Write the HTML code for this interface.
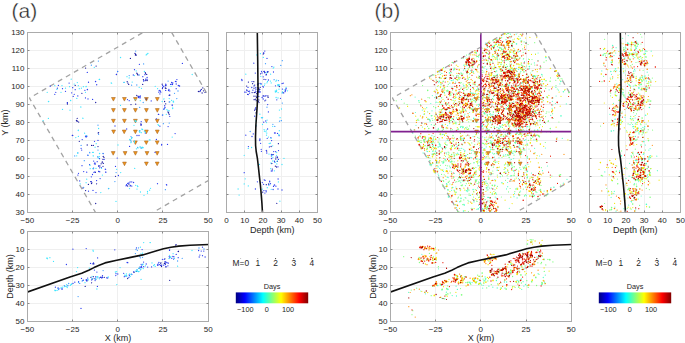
<!DOCTYPE html>
<html><head><meta charset="utf-8"><style>
html,body{margin:0;padding:0;background:#fff;}
svg{display:block;}
text{font-family:"Liberation Sans", sans-serif;fill:#262626;}
</style></head><body>
<svg width="685" height="343" viewBox="0 0 685 343">
<defs><linearGradient id="jet" x1="0" x2="1" y1="0" y2="0">
<stop offset="0" stop-color="#000080"/><stop offset="0.125" stop-color="#0000ff"/>
<stop offset="0.375" stop-color="#00ffff"/><stop offset="0.625" stop-color="#ffff00"/>
<stop offset="0.875" stop-color="#ff0000"/><stop offset="1" stop-color="#800000"/>
</linearGradient></defs>
<rect width="685" height="343" fill="#fff"/>
<line x1="72.5" y1="32.5" x2="72.5" y2="212.5" stroke="#efefef"/><line x1="117.5" y1="32.5" x2="117.5" y2="212.5" stroke="#efefef"/><line x1="162.5" y1="32.5" x2="162.5" y2="212.5" stroke="#efefef"/><line x1="27.5" y1="194.5" x2="208.5" y2="194.5" stroke="#efefef"/><line x1="27.5" y1="176.5" x2="208.5" y2="176.5" stroke="#efefef"/><line x1="27.5" y1="158.5" x2="208.5" y2="158.5" stroke="#efefef"/><line x1="27.5" y1="140.5" x2="208.5" y2="140.5" stroke="#efefef"/><line x1="27.5" y1="122.5" x2="208.5" y2="122.5" stroke="#efefef"/><line x1="27.5" y1="104.5" x2="208.5" y2="104.5" stroke="#efefef"/><line x1="27.5" y1="86.5" x2="208.5" y2="86.5" stroke="#efefef"/><line x1="27.5" y1="68.5" x2="208.5" y2="68.5" stroke="#efefef"/><line x1="27.5" y1="50.5" x2="208.5" y2="50.5" stroke="#efefef"/><line x1="244.5" y1="32.5" x2="244.5" y2="212.5" stroke="#efefef"/><line x1="262.5" y1="32.5" x2="262.5" y2="212.5" stroke="#efefef"/><line x1="281.5" y1="32.5" x2="281.5" y2="212.5" stroke="#efefef"/><line x1="299.5" y1="32.5" x2="299.5" y2="212.5" stroke="#efefef"/><line x1="226.5" y1="194.5" x2="317.5" y2="194.5" stroke="#efefef"/><line x1="226.5" y1="176.5" x2="317.5" y2="176.5" stroke="#efefef"/><line x1="226.5" y1="158.5" x2="317.5" y2="158.5" stroke="#efefef"/><line x1="226.5" y1="140.5" x2="317.5" y2="140.5" stroke="#efefef"/><line x1="226.5" y1="122.5" x2="317.5" y2="122.5" stroke="#efefef"/><line x1="226.5" y1="104.5" x2="317.5" y2="104.5" stroke="#efefef"/><line x1="226.5" y1="86.5" x2="317.5" y2="86.5" stroke="#efefef"/><line x1="226.5" y1="68.5" x2="317.5" y2="68.5" stroke="#efefef"/><line x1="226.5" y1="50.5" x2="317.5" y2="50.5" stroke="#efefef"/><line x1="72.5" y1="231.5" x2="72.5" y2="321.5" stroke="#efefef"/><line x1="117.5" y1="231.5" x2="117.5" y2="321.5" stroke="#efefef"/><line x1="162.5" y1="231.5" x2="162.5" y2="321.5" stroke="#efefef"/><line x1="27.5" y1="249.5" x2="208.5" y2="249.5" stroke="#efefef"/><line x1="27.5" y1="267.5" x2="208.5" y2="267.5" stroke="#efefef"/><line x1="27.5" y1="285.5" x2="208.5" y2="285.5" stroke="#efefef"/><line x1="27.5" y1="303.5" x2="208.5" y2="303.5" stroke="#efefef"/><clipPath id="c0m"><rect x="27.5" y="32.5" width="181.0" height="180.0"/></clipPath><clipPath id="c0d"><rect x="226.5" y="32.5" width="91.0" height="180.0"/></clipPath><clipPath id="c0z"><rect x="27.5" y="231.5" width="181.0" height="90.0"/></clipPath><g clip-path="url(#c0m)"><line x1="29.43" y1="98.03" x2="164.50" y2="20.05" stroke="#a3a3a3" stroke-width="1.3" stroke-dasharray="5 4.25" stroke-dashoffset="4.14"/><line x1="29.43" y1="98.03" x2="109.90" y2="237.35" stroke="#a3a3a3" stroke-width="1.3" stroke-dasharray="5 4.25" stroke-dashoffset="1.4"/><line x1="164.50" y1="20.05" x2="244.90" y2="159.40" stroke="#a3a3a3" stroke-width="1.3" stroke-dasharray="5 4.25" stroke-dashoffset="4.3"/><line x1="244.90" y1="159.40" x2="109.90" y2="237.35" stroke="#a3a3a3" stroke-width="1.3" stroke-dasharray="5 4.25" stroke-dashoffset="5.0"/><path d="M111.50,97.50L115.30,97.50L113.40,101.10ZM122.50,97.50L126.30,97.50L124.40,101.10ZM133.50,97.50L137.30,97.50L135.40,101.10ZM144.50,97.50L148.30,97.50L146.40,101.10ZM155.40,97.50L159.20,97.50L157.30,101.10ZM111.50,108.60L115.30,108.60L113.40,112.20ZM122.50,108.60L126.30,108.60L124.40,112.20ZM133.50,108.60L137.30,108.60L135.40,112.20ZM144.50,108.60L148.30,108.60L146.40,112.20ZM155.40,108.60L159.20,108.60L157.30,112.20ZM111.50,119.30L115.30,119.30L113.40,122.90ZM122.50,119.30L126.30,119.30L124.40,122.90ZM133.50,119.30L137.30,119.30L135.40,122.90ZM144.50,119.30L148.30,119.30L146.40,122.90ZM155.40,119.30L159.20,119.30L157.30,122.90ZM111.70,130.10L115.50,130.10L113.60,133.70ZM122.30,130.10L126.10,130.10L124.20,133.70ZM133.50,130.10L137.30,130.10L135.40,133.70ZM144.50,130.10L148.30,130.10L146.40,133.70ZM155.40,130.10L159.20,130.10L157.30,133.70ZM133.50,140.90L137.30,140.90L135.40,144.50ZM144.40,140.90L148.20,140.90L146.30,144.50ZM155.30,140.90L159.10,140.90L157.20,144.50ZM111.30,151.60L115.10,151.60L113.20,155.20ZM123.20,151.60L127.00,151.60L125.10,155.20ZM133.50,151.60L137.30,151.60L135.40,155.20ZM145.10,151.60L148.90,151.60L147.00,155.20ZM155.30,151.60L159.10,151.60L157.20,155.20ZM122.60,162.10L126.40,162.10L124.50,165.70ZM144.50,162.10L148.30,162.10L146.40,165.70ZM155.30,162.10L159.10,162.10L157.20,165.70Z" fill="#f39416" stroke="#a86a28" stroke-width="0.6"/><path d="M75.2 85.4h0M81.9 93.3h0M95.7 102.5h0M67.4 102.6h0M67.4 104.0h0M72.7 135.4h0M76.8 121.0h0M77.2 118.3h0M96.1 66.1h0M85.6 68.1h0M116.5 74.5h0M135.0 53.4h0M135.6 54.2h0M136.2 55.2h0M135.4 55.0h0M130.4 58.4h0M136.8 73.2h0M137.4 74.1h0M138.0 75.0h0M145.7 80.6h0M145.3 72.6h0M143.4 79.7h0M145.5 73.6h0M146.7 74.4h0M147.2 80.4h0M147.1 80.5h0M127.2 81.7h0M127.9 83.1h0M128.7 84.4h0M142.7 84.4h0M136.8 95.5h0M138.2 96.5h0M131.0 104.6h0M135.7 104.2h0M146.2 99.0h0M162.4 88.6h0M165.3 88.0h0M165.4 85.7h0M162.2 84.2h0M166.0 88.4h0M169.3 95.3h0M169.9 95.1h0M164.6 101.5h0M165.7 103.8h0M168.0 112.0h0M168.6 113.0h0M169.2 114.3h0M158.4 114.3h0M198.4 91.5h0M199.9 91.5h0M201.3 89.4h0M202.8 87.9h0M203.5 90.8h0M205.0 92.3h0M202.1 93.0h0M140.9 123.9h0M141.0 125.2h0M76.4 120.3h0M77.6 121.2h0M78.7 122.1h0M98.6 132.6h0M98.2 133.0h0M79.3 141.3h0M91.6 145.4h0M93.3 145.4h0M98.0 146.6h0M103.2 156.5h0M87.2 145.0h0M103.0 166.3h0M88.4 184.4h0M96.6 183.8h0M103.0 159.4h0M104.0 157.3h0M103.4 163.3h0M101.1 163.8h0M102.2 162.7h0M102.3 161.8h0M98.6 166.1h0M99.9 165.9h0M95.4 172.3h0M98.9 171.5h0M91.5 183.5h0M91.9 182.8h0M90.8 181.6h0M115.5 176.3h0M128.9 184.2h0M130.1 185.9h0M127.7 186.1h0M95.7 203.5h0M83.0 188.0h0M85.6 190.6h0" stroke="#1a1aa0" stroke-width="1.30" stroke-linecap="round"/><path d="M58.4 85.4h0M69.1 83.1h0M88.5 82.3h0M95.7 81.6h0M96.7 84.6h0M50.2 86.2h0M57.4 88.2h0M62.5 88.7h0M55.8 92.3h0M54.8 94.3h0M65.5 91.3h0M72.7 87.7h0M71.7 92.8h0M75.2 89.7h0M74.2 94.3h0M73.2 96.4h0M84.9 90.3h0M87.5 89.7h0M77.8 95.9h0M85.5 97.9h0M88.0 98.9h0M92.6 99.4h0M67.4 103.0h0M87.3 72.4h0M88.5 82.1h0M95.5 81.5h0M96.7 84.8h0M87.3 89.4h0M139.4 64.3h0M117.6 71.5h0M116.4 74.4h0M134.5 69.7h0M133.3 75.0h0M145.6 79.2h0M147.0 79.2h0M142.8 76.7h0M144.9 74.7h0M144.0 80.7h0M147.1 77.4h0M143.6 81.0h0M140.3 96.0h0M138.9 96.4h0M138.6 97.5h0M140.0 97.9h0M140.1 96.9h0M127.5 99.6h0M129.2 100.7h0M166.1 84.9h0M163.7 86.5h0M162.6 87.5h0M165.7 84.2h0M162.6 85.6h0M166.0 85.6h0M160.3 91.0h0M159.2 90.5h0M160.8 92.2h0M158.8 92.2h0M159.9 93.9h0M176.2 84.0h0M176.2 88.7h0M165.7 90.4h0M151.2 100.9h0M172.2 105.0h0M171.6 82.4h0M172.8 83.0h0M170.6 84.4h0M171.8 84.1h0M172.5 84.5h0M176.9 79.6h0M175.4 81.3h0M176.1 81.7h0M179.6 86.0h0M179.1 86.0h0M178.3 85.4h0M169.8 90.9h0M168.9 89.5h0M168.5 90.5h0M169.3 95.2h0M169.3 101.9h0M165.1 107.6h0M163.7 109.2h0M164.3 108.5h0M164.7 105.9h0M164.4 108.3h0M164.7 105.7h0M172.2 105.6h0M169.8 116.3h0M156.4 118.8h0M168.1 126.6h0M175.1 133.6h0M156.4 139.4h0M161.7 144.4h0M167.5 144.4h0M159.9 126.2h0M182.4 63.4h0M200.5 90.5h0M141.3 124.7h0M141.2 121.7h0M126.7 129.0h0M115.0 126.0h0M137.0 135.5h0M139.0 135.5h0M129.6 146.4h0M161.6 145.0h0M155.0 152.3h0M117.2 158.1h0M158.7 114.4h0M162.4 115.1h0M145.3 133.1h0M139.7 130.8h0M141.1 148.0h0M72.3 135.5h0M82.2 139.6h0M98.0 140.4h0M94.5 141.3h0M81.1 148.3h0M81.7 150.1h0M103.2 153.6h0M86.9 136.2h0M86.6 135.8h0M85.5 136.2h0M86.1 137.0h0M87.8 155.2h0M93.7 161.1h0M97.2 161.7h0M82.0 165.7h0M105.3 169.2h0M83.7 171.6h0M86.7 172.2h0M105.9 172.2h0M78.5 173.3h0M77.9 175.1h0M92.5 174.5h0M91.3 176.8h0M100.1 178.6h0M79.7 180.9h0M96.6 180.6h0M97.8 156.8h0M99.5 158.7h0M104.2 159.3h0M89.6 164.7h0M94.4 163.8h0M95.3 164.0h0M94.9 162.9h0M98.8 165.9h0M93.6 168.1h0M93.3 168.7h0M101.3 167.6h0M99.6 167.8h0M94.9 171.8h0M93.9 172.3h0M98.7 171.4h0M99.8 171.8h0M91.3 181.7h0M115.5 166.4h0M105.6 169.3h0M105.6 172.2h0M118.4 175.5h0M108.5 188.6h0M126.5 184.6h0M127.7 183.4h0M128.9 183.0h0M130.1 181.9h0M131.8 181.9h0M133.6 182.5h0M130.6 185.3h0M131.8 186.1h0M127.1 185.3h0M126.0 185.8h0M93.0 190.4h0M96.0 192.6h0M88.5 191.2h0M166.4 184.6h0M166.7 185.0h0M157.5 183.7h0" stroke="#2b3cf0" stroke-width="1.30" stroke-linecap="round"/><path d="M98.4 61.1h0M91.4 65.2h0M117.7 71.6h0M135.7 51.1h0M143.6 63.9h0M129.2 75.6h0M139.2 75.0h0M124.0 82.4h0M131.6 85.2h0M136.8 85.0h0M143.2 102.5h0M139.7 107.4h0M168.1 81.1h0M178.0 91.0h0M174.5 93.3h0M176.8 98.6h0M164.5 108.8h0M162.8 114.9h0M163.4 123.7h0M169.2 123.1h0M130.3 140.1h0M131.7 137.8h0M131.1 141.2h0M131.0 136.6h0M137.6 147.3h0M98.0 125.2h0M98.6 134.3h0M81.1 145.4h0M98.0 150.1h0M74.7 155.9h0M88.1 155.3h0M89.8 152.8h0M77.9 152.9h0M89.6 152.3h0M103.0 153.5h0M84.3 160.7h0M83.7 187.3h0M116.1 172.6h0M114.9 181.6h0M165.4 189.7h0" stroke="#3d9bff" stroke-width="1.30" stroke-linecap="round"/><path d="M71.2 79.2h0M99.2 79.5h0M77.3 82.6h0M54.8 85.7h0M62.0 85.7h0M47.2 92.3h0M65.5 88.2h0M61.0 92.3h0M48.7 101.5h0M70.6 100.5h0M76.8 98.4h0M80.9 107.1h0M79.3 88.7h0M81.4 88.2h0M83.4 86.7h0M86.0 86.7h0M74.2 84.1h0M78.3 85.7h0M69.6 86.7h0M56.9 89.4h0M85.5 92.3h0M48.4 101.6h0M70.7 100.7h0M62.5 109.4h0M70.0 110.2h0M48.4 118.4h0M43.1 120.7h0M78.2 130.6h0M83.0 118.3h0M80.8 107.0h0M120.6 57.6h0M94.3 67.3h0M99.6 79.4h0M111.6 83.2h0M124.1 82.4h0M86.2 86.4h0M146.2 54.9h0M147.0 54.2h0M147.9 53.4h0M120.5 57.5h0M136.2 70.9h0M127.0 76.7h0M129.2 77.9h0M134.5 75.6h0M144.4 71.5h0M111.2 82.9h0M132.2 82.1h0M139.2 87.3h0M141.5 88.3h0M135.1 99.6h0M140.3 100.7h0M120.5 105.4h0M171.0 86.3h0M169.2 98.6h0M172.7 107.9h0M155.2 86.3h0M157.6 88.7h0M162.2 101.5h0M164.0 98.8h0M163.8 99.1h0M171.6 100.3h0M173.2 101.9h0M169.9 101.8h0M173.3 101.1h0M173.6 102.0h0M166.9 109.7h0M168.0 110.3h0M169.2 110.8h0M172.7 108.5h0M166.3 114.3h0M158.7 125.4h0M172.2 137.1h0M150.0 140.0h0M192.2 74.5h0M135.7 121.6h0M136.2 121.6h0M135.7 120.7h0M135.0 120.9h0M134.0 125.3h0M149.3 139.9h0M158.0 124.6h0M118.0 145.0h0M141.7 129.1h0M139.8 132.3h0M139.2 131.1h0M142.6 129.5h0M145.3 132.2h0M144.4 131.2h0M139.9 131.0h0M141.3 132.7h0M131.5 138.7h0M131.1 142.6h0M134.5 142.2h0M130.9 142.7h0M132.1 137.6h0M130.2 140.0h0M129.7 139.4h0M134.4 141.2h0M138.0 148.0h0M136.4 148.8h0M140.1 146.7h0M140.1 147.3h0M142.0 148.0h0M143.2 147.7h0M142.2 147.1h0M141.6 148.2h0M82.8 118.2h0M98.6 128.5h0M78.4 130.2h0M84.6 133.2h0M75.8 137.6h0M78.4 136.4h0M96.2 143.7h0M95.1 147.2h0M77.6 153.0h0M93.3 152.4h0M93.3 155.9h0M99.7 153.6h0M98.0 157.1h0M86.4 135.6h0M76.7 155.8h0M92.5 152.3h0M93.1 155.8h0M99.5 153.5h0M90.2 168.7h0M102.4 175.1h0M86.7 179.2h0M86.1 182.7h0M80.2 183.8h0M108.8 188.5h0M98.3 158.0h0M99.4 156.6h0M90.0 165.4h0M96.0 168.4h0M92.9 168.6h0M93.1 168.5h0M101.5 168.3h0M116.7 169.3h0M120.7 172.6h0M134.7 168.4h0M129.5 188.6h0M137.0 189.1h0M140.5 192.0h0M144.0 195.3h0M147.5 191.5h0M147.5 193.2h0M150.5 188.3h0M137.8 186.4h0M137.7 186.6h0M137.4 185.8h0M135.7 185.3h0M116.0 201.4h0M100.8 192.6h0M149.6 190.2h0" stroke="#3ee6ff" stroke-width="1.30" stroke-linecap="round"/></g><g clip-path="url(#c0d)"><path d="M263.2 54.1h0M263.5 53.1h0M266.4 74.6h0M260.6 73.8h0M264.0 71.4h0M267.6 72.2h0M264.0 79.3h0M264.7 72.7h0M268.0 71.7h0M246.7 86.1h0M253.8 81.7h0M254.0 88.2h0M252.6 83.7h0M248.4 82.1h0M247.6 94.3h0M260.2 87.3h0M257.9 84.6h0M257.8 91.4h0M256.8 93.6h0M257.5 84.2h0M255.1 92.4h0M254.7 85.1h0M257.8 87.7h0M257.4 94.4h0M259.8 89.5h0M257.7 93.9h0M258.3 89.5h0M258.8 91.6h0M258.7 88.4h0M256.8 93.5h0M282.8 92.4h0M279.3 86.5h0M247.0 90.3h0M254.2 92.6h0M252.1 92.6h0M259.0 102.6h0M256.0 96.2h0M255.4 99.2h0M258.8 99.9h0M258.3 101.4h0M254.1 99.7h0M256.2 100.7h0M254.0 96.2h0M256.5 97.3h0M263.7 95.9h0M264.9 100.8h0M267.9 96.0h0M268.1 97.4h0M254.6 110.2h0M255.3 108.8h0M256.0 112.9h0M278.4 143.7h0M271.1 146.5h0M266.7 151.1h0M272.2 154.7h0M271.8 163.5h0M277.3 161.4h0M275.8 159.0h0M276.6 167.0h0M276.0 157.1h0M275.4 166.2h0M272.3 169.1h0M277.5 157.7h0M276.8 203.3h0M266.3 184.7h0M262.7 192.2h0M268.7 184.0h0" stroke="#1a1aa0" stroke-width="1.30" stroke-linecap="round"/><path d="M263.8 53.0h0M263.9 53.2h0M264.8 51.1h0M267.0 58.4h0M253.8 63.2h0M255.3 73.1h0M273.5 72.0h0M271.9 66.6h0M266.0 74.9h0M262.0 73.0h0M267.4 71.7h0M261.5 71.3h0M264.4 71.4h0M263.2 76.8h0M265.0 72.5h0M268.4 80.0h0M265.8 79.6h0M241.8 79.4h0M242.0 80.5h0M251.8 87.5h0M255.9 89.2h0M254.0 85.9h0M248.0 87.4h0M246.7 90.0h0M248.3 91.4h0M248.2 94.5h0M249.6 93.1h0M252.0 81.6h0M255.8 87.7h0M257.2 91.4h0M258.7 92.3h0M257.7 85.1h0M260.1 83.3h0M258.3 83.6h0M259.4 91.8h0M263.5 87.1h0M261.3 83.9h0M262.8 86.3h0M283.2 83.2h0M282.0 83.6h0M282.4 89.1h0M275.5 85.8h0M283.0 92.8h0M278.5 85.1h0M285.7 89.7h0M286.1 88.5h0M285.1 91.7h0M246.0 92.2h0M252.9 90.2h0M259.1 90.1h0M260.3 91.9h0M258.6 91.5h0M255.4 91.1h0M249.5 91.2h0M244.6 92.1h0M258.9 92.3h0M285.7 90.1h0M283.7 92.9h0M285.3 91.0h0M258.8 96.4h0M262.1 97.5h0M263.0 95.9h0M263.2 99.0h0M265.7 100.1h0M265.0 96.2h0M266.0 95.7h0M280.5 98.3h0M276.8 99.8h0M267.7 104.6h0M268.4 111.9h0M254.6 116.2h0M245.8 135.2h0M256.0 109.4h0M255.8 107.7h0M262.0 117.7h0M263.7 122.2h0M265.8 121.0h0M255.9 126.1h0M267.6 129.0h0M274.5 132.9h0M275.2 132.9h0M275.0 133.2h0M277.5 133.4h0M279.1 135.7h0M270.9 137.7h0M267.2 138.3h0M253.3 133.9h0M252.0 136.5h0M259.9 139.0h0M259.9 139.4h0M273.7 151.6h0M271.6 140.6h0M269.4 146.9h0M266.3 150.5h0M266.8 153.0h0M275.7 151.7h0M278.5 150.6h0M277.4 156.8h0M271.4 155.9h0M274.5 161.1h0M271.7 158.7h0M278.0 166.8h0M271.3 171.0h0M274.6 161.9h0M278.4 159.4h0M273.5 154.6h0M271.4 154.5h0M272.4 170.8h0M271.5 158.3h0M260.6 143.3h0M259.8 140.5h0M261.2 149.3h0M261.4 151.3h0M248.4 146.6h0M244.2 172.7h0M257.4 181.8h0M255.4 189.0h0M282.0 190.0h0M273.5 186.4h0M274.2 185.2h0M264.9 193.1h0M269.7 181.8h0M263.9 190.6h0M266.0 190.7h0M275.9 186.2h0M264.2 179.8h0M273.1 189.5h0M274.2 185.1h0M262.3 182.6h0M266.2 191.8h0M265.1 180.3h0M268.6 184.8h0M270.5 183.7h0M269.7 181.1h0M274.6 184.9h0M278.0 189.0h0M278.1 179.0h0M263.6 184.3h0" stroke="#2b3cf0" stroke-width="1.30" stroke-linecap="round"/><path d="M265.5 63.7h0M282.3 60.7h0M280.8 65.4h0M274.1 79.7h0M278.5 80.6h0M267.0 107.2h0M282.3 103.1h0M250.2 131.5h0M279.5 121.2h0M281.2 120.7h0M281.3 120.7h0M272.9 124.3h0M274.8 126.4h0" stroke="#3d9bff" stroke-width="1.30" stroke-linecap="round"/><path d="M260.4 53.7h0M256.8 54.9h0M263.3 57.4h0M245.8 74.2h0M270.6 74.2h0M273.9 67.1h0M273.2 68.1h0M266.7 73.0h0M260.8 76.3h0M264.9 83.8h0M260.8 84.6h0M264.4 85.3h0M267.0 82.8h0M271.2 82.9h0M267.5 81.5h0M270.4 81.1h0M275.9 81.2h0M276.7 80.2h0M279.5 85.0h0M282.0 92.9h0M277.8 85.5h0M279.0 89.2h0M278.8 84.9h0M277.8 84.7h0M276.6 90.2h0M284.3 89.8h0M287.6 90.8h0M286.1 87.3h0M275.4 92.0h0M276.5 91.5h0M278.1 92.6h0M275.3 90.9h0M282.5 91.9h0M278.0 98.0h0M276.1 97.5h0M279.4 110.1h0M281.5 109.0h0M280.1 117.7h0M259.9 114.2h0M262.6 117.7h0M261.4 117.7h0M267.1 120.1h0M266.5 122.6h0M262.5 124.4h0M256.0 121.0h0M256.3 125.2h0M272.7 126.3h0M264.1 129.6h0M264.4 131.2h0M266.3 130.1h0M265.9 131.7h0M266.8 133.1h0M278.9 135.2h0M279.3 130.7h0M278.9 134.4h0M271.1 138.3h0M266.5 135.2h0M268.5 137.1h0M276.7 152.6h0M270.5 143.2h0M272.7 145.8h0M269.2 143.5h0M269.0 154.1h0M277.3 160.9h0M274.4 170.8h0M272.0 155.5h0M272.9 157.3h0M272.8 161.1h0M270.7 168.7h0M276.8 163.9h0M270.8 163.1h0M276.5 155.3h0M275.2 162.3h0M272.9 160.9h0M248.3 148.4h0M251.6 147.5h0M244.2 155.3h0M259.5 164.5h0M284.0 158.4h0M282.0 164.5h0M245.2 178.8h0M248.3 185.9h0M244.2 183.9h0M238.1 189.0h0M239.1 195.1h0M279.9 201.2h0M269.7 184.9h0M267.3 187.7h0M278.4 181.9h0M262.3 189.2h0M271.2 189.3h0" stroke="#3ee6ff" stroke-width="1.30" stroke-linecap="round"/><polyline points="257.3,32.0 257.7,60.0 258.0,88.0 257.2,106.0 255.9,125.0 255.5,137.0 255.6,145.5 256.2,151.5 257.4,158.3 258.4,167.0 259.4,176.3 260.4,185.0 261.2,194.2 261.9,203.0 262.5,213.0" fill="none" stroke="#111" stroke-width="1.6" stroke-linejoin="round"/></g><g clip-path="url(#c0z)"><path d="M87.0 280.7h0M92.3 279.0h0M95.6 279.2h0M102.3 277.1h0M100.7 277.4h0M104.2 277.4h0M93.3 276.7h0M90.9 277.3h0M91.6 282.8h0M85.2 286.4h0M127.7 278.5h0M136.4 271.4h0M134.0 272.4h0M139.1 268.4h0M165.0 261.9h0M161.5 266.5h0M160.8 265.4h0M160.6 263.2h0M164.4 263.5h0M161.0 262.8h0M164.9 258.8h0M165.9 266.9h0M165.5 263.8h0M175.8 245.0h0M175.7 245.1h0M176.1 244.7h0M178.5 251.4h0M178.2 251.5h0M169.7 280.3h0M93.8 264.1h0M93.7 263.5h0" stroke="#1a1aa0" stroke-width="1.30" stroke-linecap="round"/><path d="M66.4 264.5h0M72.9 249.2h0M86.2 248.6h0M81.0 308.4h0M62.3 289.0h0M95.8 276.8h0M102.4 277.3h0M78.6 281.6h0M81.5 278.4h0M102.5 275.7h0M74.8 282.2h0M99.2 277.8h0M73.0 283.4h0M61.9 289.2h0M83.4 280.2h0M58.1 287.8h0M55.4 287.2h0M59.0 288.8h0M101.8 278.0h0M100.9 277.1h0M86.8 280.9h0M95.6 276.9h0M86.1 280.0h0M95.1 280.6h0M91.6 279.9h0M86.9 279.6h0M87.7 278.1h0M94.2 278.6h0M94.4 270.1h0M96.9 272.1h0M97.4 286.4h0M106.6 277.8h0M107.7 278.0h0M117.8 274.0h0M116.0 273.7h0M115.8 275.6h0M147.7 267.1h0M143.7 266.7h0M123.7 273.3h0M141.7 267.5h0M140.4 267.2h0M143.6 262.1h0M126.0 276.2h0M129.4 275.6h0M146.2 264.0h0M129.2 274.8h0M124.3 276.7h0M142.5 264.3h0M141.5 266.2h0M139.8 267.1h0M128.9 277.3h0M141.1 264.3h0M131.8 274.5h0M133.8 271.7h0M136.5 247.9h0M142.1 249.6h0M114.8 249.8h0M151.6 266.9h0M157.5 265.0h0M176.2 254.4h0M178.2 257.7h0M127.1 262.5h0M127.8 262.7h0M158.2 263.9h0M157.9 265.4h0M159.4 264.6h0M158.9 262.4h0M163.7 265.2h0M166.0 262.1h0M165.3 261.8h0M168.2 263.3h0M167.9 262.7h0M161.0 265.2h0M162.4 259.3h0M167.9 265.8h0M166.3 262.6h0M161.7 265.1h0M166.0 266.6h0M164.2 259.3h0M165.4 264.5h0M169.7 257.8h0M169.2 256.6h0M173.6 259.1h0M174.0 256.8h0M172.9 256.5h0M171.8 258.3h0M169.6 250.0h0M169.5 250.4h0M198.6 250.5h0M201.2 251.1h0M202.5 247.2h0M203.8 251.1h0M199.9 255.1h0M199.2 257.0h0M202.5 255.7h0M205.1 257.0h0M90.5 263.4h0M92.4 263.8h0M93.5 262.8h0M97.6 257.9h0" stroke="#2b3cf0" stroke-width="1.30" stroke-linecap="round"/><path d="M68.7 283.5h0M82.5 280.4h0M95.9 279.2h0M64.3 285.7h0M61.2 288.3h0M58.5 289.5h0M65.0 286.3h0M57.9 288.4h0M82.2 281.1h0M68.0 285.7h0M79.7 283.4h0M67.4 285.8h0M78.5 282.5h0M103.1 270.6h0M78.1 296.6h0M140.4 269.8h0M131.5 274.2h0M137.0 269.7h0M138.5 247.9h0M136.0 249.5h0M137.4 250.3h0M135.4 253.6h0M140.4 257.8h0M142.5 257.3h0M139.7 256.6h0M182.2 258.3h0M177.6 261.0h0M199.0 248.0h0M204.0 249.0h0" stroke="#3d9bff" stroke-width="1.30" stroke-linecap="round"/><path d="M47.5 258.7h0M49.9 257.7h0M47.0 257.8h0M46.9 258.4h0M53.5 261.4h0M93.3 251.2h0M93.0 250.2h0M55.6 290.6h0M70.3 285.4h0M61.1 287.3h0M66.7 284.6h0M66.3 286.3h0M57.1 290.4h0M95.2 279.2h0M71.4 284.0h0M62.7 287.2h0M71.6 284.4h0M54.9 290.5h0M54.9 290.1h0M88.0 279.7h0M97.2 277.9h0M67.2 287.5h0M64.7 286.6h0M85.0 282.7h0M71.1 284.4h0M92.0 276.3h0M88.4 279.9h0M97.8 276.7h0M97.0 277.0h0M99.4 278.8h0M92.0 278.7h0M77.6 267.6h0M76.5 271.6h0M89.3 268.1h0M96.9 289.0h0M108.2 277.2h0M108.2 277.0h0M116.7 271.7h0M115.4 272.0h0M136.5 271.1h0M138.8 268.2h0M135.4 271.1h0M129.7 273.9h0M130.2 276.4h0M145.5 265.9h0M142.3 265.0h0M126.4 273.9h0M139.0 271.5h0M143.2 264.1h0M138.3 271.6h0M139.8 268.2h0M143.2 268.5h0M137.2 270.0h0M126.8 276.0h0M124.7 275.2h0M131.0 274.3h0M137.5 271.1h0M126.0 275.3h0M140.9 269.2h0M142.7 254.9h0M140.9 253.8h0M142.5 253.2h0M143.7 242.6h0M150.3 242.6h0M140.4 247.2h0M120.1 267.6h0M141.1 279.4h0M116.8 284.6h0M150.0 242.6h0M177.6 266.2h0M192.0 250.5h0M152.0 262.9h0M155.2 266.4h0M153.7 265.5h0M154.5 264.6h0M169.5 255.3h0M174.5 258.4h0M169.0 258.5h0M170.8 256.7h0M170.5 257.3h0M173.1 253.7h0" stroke="#3ee6ff" stroke-width="1.30" stroke-linecap="round"/><polyline points="27.0,292.2 70.0,277.0 81.7,273.2 88.7,270.2 94.0,267.6 99.2,265.2 105.0,262.9 116.7,260.2 129.5,257.6 142.7,254.9 155.0,251.2 163.5,248.8 171.0,247.2 178.7,246.1 190.0,245.2 209.0,244.5" fill="none" stroke="#111" stroke-width="1.6" stroke-linejoin="round"/></g><rect x="27.5" y="32.5" width="181.0" height="180.0" fill="none" stroke="#ababab"/><rect x="226.5" y="32.5" width="91.0" height="180.0" fill="none" stroke="#ababab"/><rect x="27.5" y="231.5" width="181.0" height="90.0" fill="none" stroke="#ababab"/><path d="M72.5,212.5v-2M72.5,32.5v2M72.5,321.5v-2M72.5,231.5v2M117.5,212.5v-2M117.5,32.5v2M117.5,321.5v-2M117.5,231.5v2M162.5,212.5v-2M162.5,32.5v2M162.5,321.5v-2M162.5,231.5v2M27.5,194.5h2M208.5,194.5h-2M226.5,194.5h2M317.5,194.5h-2M27.5,176.5h2M208.5,176.5h-2M226.5,176.5h2M317.5,176.5h-2M27.5,158.5h2M208.5,158.5h-2M226.5,158.5h2M317.5,158.5h-2M27.5,140.5h2M208.5,140.5h-2M226.5,140.5h2M317.5,140.5h-2M27.5,122.5h2M208.5,122.5h-2M226.5,122.5h2M317.5,122.5h-2M27.5,104.5h2M208.5,104.5h-2M226.5,104.5h2M317.5,104.5h-2M27.5,86.5h2M208.5,86.5h-2M226.5,86.5h2M317.5,86.5h-2M27.5,68.5h2M208.5,68.5h-2M226.5,68.5h2M317.5,68.5h-2M27.5,50.5h2M208.5,50.5h-2M226.5,50.5h2M317.5,50.5h-2M244.5,212.5v-2M244.5,32.5v2M27.5,249.5h2M208.5,249.5h-2M262.5,212.5v-2M262.5,32.5v2M27.5,267.5h2M208.5,267.5h-2M281.5,212.5v-2M281.5,32.5v2M27.5,285.5h2M208.5,285.5h-2M299.5,212.5v-2M299.5,32.5v2M27.5,303.5h2M208.5,303.5h-2" stroke="#8a8a8a" stroke-width="1" fill="none"/><text x="24.50" y="215.40" font-size="8" text-anchor="end" >30</text><text x="24.50" y="197.40" font-size="8" text-anchor="end" >40</text><text x="24.50" y="179.40" font-size="8" text-anchor="end" >50</text><text x="24.50" y="161.40" font-size="8" text-anchor="end" >60</text><text x="24.50" y="143.40" font-size="8" text-anchor="end" >70</text><text x="24.50" y="125.40" font-size="8" text-anchor="end" >80</text><text x="24.50" y="107.40" font-size="8" text-anchor="end" >90</text><text x="24.50" y="89.40" font-size="8" text-anchor="end" >100</text><text x="24.50" y="71.40" font-size="8" text-anchor="end" >110</text><text x="24.50" y="53.40" font-size="8" text-anchor="end" >120</text><text x="24.50" y="35.40" font-size="8" text-anchor="end" >130</text><text x="27.40" y="223.00" font-size="8" text-anchor="middle" >&#8722;50</text><text x="27.40" y="332.00" font-size="8" text-anchor="middle" >&#8722;50</text><text x="72.60" y="223.00" font-size="8" text-anchor="middle" >&#8722;25</text><text x="72.60" y="332.00" font-size="8" text-anchor="middle" >&#8722;25</text><text x="117.80" y="223.00" font-size="8" text-anchor="middle" >0</text><text x="117.80" y="332.00" font-size="8" text-anchor="middle" >0</text><text x="163.00" y="223.00" font-size="8" text-anchor="middle" >25</text><text x="163.00" y="332.00" font-size="8" text-anchor="middle" >25</text><text x="208.20" y="223.00" font-size="8" text-anchor="middle" >50</text><text x="208.20" y="332.00" font-size="8" text-anchor="middle" >50</text><text x="226.60" y="223.00" font-size="8" text-anchor="middle" >0</text><text x="24.50" y="234.40" font-size="8" text-anchor="end" >0</text><text x="244.78" y="223.00" font-size="8" text-anchor="middle" >10</text><text x="24.50" y="252.40" font-size="8" text-anchor="end" >10</text><text x="262.96" y="223.00" font-size="8" text-anchor="middle" >20</text><text x="24.50" y="270.40" font-size="8" text-anchor="end" >20</text><text x="281.14" y="223.00" font-size="8" text-anchor="middle" >30</text><text x="24.50" y="288.40" font-size="8" text-anchor="end" >30</text><text x="299.32" y="223.00" font-size="8" text-anchor="middle" >40</text><text x="24.50" y="306.40" font-size="8" text-anchor="end" >40</text><text x="317.50" y="223.00" font-size="8" text-anchor="middle" >50</text><text x="24.50" y="324.40" font-size="8" text-anchor="end" >50</text><text transform="translate(7.7,122.7) rotate(-90)" font-size="9" text-anchor="middle">Y (km)</text><text transform="translate(12.8,276.6) rotate(-90)" font-size="9" text-anchor="middle">Depth (km)</text><text x="118.00" y="341.00" font-size="9" text-anchor="middle" >X (km)</text><text x="272.20" y="232.60" font-size="9" text-anchor="middle" >Depth (km)</text><text x="11.5" y="18" font-size="21" style="stroke:#fff;stroke-width:0.35px">(a)</text><text x="240.80" y="266.00" font-size="8.4" text-anchor="middle" >M=0</text><text x="257.80" y="266.00" font-size="8.4" text-anchor="middle" >1</text><text x="275.60" y="266.00" font-size="8.4" text-anchor="middle" >2</text><text x="293.80" y="266.00" font-size="8.4" text-anchor="middle" >3</text><text x="311.90" y="266.00" font-size="8.4" text-anchor="middle" >4</text><circle cx="240.8" cy="258.6" r="0.3" fill="#222"/><circle cx="257.8" cy="258.6" r="0.45" fill="#222"/><circle cx="275.6" cy="258.6" r="0.55" fill="#222"/><circle cx="293.8" cy="258.6" r="0.65" fill="#222"/><circle cx="311.9" cy="258.6" r="0.75" fill="#222"/><text x="272.00" y="288.90" font-size="7.3" text-anchor="middle" >Days</text><rect x="235.8" y="292.4" width="72.4" height="10.9" fill="url(#jet)"/><text x="245.30" y="312.10" font-size="7.3" text-anchor="middle" >&#8722;100</text><text x="266.70" y="312.10" font-size="7.3" text-anchor="middle" >0</text><text x="288.00" y="312.10" font-size="7.3" text-anchor="middle" >100</text><line x1="435.5" y1="32.5" x2="435.5" y2="212.5" stroke="#efefef"/><line x1="480.5" y1="32.5" x2="480.5" y2="212.5" stroke="#efefef"/><line x1="526.5" y1="32.5" x2="526.5" y2="212.5" stroke="#efefef"/><line x1="390.5" y1="194.5" x2="571.5" y2="194.5" stroke="#efefef"/><line x1="390.5" y1="176.5" x2="571.5" y2="176.5" stroke="#efefef"/><line x1="390.5" y1="158.5" x2="571.5" y2="158.5" stroke="#efefef"/><line x1="390.5" y1="140.5" x2="571.5" y2="140.5" stroke="#efefef"/><line x1="390.5" y1="122.5" x2="571.5" y2="122.5" stroke="#efefef"/><line x1="390.5" y1="104.5" x2="571.5" y2="104.5" stroke="#efefef"/><line x1="390.5" y1="86.5" x2="571.5" y2="86.5" stroke="#efefef"/><line x1="390.5" y1="68.5" x2="571.5" y2="68.5" stroke="#efefef"/><line x1="390.5" y1="50.5" x2="571.5" y2="50.5" stroke="#efefef"/><line x1="607.5" y1="32.5" x2="607.5" y2="212.5" stroke="#efefef"/><line x1="625.5" y1="32.5" x2="625.5" y2="212.5" stroke="#efefef"/><line x1="644.5" y1="32.5" x2="644.5" y2="212.5" stroke="#efefef"/><line x1="662.5" y1="32.5" x2="662.5" y2="212.5" stroke="#efefef"/><line x1="589.5" y1="194.5" x2="680.5" y2="194.5" stroke="#efefef"/><line x1="589.5" y1="176.5" x2="680.5" y2="176.5" stroke="#efefef"/><line x1="589.5" y1="158.5" x2="680.5" y2="158.5" stroke="#efefef"/><line x1="589.5" y1="140.5" x2="680.5" y2="140.5" stroke="#efefef"/><line x1="589.5" y1="122.5" x2="680.5" y2="122.5" stroke="#efefef"/><line x1="589.5" y1="104.5" x2="680.5" y2="104.5" stroke="#efefef"/><line x1="589.5" y1="86.5" x2="680.5" y2="86.5" stroke="#efefef"/><line x1="589.5" y1="68.5" x2="680.5" y2="68.5" stroke="#efefef"/><line x1="589.5" y1="50.5" x2="680.5" y2="50.5" stroke="#efefef"/><line x1="435.5" y1="231.5" x2="435.5" y2="321.5" stroke="#efefef"/><line x1="480.5" y1="231.5" x2="480.5" y2="321.5" stroke="#efefef"/><line x1="526.5" y1="231.5" x2="526.5" y2="321.5" stroke="#efefef"/><line x1="390.5" y1="249.5" x2="571.5" y2="249.5" stroke="#efefef"/><line x1="390.5" y1="267.5" x2="571.5" y2="267.5" stroke="#efefef"/><line x1="390.5" y1="285.5" x2="571.5" y2="285.5" stroke="#efefef"/><line x1="390.5" y1="303.5" x2="571.5" y2="303.5" stroke="#efefef"/><clipPath id="c363m"><rect x="390.5" y="32.5" width="181.0" height="180.0"/></clipPath><clipPath id="c363d"><rect x="589.5" y="32.5" width="91.0" height="180.0"/></clipPath><clipPath id="c363z"><rect x="390.5" y="231.5" width="181.0" height="90.0"/></clipPath><g clip-path="url(#c363m)"><line x1="392.43" y1="98.03" x2="527.50" y2="20.05" stroke="#a3a3a3" stroke-width="1.3" stroke-dasharray="5 4.25" stroke-dashoffset="4.14"/><line x1="392.43" y1="98.03" x2="472.90" y2="237.35" stroke="#a3a3a3" stroke-width="1.3" stroke-dasharray="5 4.25" stroke-dashoffset="1.4"/><line x1="527.50" y1="20.05" x2="607.90" y2="159.40" stroke="#a3a3a3" stroke-width="1.3" stroke-dasharray="5 4.25" stroke-dashoffset="4.3"/><line x1="607.90" y1="159.40" x2="472.90" y2="237.35" stroke="#a3a3a3" stroke-width="1.3" stroke-dasharray="5 4.25" stroke-dashoffset="5.0"/><path d="M474.50,97.50L478.30,97.50L476.40,101.10ZM485.50,97.50L489.30,97.50L487.40,101.10ZM496.50,97.50L500.30,97.50L498.40,101.10ZM507.50,97.50L511.30,97.50L509.40,101.10ZM518.40,97.50L522.20,97.50L520.30,101.10ZM474.50,108.60L478.30,108.60L476.40,112.20ZM485.50,108.60L489.30,108.60L487.40,112.20ZM496.50,108.60L500.30,108.60L498.40,112.20ZM507.50,108.60L511.30,108.60L509.40,112.20ZM518.40,108.60L522.20,108.60L520.30,112.20ZM474.50,119.30L478.30,119.30L476.40,122.90ZM485.50,119.30L489.30,119.30L487.40,122.90ZM496.50,119.30L500.30,119.30L498.40,122.90ZM507.50,119.30L511.30,119.30L509.40,122.90ZM518.40,119.30L522.20,119.30L520.30,122.90ZM474.70,130.10L478.50,130.10L476.60,133.70ZM485.30,130.10L489.10,130.10L487.20,133.70ZM496.50,130.10L500.30,130.10L498.40,133.70ZM507.50,130.10L511.30,130.10L509.40,133.70ZM518.40,130.10L522.20,130.10L520.30,133.70ZM496.50,140.90L500.30,140.90L498.40,144.50ZM507.40,140.90L511.20,140.90L509.30,144.50ZM518.30,140.90L522.10,140.90L520.20,144.50ZM474.30,151.60L478.10,151.60L476.20,155.20ZM486.20,151.60L490.00,151.60L488.10,155.20ZM496.50,151.60L500.30,151.60L498.40,155.20ZM508.10,151.60L511.90,151.60L510.00,155.20ZM518.30,151.60L522.10,151.60L520.20,155.20ZM485.60,162.10L489.40,162.10L487.50,165.70ZM507.50,162.10L511.30,162.10L509.40,165.70ZM518.30,162.10L522.10,162.10L520.20,165.70Z" fill="#f39416" stroke="#a86a28" stroke-width="0.6"/><path d="M487.1 45.3h0M493.1 40.1h0M493.5 46.1h0M485.8 43.0h0M487.4 47.5h0M499.0 43.0h0M513.4 41.5h0M508.9 36.8h0M495.4 44.3h0M501.8 48.0h0M509.1 42.7h0M501.0 44.5h0M509.6 40.9h0M501.7 37.7h0M512.4 46.7h0M510.1 37.8h0M497.2 39.7h0M503.6 41.3h0M510.4 34.2h0M506.0 39.7h0M513.4 28.9h0M517.8 32.2h0M516.2 34.2h0M520.7 41.0h0M520.2 38.3h0M473.3 62.0h0M478.6 55.8h0M469.0 54.7h0M467.1 63.2h0M478.7 57.1h0M466.1 58.0h0M480.6 49.7h0M495.6 52.7h0M492.8 55.9h0M493.6 56.4h0M506.9 56.1h0M497.4 46.7h0M503.5 53.3h0M499.0 55.4h0M505.6 60.1h0M509.4 55.7h0M503.7 53.3h0M498.1 50.2h0M512.0 52.0h0M512.7 58.0h0M514.4 59.0h0M519.4 51.5h0M515.2 57.8h0M509.8 47.0h0M513.1 61.1h0M518.2 52.0h0M523.3 59.1h0M535.5 54.1h0M538.0 60.5h0M538.1 53.0h0M429.9 76.1h0M439.9 72.1h0M441.9 73.4h0M455.4 78.8h0M456.6 77.1h0M461.0 72.9h0M453.6 70.0h0M463.9 65.2h0M458.7 76.9h0M456.7 75.6h0M454.2 68.1h0M479.5 64.6h0M470.7 70.7h0M472.3 64.4h0M471.7 71.9h0M480.9 70.3h0M468.6 79.2h0M469.6 73.9h0M479.0 75.9h0M463.6 70.1h0M484.0 67.9h0M486.7 69.4h0M491.9 77.8h0M482.2 66.5h0M481.2 67.4h0M483.1 67.1h0M484.2 63.0h0M490.0 66.4h0M493.8 69.1h0M489.5 74.5h0M494.2 66.8h0M503.1 66.9h0M501.4 68.5h0M500.6 69.8h0M509.3 76.1h0M507.4 76.8h0M513.3 69.2h0M503.6 65.1h0M498.9 79.5h0M496.7 70.9h0M507.6 66.4h0M505.6 76.8h0M506.4 76.3h0M492.9 62.8h0M518.7 69.5h0M516.8 75.0h0M523.2 66.7h0M520.8 71.4h0M510.7 72.9h0M515.6 70.1h0M515.9 75.5h0M517.1 77.6h0M524.5 61.5h0M512.9 78.3h0M521.6 63.9h0M510.7 69.2h0M515.2 69.7h0M516.4 68.4h0M517.3 71.5h0M524.1 78.9h0M516.5 78.2h0M518.4 69.3h0M510.7 70.8h0M512.1 70.1h0M528.6 59.2h0M534.4 62.9h0M532.2 70.9h0M558.0 74.0h0M554.6 71.2h0M432.3 95.6h0M437.2 81.3h0M449.8 83.2h0M451.2 80.6h0M441.0 84.8h0M438.8 82.6h0M457.7 80.0h0M453.4 79.9h0M459.1 79.3h0M459.1 77.7h0M455.6 82.2h0M456.3 93.8h0M452.1 87.2h0M452.0 80.5h0M477.9 89.2h0M465.2 94.4h0M477.8 87.9h0M478.3 90.5h0M470.6 86.6h0M472.8 84.0h0M478.2 85.5h0M480.8 88.2h0M496.4 87.0h0M484.5 89.3h0M490.5 80.5h0M480.6 81.2h0M483.7 89.0h0M491.1 84.6h0M507.4 84.2h0M507.2 84.6h0M508.2 92.2h0M495.0 90.7h0M497.1 89.4h0M511.9 78.6h0M515.5 90.7h0M519.7 90.6h0M513.1 78.4h0M525.8 77.9h0M517.3 86.3h0M519.1 86.9h0M531.6 88.1h0M532.4 87.0h0M535.6 76.0h0M528.1 85.7h0M529.1 92.7h0M524.9 93.7h0M525.8 87.7h0M535.1 82.6h0M533.9 78.5h0M533.3 80.1h0M531.1 87.1h0M549.1 89.8h0M555.9 87.4h0M541.8 83.8h0M542.3 81.4h0M535.6 77.1h0M558.4 90.1h0M559.9 83.9h0M401.5 99.5h0M415.1 97.1h0M426.7 107.7h0M430.8 103.5h0M436.2 102.1h0M436.2 96.7h0M436.4 98.3h0M442.4 104.9h0M446.2 110.1h0M444.5 92.4h0M437.1 93.9h0M441.3 97.8h0M436.0 102.4h0M434.7 97.6h0M464.8 96.2h0M452.8 107.9h0M461.3 96.9h0M459.1 96.9h0M454.7 104.3h0M449.7 94.1h0M459.5 104.8h0M455.1 98.6h0M478.1 104.4h0M475.6 93.6h0M470.3 95.3h0M470.9 100.8h0M472.9 106.9h0M467.9 95.5h0M474.5 96.3h0M468.3 99.4h0M469.3 107.2h0M474.2 93.8h0M470.3 92.3h0M476.8 94.6h0M495.2 108.8h0M484.9 95.0h0M483.5 107.4h0M492.0 104.0h0M482.8 98.7h0M487.4 107.0h0M487.7 99.0h0M490.1 93.9h0M488.6 96.0h0M497.7 93.7h0M509.1 91.4h0M507.5 101.0h0M510.0 103.7h0M500.8 100.6h0M513.3 99.1h0M510.6 96.4h0M513.1 107.2h0M525.3 97.3h0M517.4 89.9h0M510.9 104.5h0M516.0 97.4h0M508.6 107.2h0M513.8 101.9h0M527.7 98.7h0M524.8 94.4h0M525.4 104.4h0M541.1 98.2h0M534.5 106.3h0M525.1 106.0h0M533.4 95.8h0M531.1 100.4h0M552.7 105.1h0M538.9 101.2h0M552.8 98.2h0M547.7 97.7h0M556.1 96.0h0M555.4 103.5h0M552.4 101.3h0M541.0 99.6h0M566.3 103.9h0M415.4 112.5h0M422.0 123.5h0M432.0 110.8h0M422.3 110.1h0M450.1 115.4h0M441.7 112.4h0M442.8 109.0h0M439.3 114.2h0M432.1 118.5h0M442.0 112.0h0M446.6 114.2h0M438.8 119.3h0M455.7 123.2h0M462.3 122.3h0M452.2 118.9h0M453.5 118.8h0M454.1 120.9h0M456.5 117.9h0M452.1 118.7h0M449.4 111.2h0M464.4 115.9h0M458.0 113.3h0M478.5 106.6h0M471.8 108.6h0M477.0 122.2h0M473.7 109.8h0M469.6 112.5h0M493.0 118.2h0M490.3 113.5h0M492.6 116.2h0M486.9 110.9h0M493.0 114.4h0M484.7 112.7h0M487.6 114.6h0M490.6 118.3h0M481.8 119.7h0M480.8 117.6h0M500.5 104.6h0M508.8 113.5h0M508.0 122.8h0M525.4 116.3h0M514.5 118.6h0M517.0 111.7h0M518.9 119.1h0M513.0 113.2h0M527.1 114.6h0M525.3 113.2h0M515.2 120.1h0M535.4 112.7h0M529.9 113.1h0M531.4 117.5h0M530.3 108.1h0M527.0 126.7h0M539.7 111.6h0M540.1 119.7h0M531.4 111.6h0M542.9 109.9h0M550.7 115.4h0M552.1 108.3h0M412.9 133.1h0M414.1 129.7h0M416.0 125.3h0M438.3 128.4h0M424.5 139.6h0M431.3 124.7h0M419.9 135.7h0M423.3 136.5h0M442.6 134.4h0M442.7 125.2h0M447.6 125.6h0M436.8 130.0h0M442.3 124.7h0M449.7 123.6h0M462.7 127.7h0M463.9 138.2h0M459.0 124.5h0M460.5 127.5h0M453.4 131.8h0M468.6 129.0h0M475.9 134.7h0M492.7 135.6h0M490.5 137.6h0M496.9 127.4h0M482.7 123.8h0M487.1 121.8h0M486.5 130.7h0M483.2 128.0h0M487.5 132.3h0M491.1 127.6h0M485.9 125.8h0M505.4 132.2h0M499.7 125.9h0M505.9 135.3h0M509.8 130.7h0M505.2 132.2h0M500.9 136.3h0M509.9 126.2h0M497.4 134.7h0M502.6 124.5h0M507.5 133.2h0M520.6 126.9h0M518.8 127.7h0M516.1 133.6h0M516.1 128.9h0M516.7 132.8h0M513.9 123.6h0M516.3 125.6h0M517.4 132.6h0M507.8 134.4h0M513.7 124.9h0M519.9 128.2h0M510.7 135.0h0M526.8 130.6h0M516.8 132.5h0M518.9 125.0h0M527.7 135.1h0M535.3 122.2h0M534.8 130.4h0M527.8 126.7h0M533.9 139.9h0M537.7 129.7h0M528.8 129.5h0M542.3 131.7h0M532.1 135.8h0M538.8 130.9h0M534.8 130.1h0M546.5 131.8h0M562.3 138.4h0M424.2 139.7h0M431.9 135.7h0M432.3 143.4h0M428.0 140.9h0M433.5 145.2h0M433.5 147.2h0M433.3 141.1h0M428.7 138.1h0M429.0 143.1h0M427.5 151.6h0M431.7 143.2h0M435.3 139.5h0M429.8 146.2h0M432.6 154.8h0M430.7 137.5h0M426.7 151.0h0M432.6 140.1h0M445.3 148.7h0M448.9 140.7h0M447.2 140.5h0M441.4 147.8h0M440.1 152.2h0M442.8 148.2h0M445.8 142.0h0M439.9 145.1h0M438.8 142.2h0M435.8 139.1h0M439.7 143.9h0M451.5 147.3h0M452.6 145.6h0M458.1 145.3h0M459.9 148.6h0M464.2 142.2h0M456.9 146.4h0M461.7 148.4h0M469.4 144.8h0M464.9 150.7h0M472.2 150.0h0M462.0 138.3h0M481.0 148.0h0M480.3 137.1h0M473.1 136.6h0M463.8 149.3h0M482.1 147.3h0M475.4 153.0h0M471.3 150.3h0M491.9 145.6h0M484.9 137.7h0M487.6 143.5h0M490.8 149.1h0M490.4 137.8h0M484.8 148.8h0M486.2 146.9h0M491.7 141.8h0M480.0 140.6h0M490.2 150.1h0M490.4 140.9h0M484.0 148.7h0M483.2 150.2h0M491.2 149.3h0M496.7 145.5h0M504.3 144.0h0M503.4 155.0h0M496.4 153.6h0M496.7 142.0h0M492.1 142.1h0M500.5 145.9h0M505.7 154.6h0M499.4 143.1h0M503.7 147.3h0M527.1 144.4h0M516.3 151.6h0M517.0 146.4h0M521.3 154.5h0M514.3 146.6h0M519.4 144.9h0M524.4 140.4h0M520.8 150.0h0M516.1 137.8h0M527.3 143.8h0M523.0 149.7h0M525.8 139.7h0M536.7 140.5h0M536.2 139.9h0M525.0 150.0h0M534.6 148.3h0M545.4 148.0h0M426.5 156.7h0M429.8 160.6h0M433.1 153.7h0M423.1 152.9h0M432.0 154.2h0M431.7 164.6h0M443.0 163.3h0M438.1 166.9h0M437.9 166.1h0M439.7 168.4h0M436.8 163.4h0M446.1 152.7h0M456.0 153.8h0M452.3 163.8h0M457.2 166.7h0M465.2 160.2h0M457.6 153.2h0M458.8 167.1h0M453.5 167.8h0M450.3 167.4h0M454.4 158.6h0M452.3 164.7h0M458.8 154.4h0M450.2 159.3h0M476.3 161.5h0M474.0 162.9h0M470.1 157.3h0M479.3 162.0h0M469.5 153.3h0M478.1 165.8h0M478.3 165.6h0M471.7 157.6h0M477.8 161.9h0M471.4 153.1h0M476.0 159.0h0M473.4 169.0h0M475.6 156.2h0M479.4 159.5h0M481.8 162.9h0M485.8 157.8h0M493.5 161.3h0M493.8 154.1h0M483.5 155.2h0M492.8 163.7h0M492.6 153.1h0M494.3 157.2h0M499.0 157.8h0M508.8 155.6h0M511.4 159.5h0M505.8 172.2h0M497.0 161.9h0M504.0 156.1h0M527.9 164.5h0M511.9 165.7h0M513.7 158.6h0M510.1 159.8h0M519.2 164.5h0M539.6 156.0h0M547.4 166.0h0M446.8 168.3h0M448.2 177.6h0M438.7 175.6h0M443.4 171.4h0M435.1 173.0h0M438.1 174.1h0M447.2 177.1h0M439.6 177.8h0M454.3 173.4h0M450.2 167.8h0M459.1 180.5h0M461.8 169.4h0M464.8 180.1h0M451.6 173.7h0M459.6 174.6h0M451.4 171.8h0M461.4 168.3h0M461.8 180.1h0M470.1 170.3h0M468.7 174.3h0M471.7 177.0h0M470.8 172.0h0M468.1 178.0h0M476.0 181.7h0M470.9 179.7h0M465.4 185.6h0M475.3 179.9h0M480.7 169.3h0M473.4 167.8h0M483.3 179.6h0M490.8 172.5h0M481.2 169.6h0M482.2 180.6h0M488.3 176.1h0M485.9 181.2h0M500.3 176.7h0M505.7 168.3h0M507.4 171.0h0M494.9 179.7h0M513.2 170.5h0M513.9 171.4h0M524.2 181.1h0M520.8 169.5h0M518.5 178.6h0M507.9 178.3h0M507.6 182.5h0M525.4 165.4h0M518.1 175.9h0M520.5 181.9h0M527.4 177.8h0M542.5 170.7h0M527.5 176.9h0M531.4 173.1h0M567.0 179.4h0M449.9 184.0h0M446.2 186.8h0M463.1 181.0h0M460.8 182.7h0M455.9 187.0h0M451.6 190.3h0M460.3 194.8h0M467.7 181.5h0M477.7 187.8h0M470.4 195.4h0M472.8 194.1h0M467.7 191.6h0M473.5 191.5h0M484.7 184.0h0M488.0 189.8h0M481.2 197.9h0M486.8 183.2h0M491.3 188.2h0M487.9 186.9h0M496.4 194.2h0M478.8 182.2h0M506.5 188.9h0M526.3 195.7h0M516.1 189.1h0M524.7 195.6h0M517.1 197.9h0M510.8 180.8h0M507.7 186.7h0M514.0 196.7h0M520.6 191.1h0M518.8 195.0h0M514.5 193.6h0M529.0 182.3h0M533.5 187.7h0M532.6 191.4h0M532.0 193.8h0M534.3 182.3h0M536.9 192.6h0M525.5 187.0h0M531.8 188.8h0M548.1 193.8h0M544.1 191.1h0M550.9 187.5h0M563.3 183.2h0M465.2 197.5h0M457.0 201.3h0M456.4 207.7h0M456.1 204.9h0M460.4 213.4h0M468.9 201.6h0M474.0 201.9h0M474.0 200.8h0M476.9 209.3h0M478.5 205.2h0M462.4 215.4h0M479.6 207.6h0M485.7 204.5h0M490.9 208.0h0M487.8 213.4h0M484.0 208.9h0M486.2 207.3h0M484.8 205.5h0M487.9 200.9h0M482.6 209.5h0M496.3 198.0h0M488.4 197.4h0M488.7 205.8h0M484.4 196.6h0M482.5 208.6h0M495.2 197.1h0M480.1 202.3h0M497.9 207.4h0M487.8 197.4h0M484.3 213.1h0M497.7 207.7h0M509.3 208.3h0" stroke="#55ffc8" stroke-width="1.16" stroke-linecap="round"/><path d="M492.3 46.5h0M508.6 33.2h0M507.0 44.1h0M526.2 42.7h0M516.5 43.9h0M479.9 54.2h0M468.0 61.1h0M476.1 52.4h0M488.6 57.6h0M497.8 54.8h0M497.2 56.2h0M499.4 47.6h0M495.1 50.2h0M509.7 51.9h0M503.7 57.0h0M497.2 59.3h0M511.7 57.2h0M545.9 57.6h0M440.0 77.9h0M449.5 73.0h0M449.8 72.9h0M454.1 69.4h0M464.9 68.7h0M473.3 71.9h0M480.9 62.1h0M467.0 65.4h0M497.3 74.5h0M505.9 67.0h0M500.1 69.4h0M534.6 76.5h0M533.6 75.9h0M529.4 66.6h0M529.2 68.7h0M439.2 81.3h0M459.2 91.8h0M463.8 85.7h0M471.5 93.2h0M488.1 90.5h0M508.7 85.5h0M508.6 91.4h0M504.7 86.0h0M521.7 83.0h0M541.8 74.6h0M527.4 87.5h0M563.4 91.8h0M560.8 81.4h0M418.8 100.8h0M436.7 97.1h0M473.0 93.3h0M479.0 104.7h0M466.8 99.6h0M493.6 96.5h0M487.9 102.9h0M504.1 94.8h0M498.7 97.5h0M517.9 92.4h0M512.5 93.3h0M535.6 94.2h0M424.1 114.2h0M431.4 115.8h0M428.0 119.1h0M429.5 119.5h0M436.3 114.7h0M440.3 118.4h0M448.2 108.0h0M462.7 111.1h0M465.5 110.1h0M472.7 111.0h0M473.7 118.4h0M485.7 119.8h0M491.0 115.0h0M484.3 113.4h0M490.3 122.5h0M506.2 108.2h0M498.4 112.3h0M496.7 116.0h0M514.4 115.7h0M526.1 118.9h0M509.9 113.4h0M520.6 118.6h0M561.0 115.9h0M430.1 120.9h0M461.0 126.5h0M463.0 127.3h0M487.0 133.4h0M486.4 128.0h0M481.3 126.6h0M482.5 125.9h0M500.7 126.9h0M510.7 133.3h0M508.6 129.8h0M501.3 134.8h0M498.9 128.4h0M523.0 126.9h0M525.3 122.6h0M536.6 135.3h0M532.7 137.0h0M534.0 124.0h0M427.6 141.1h0M439.3 144.1h0M435.5 151.3h0M438.2 147.0h0M440.0 146.5h0M463.4 139.6h0M460.5 137.4h0M474.2 146.5h0M494.4 144.7h0M495.9 146.8h0M503.1 141.8h0M506.6 148.4h0M506.1 148.1h0M506.9 143.2h0M499.1 145.7h0M515.5 142.9h0M519.0 147.4h0M515.8 140.9h0M514.1 151.2h0M432.9 151.3h0M430.0 164.8h0M443.3 162.4h0M436.9 161.9h0M443.2 162.1h0M445.2 159.5h0M465.8 155.9h0M465.4 156.1h0M450.3 162.0h0M453.0 164.8h0M476.8 159.0h0M512.8 153.2h0M527.4 158.0h0M463.8 169.3h0M469.7 176.2h0M480.2 179.6h0M475.1 174.6h0M475.9 171.7h0M460.2 177.9h0M494.8 185.4h0M490.8 174.8h0M497.3 170.3h0M511.0 175.9h0M527.4 171.4h0M447.8 189.8h0M446.6 183.9h0M452.7 187.6h0M461.0 198.4h0M448.5 196.9h0M467.9 190.0h0M471.2 183.7h0M477.1 193.7h0M468.3 180.2h0M466.5 190.8h0M473.1 189.6h0M480.9 193.8h0M486.8 188.0h0M501.9 182.8h0M530.3 186.1h0M534.4 195.7h0M553.9 187.3h0M459.8 201.7h0M463.9 204.5h0M463.5 211.1h0M478.2 208.9h0M464.2 205.1h0M490.6 211.3h0M490.2 197.8h0M491.3 203.6h0" stroke="#55ffc8" stroke-width="1.56" stroke-linecap="round"/><path d="M492.9 40.6h0M487.2 44.4h0M488.2 46.6h0M490.0 42.6h0M507.0 41.3h0M506.5 37.0h0M502.6 45.7h0M501.5 49.5h0M508.9 31.1h0M497.6 46.3h0M506.7 42.9h0M508.8 42.8h0M506.4 34.3h0M496.2 39.5h0M504.5 32.7h0M499.7 37.3h0M505.8 47.0h0M512.9 39.8h0M518.8 36.3h0M524.1 41.9h0M511.8 36.1h0M521.6 44.6h0M512.4 43.4h0M528.1 44.5h0M514.6 42.5h0M521.1 34.3h0M534.7 42.7h0M463.1 58.5h0M473.7 62.7h0M476.6 56.6h0M477.6 56.4h0M476.2 53.4h0M467.6 58.4h0M466.6 55.1h0M474.5 59.1h0M479.9 60.4h0M486.5 52.9h0M484.2 50.0h0M490.5 59.7h0M482.0 48.2h0M485.5 59.0h0M492.1 56.8h0M489.2 50.3h0M482.8 58.2h0M492.5 46.9h0M493.5 48.6h0M492.6 60.9h0M482.7 52.3h0M496.0 50.1h0M497.6 59.8h0M508.2 60.1h0M503.4 49.2h0M502.6 51.6h0M499.7 59.0h0M504.5 57.9h0M506.4 60.5h0M502.0 53.5h0M503.5 53.3h0M498.6 54.8h0M502.1 60.5h0M506.5 64.5h0M507.4 53.4h0M504.8 52.9h0M497.4 57.8h0M508.2 58.8h0M498.3 55.0h0M495.2 57.9h0M501.2 48.7h0M502.2 49.6h0M502.7 61.1h0M523.7 58.5h0M514.3 60.6h0M514.7 50.2h0M515.0 50.9h0M516.4 58.5h0M517.0 58.7h0M522.7 48.9h0M515.2 57.8h0M523.2 52.3h0M515.1 59.9h0M532.0 59.5h0M546.2 60.7h0M442.4 70.2h0M443.4 67.7h0M440.3 74.4h0M449.7 69.9h0M449.5 64.5h0M462.9 73.8h0M461.4 73.3h0M458.0 75.4h0M459.8 74.2h0M451.3 72.6h0M480.4 78.7h0M469.2 67.4h0M465.8 70.9h0M469.6 77.4h0M464.9 65.0h0M471.3 65.8h0M467.3 71.1h0M467.1 73.7h0M477.6 67.3h0M468.1 68.5h0M496.2 67.6h0M483.8 72.0h0M482.1 72.6h0M495.6 77.0h0M493.7 77.3h0M481.8 62.0h0M487.4 63.7h0M485.1 66.3h0M494.9 67.9h0M495.0 75.8h0M493.0 68.7h0M487.3 62.5h0M482.7 70.6h0M499.7 62.4h0M501.2 73.8h0M497.8 76.5h0M507.1 72.9h0M503.3 70.9h0M507.3 66.6h0M502.5 67.1h0M501.1 76.0h0M509.8 64.0h0M509.8 61.7h0M505.3 69.5h0M501.4 71.4h0M503.9 67.2h0M511.3 71.0h0M506.0 67.7h0M524.2 71.9h0M520.3 72.9h0M513.1 71.0h0M515.6 78.9h0M509.2 69.1h0M521.4 65.5h0M512.6 68.0h0M509.8 66.0h0M525.7 68.0h0M519.1 66.0h0M526.7 66.0h0M511.4 64.2h0M518.3 73.9h0M522.8 65.7h0M523.6 71.9h0M515.4 75.8h0M514.1 71.9h0M516.3 63.8h0M509.9 69.8h0M537.2 75.7h0M530.7 73.0h0M527.3 74.0h0M527.9 75.9h0M534.8 65.1h0M524.5 69.5h0M531.3 64.2h0M529.0 63.7h0M531.9 75.3h0M544.0 62.2h0M550.5 77.9h0M542.4 76.0h0M562.3 79.0h0M561.1 78.6h0M422.6 85.6h0M434.3 91.0h0M446.7 90.7h0M448.3 91.1h0M450.4 93.3h0M447.1 91.4h0M444.0 88.9h0M439.8 78.5h0M436.5 80.2h0M442.8 88.7h0M441.0 84.2h0M447.3 86.3h0M437.7 86.5h0M444.6 87.8h0M447.7 90.2h0M446.5 77.8h0M443.2 85.3h0M462.0 74.7h0M465.1 87.7h0M468.3 87.8h0M461.1 87.8h0M460.2 83.2h0M461.2 82.6h0M460.6 88.8h0M452.3 93.0h0M448.3 84.4h0M453.4 75.8h0M452.5 90.1h0M456.4 86.4h0M463.1 84.1h0M457.7 79.8h0M467.2 78.8h0M475.3 81.3h0M479.5 78.1h0M479.8 84.2h0M479.7 89.5h0M473.8 89.2h0M495.2 83.8h0M493.8 90.5h0M487.9 91.7h0M489.4 92.8h0M500.1 80.2h0M503.3 86.2h0M509.2 84.9h0M506.7 84.4h0M502.2 82.1h0M498.3 85.7h0M495.6 75.9h0M500.1 92.6h0M502.4 90.1h0M510.6 74.9h0M501.4 86.6h0M498.5 87.0h0M497.9 80.3h0M509.6 79.9h0M506.0 77.9h0M518.9 85.4h0M508.2 75.5h0M523.0 88.2h0M514.7 80.6h0M518.5 75.2h0M515.6 80.7h0M515.3 86.7h0M525.8 81.6h0M514.2 86.1h0M522.1 82.9h0M522.1 85.5h0M539.6 89.3h0M535.4 83.7h0M535.7 91.1h0M535.3 93.2h0M537.9 83.9h0M540.5 91.3h0M532.3 88.4h0M529.6 87.3h0M539.3 78.8h0M539.8 81.1h0M528.8 76.8h0M528.0 89.3h0M527.5 87.3h0M532.6 91.2h0M556.0 85.7h0M539.3 81.5h0M541.9 86.4h0M539.7 92.2h0M555.8 80.3h0M545.7 88.4h0M564.7 90.3h0M557.3 89.0h0M396.2 100.8h0M407.1 104.6h0M404.2 103.2h0M429.6 97.9h0M419.2 102.4h0M420.5 104.7h0M428.0 97.6h0M441.8 97.6h0M439.6 104.3h0M440.8 102.2h0M444.4 101.0h0M441.8 104.4h0M442.7 92.3h0M439.1 99.0h0M446.2 103.8h0M444.5 93.1h0M438.0 102.5h0M464.2 93.4h0M454.1 98.4h0M459.9 102.0h0M453.1 100.4h0M454.3 101.9h0M454.6 106.3h0M462.3 100.1h0M457.0 103.1h0M455.4 94.9h0M459.1 101.5h0M469.5 93.8h0M463.5 104.4h0M466.4 98.3h0M482.8 95.9h0M467.3 97.8h0M478.8 99.7h0M467.3 94.0h0M471.7 101.8h0M471.1 105.4h0M479.5 97.3h0M487.8 99.2h0M482.6 97.9h0M495.7 106.2h0M482.6 105.9h0M485.4 97.7h0M487.9 94.5h0M484.2 106.6h0M483.2 94.6h0M489.6 95.8h0M499.6 95.4h0M511.1 102.3h0M504.0 95.5h0M505.8 94.6h0M507.9 100.7h0M503.6 101.3h0M503.9 103.8h0M493.6 99.7h0M507.5 106.3h0M502.5 98.5h0M508.9 96.5h0M501.1 105.5h0M527.4 105.7h0M517.7 94.1h0M519.2 102.4h0M516.5 107.6h0M516.6 95.7h0M518.7 92.7h0M512.0 107.3h0M518.3 107.2h0M515.0 106.5h0M515.3 90.1h0M520.5 104.3h0M523.8 105.2h0M519.1 97.0h0M525.9 105.6h0M513.5 95.8h0M532.5 97.2h0M527.7 90.0h0M528.3 100.9h0M530.9 105.7h0M538.9 101.4h0M533.3 94.6h0M543.3 100.7h0M417.5 120.0h0M418.8 120.5h0M427.7 111.9h0M418.1 119.2h0M435.0 119.8h0M432.0 115.6h0M432.7 120.3h0M445.8 119.8h0M447.5 108.9h0M446.7 119.3h0M439.9 109.7h0M433.6 106.6h0M443.0 108.7h0M450.3 120.5h0M450.0 117.2h0M459.4 110.2h0M459.8 123.9h0M461.1 113.0h0M468.3 115.3h0M449.6 120.9h0M462.8 119.1h0M459.2 112.5h0M456.2 109.0h0M449.8 122.3h0M462.8 118.8h0M461.8 118.2h0M460.7 107.2h0M452.6 118.5h0M451.3 120.6h0M459.7 121.2h0M473.2 121.8h0M464.9 114.2h0M471.8 109.2h0M467.6 119.1h0M471.0 119.9h0M479.7 112.5h0M475.0 109.7h0M480.2 108.9h0M491.6 106.5h0M483.6 121.6h0M485.8 119.8h0M491.0 107.4h0M484.3 113.9h0M483.2 111.9h0M497.2 114.6h0M492.5 122.2h0M488.1 118.3h0M480.2 111.3h0M491.8 124.9h0M489.7 114.3h0M489.9 111.3h0M485.9 113.9h0M502.2 119.6h0M502.2 117.0h0M506.3 122.7h0M497.1 120.3h0M499.9 121.4h0M502.5 127.4h0M505.7 119.1h0M500.5 121.4h0M500.0 122.8h0M506.2 109.3h0M494.2 116.9h0M522.9 112.0h0M516.0 118.0h0M518.2 108.3h0M511.0 116.6h0M512.7 113.5h0M517.1 117.7h0M509.9 117.6h0M522.5 116.0h0M521.2 107.4h0M516.9 115.7h0M519.9 116.3h0M522.2 110.1h0M523.0 114.4h0M517.2 115.7h0M507.8 115.0h0M517.1 116.3h0M517.4 110.4h0M513.5 118.4h0M518.5 121.3h0M537.7 120.7h0M526.1 114.2h0M527.8 121.1h0M541.3 116.9h0M534.3 111.6h0M528.3 114.7h0M534.6 110.3h0M548.5 120.9h0M546.1 113.3h0M553.2 118.5h0M545.5 123.2h0M552.6 113.7h0M545.6 116.6h0M546.8 111.8h0M549.0 112.0h0M418.6 127.6h0M427.5 126.3h0M423.6 140.9h0M425.6 137.4h0M422.4 127.1h0M441.5 127.6h0M440.8 134.7h0M446.8 135.6h0M450.9 130.9h0M440.3 133.0h0M438.7 129.6h0M444.0 134.4h0M440.0 134.4h0M446.2 128.6h0M462.9 126.4h0M458.6 129.0h0M460.4 133.4h0M467.4 129.4h0M450.6 129.8h0M456.0 123.8h0M455.9 122.7h0M452.3 129.7h0M465.6 127.7h0M467.0 127.2h0M455.2 130.9h0M455.9 122.2h0M476.0 126.6h0M466.2 135.8h0M477.8 137.4h0M466.3 128.8h0M479.1 138.5h0M468.7 128.8h0M469.1 135.8h0M469.5 125.9h0M478.5 132.9h0M468.7 121.8h0M487.8 124.2h0M496.0 135.2h0M489.1 138.2h0M485.6 130.6h0M489.7 135.2h0M511.8 130.8h0M508.0 124.6h0M508.5 132.5h0M500.2 132.7h0M494.1 131.9h0M498.3 123.2h0M497.6 137.7h0M503.6 132.3h0M502.2 125.2h0M508.7 125.9h0M499.4 121.9h0M498.4 132.9h0M505.2 134.3h0M521.5 122.6h0M523.1 129.3h0M513.6 126.2h0M517.5 132.8h0M515.4 125.2h0M524.0 130.3h0M516.7 133.2h0M522.1 132.7h0M528.1 135.4h0M536.6 122.7h0M528.4 140.4h0M538.7 136.2h0M534.6 134.0h0M529.7 126.2h0M534.3 130.4h0M530.6 138.1h0M540.4 124.6h0M528.5 132.0h0M535.8 125.8h0M550.6 132.4h0M557.0 137.8h0M558.9 122.0h0M415.3 136.2h0M425.7 137.9h0M436.7 153.4h0M433.6 137.0h0M427.2 146.9h0M432.6 146.4h0M425.0 137.3h0M421.0 140.6h0M429.4 147.6h0M420.2 142.5h0M428.5 141.9h0M423.5 139.7h0M428.4 139.3h0M424.7 148.8h0M431.4 149.3h0M421.4 142.4h0M428.7 139.9h0M434.1 142.8h0M440.6 144.9h0M445.5 144.4h0M441.1 152.7h0M432.8 142.3h0M434.7 136.5h0M446.0 147.7h0M435.7 147.0h0M444.5 147.8h0M455.9 147.5h0M448.1 152.0h0M435.8 148.1h0M439.1 138.9h0M461.4 140.2h0M447.8 139.5h0M452.3 145.6h0M460.6 140.1h0M460.7 150.5h0M453.2 152.8h0M452.0 143.0h0M454.3 137.9h0M452.6 146.4h0M474.8 144.6h0M471.8 142.9h0M473.3 150.9h0M464.7 151.6h0M470.1 140.5h0M467.4 154.5h0M479.6 147.5h0M490.8 147.4h0M488.0 139.4h0M484.9 144.7h0M478.1 141.8h0M498.2 150.2h0M491.2 142.7h0M482.5 143.2h0M491.7 144.1h0M496.2 142.4h0M489.2 158.2h0M480.5 145.5h0M482.7 136.8h0M493.6 142.9h0M494.5 153.6h0M510.2 143.8h0M502.7 147.5h0M509.0 137.0h0M505.1 145.9h0M501.8 149.1h0M498.3 139.5h0M508.7 148.9h0M497.6 142.5h0M502.7 149.0h0M505.9 156.0h0M501.5 149.6h0M500.3 154.9h0M505.2 140.4h0M514.6 142.6h0M519.0 151.9h0M511.3 150.4h0M524.1 149.9h0M521.2 152.0h0M523.1 144.8h0M522.1 135.4h0M517.9 140.6h0M523.3 147.4h0M520.2 148.2h0M524.2 133.6h0M514.4 145.5h0M527.2 145.1h0M521.3 152.2h0M531.5 138.5h0M529.0 149.0h0M545.3 142.5h0M430.2 160.8h0M431.1 165.7h0M428.2 157.0h0M430.0 158.0h0M435.5 154.2h0M448.9 152.9h0M440.3 157.6h0M440.4 165.3h0M445.7 165.4h0M445.5 156.3h0M436.8 162.9h0M447.7 165.8h0M443.9 162.2h0M448.3 154.6h0M435.9 166.1h0M446.4 153.8h0M448.9 157.6h0M444.0 160.8h0M451.7 161.8h0M439.2 154.2h0M441.9 161.7h0M454.1 154.7h0M461.8 155.7h0M451.8 160.0h0M454.1 156.8h0M449.6 166.1h0M454.2 161.8h0M459.3 158.4h0M451.2 158.0h0M458.5 154.3h0M462.4 162.1h0M480.1 165.4h0M477.6 163.7h0M474.0 162.5h0M468.4 158.5h0M467.7 154.5h0M484.3 164.4h0M470.7 163.6h0M474.3 153.7h0M492.4 158.2h0M485.5 164.9h0M486.6 156.8h0M493.3 167.2h0M484.7 163.4h0M490.6 152.5h0M505.8 164.2h0M502.0 157.5h0M504.4 164.9h0M508.0 155.2h0M507.9 164.4h0M527.3 156.4h0M514.0 155.2h0M519.9 154.8h0M535.1 152.8h0M535.0 152.8h0M442.0 180.3h0M437.9 171.1h0M441.6 174.4h0M446.0 179.5h0M444.2 174.8h0M443.7 181.5h0M442.9 169.8h0M455.3 182.1h0M456.6 169.2h0M457.8 179.3h0M449.3 181.2h0M459.5 176.3h0M463.1 181.0h0M458.7 181.5h0M464.2 172.9h0M462.3 171.1h0M461.5 176.1h0M453.5 178.0h0M460.0 180.9h0M454.0 177.1h0M464.1 181.0h0M456.8 181.7h0M476.9 179.7h0M475.9 167.3h0M473.6 167.6h0M470.3 170.1h0M481.9 169.8h0M478.2 176.4h0M468.9 166.2h0M479.9 170.4h0M473.4 177.3h0M473.3 167.9h0M466.3 183.6h0M481.6 183.0h0M469.8 168.5h0M474.0 176.9h0M492.8 171.0h0M484.4 182.3h0M480.7 181.2h0M492.9 173.7h0M501.4 174.3h0M504.7 172.0h0M504.1 169.4h0M500.3 172.5h0M508.0 170.9h0M498.2 167.5h0M505.5 180.3h0M502.5 175.9h0M497.3 175.1h0M507.1 175.7h0M522.5 176.6h0M511.9 175.5h0M514.8 179.2h0M525.2 170.0h0M514.4 173.1h0M524.1 167.7h0M521.3 176.3h0M519.8 167.7h0M527.1 177.7h0M523.0 167.0h0M525.5 183.9h0M532.3 177.8h0M538.7 182.6h0M524.5 167.1h0M538.9 174.4h0M531.9 177.4h0M534.1 182.6h0M524.9 172.6h0M533.2 180.5h0M533.4 175.0h0M535.4 181.4h0M541.4 167.7h0M525.9 167.2h0M526.6 167.3h0M551.9 176.0h0M448.2 189.9h0M442.3 184.3h0M443.6 180.7h0M445.2 186.6h0M443.0 186.3h0M447.1 184.8h0M454.7 191.0h0M460.7 189.6h0M454.1 190.2h0M458.4 197.1h0M457.9 198.1h0M467.8 189.3h0M457.0 188.9h0M462.4 184.9h0M462.0 185.7h0M475.3 189.7h0M469.1 190.1h0M469.1 193.9h0M478.4 183.8h0M478.6 197.6h0M477.4 195.1h0M476.7 201.1h0M476.1 180.6h0M482.3 183.0h0M492.3 193.1h0M482.1 186.3h0M488.8 178.6h0M495.0 189.7h0M480.8 194.8h0M477.2 183.5h0M487.3 183.5h0M488.1 185.1h0M487.0 190.0h0M486.2 187.7h0M497.4 186.4h0M489.5 188.0h0M478.5 182.0h0M484.7 182.4h0M483.9 199.9h0M510.1 188.5h0M524.4 196.1h0M523.3 189.2h0M514.8 191.7h0M515.9 188.9h0M525.7 194.6h0M517.1 188.2h0M508.5 191.9h0M532.6 186.1h0M539.7 185.4h0M537.8 198.4h0M539.0 195.0h0M539.2 190.2h0M533.5 196.4h0M532.1 195.3h0M530.3 187.6h0M532.7 195.7h0M529.0 184.8h0M540.7 190.7h0M546.6 195.7h0M540.6 189.4h0M547.3 191.6h0M541.1 185.5h0M560.5 185.1h0M463.8 199.9h0M457.7 211.4h0M466.4 213.5h0M462.7 204.6h0M459.2 212.1h0M473.6 197.1h0M469.1 195.5h0M472.4 208.9h0M471.2 208.3h0M468.4 211.5h0M468.0 200.3h0M472.7 199.4h0M477.1 201.4h0M465.0 212.2h0M479.2 197.0h0M485.3 199.6h0M465.9 198.1h0M484.9 207.8h0M481.8 210.4h0M492.0 209.6h0M482.0 197.1h0M493.8 208.6h0M487.5 206.9h0M481.3 196.1h0M480.8 202.1h0M480.9 207.4h0M490.0 198.1h0M484.7 205.2h0M492.2 204.0h0M486.8 212.1h0M487.6 208.3h0M483.7 202.7h0M489.9 202.1h0M485.4 204.3h0M501.1 214.5h0M501.4 197.0h0" stroke="#80ff80" stroke-width="1.16" stroke-linecap="round"/><path d="M420.4 136.7h0M418.5 139.9h0M429.8 146.3h0M424.5 141.0h0" stroke="#80ff80" stroke-width="1.30" stroke-linecap="round"/><path d="M494.4 46.1h0M507.9 33.5h0M500.1 47.9h0M496.3 44.2h0M496.1 39.9h0M521.6 41.1h0M487.3 53.5h0M488.1 60.8h0M514.1 53.7h0M519.9 58.1h0M512.1 43.9h0M517.8 56.2h0M433.8 75.0h0M452.3 62.5h0M475.5 69.5h0M472.5 67.1h0M490.1 62.2h0M495.6 71.7h0M501.0 64.4h0M508.4 76.3h0M504.8 72.1h0M511.5 79.1h0M521.3 69.3h0M515.3 76.1h0M518.9 76.5h0M540.7 67.2h0M558.4 78.1h0M558.0 78.3h0M443.2 81.4h0M463.7 90.7h0M476.8 89.8h0M475.1 84.7h0M466.9 89.5h0M469.3 84.4h0M478.7 77.4h0M475.1 84.2h0M493.8 75.8h0M510.9 80.1h0M509.0 93.6h0M524.8 93.3h0M518.4 81.3h0M525.4 88.5h0M513.6 92.5h0M520.2 87.3h0M536.3 81.5h0M550.1 81.2h0M546.0 80.7h0M568.9 92.6h0M427.7 90.4h0M447.4 104.1h0M439.7 96.2h0M441.9 109.5h0M450.8 95.1h0M472.0 109.3h0M474.3 98.2h0M467.2 103.8h0M475.5 101.9h0M472.1 99.4h0M474.0 100.6h0M492.5 98.7h0M482.9 93.8h0M506.4 97.8h0M503.9 98.7h0M509.0 100.1h0M499.3 103.7h0M525.7 92.7h0M522.3 104.1h0M518.0 99.8h0M532.1 102.4h0M547.0 96.9h0M442.4 117.3h0M440.8 114.3h0M435.6 107.8h0M434.3 125.2h0M462.4 108.9h0M462.8 121.8h0M450.8 113.8h0M472.7 109.8h0M482.0 116.2h0M493.4 112.1h0M487.3 115.8h0M507.3 121.8h0M501.5 120.2h0M498.8 120.1h0M500.3 116.5h0M508.7 105.6h0M521.5 109.0h0M527.0 116.6h0M518.4 117.1h0M515.0 120.1h0M509.5 112.0h0M522.3 111.2h0M536.5 113.0h0M532.1 111.7h0M548.2 121.3h0M428.8 128.5h0M437.6 130.2h0M442.3 130.8h0M443.3 129.2h0M457.9 129.4h0M487.2 128.8h0M494.4 127.1h0M489.3 130.0h0M503.5 136.4h0M518.0 131.9h0M521.0 130.4h0M520.3 133.9h0M514.3 124.4h0M539.4 136.8h0M529.7 128.3h0M538.7 135.6h0M539.9 120.7h0M550.3 128.6h0M424.4 142.0h0M427.3 148.6h0M425.1 145.6h0M433.4 139.0h0M419.4 141.3h0M446.9 145.1h0M458.9 150.3h0M458.8 144.2h0M453.0 135.6h0M460.6 138.4h0M462.4 144.8h0M453.3 141.1h0M490.2 142.9h0M483.6 143.5h0M486.3 140.4h0M482.9 152.9h0M493.3 138.4h0M491.4 143.6h0M493.9 149.6h0M496.4 146.4h0M509.1 144.4h0M498.6 143.2h0M509.8 141.7h0M499.6 150.9h0M515.3 152.0h0M520.3 151.8h0M508.7 152.3h0M518.9 134.5h0M513.4 138.8h0M511.3 151.5h0M434.5 153.5h0M432.8 163.3h0M428.6 157.5h0M451.8 161.6h0M446.0 160.7h0M451.6 154.5h0M450.8 156.3h0M466.9 164.7h0M454.5 155.8h0M468.0 161.8h0M495.4 162.4h0M481.1 157.0h0M491.6 165.6h0M508.0 166.0h0M507.8 154.9h0M509.2 157.5h0M511.7 163.9h0M448.4 182.2h0M458.7 177.7h0M475.8 180.9h0M471.2 176.0h0M468.8 169.1h0M480.2 175.6h0M488.8 179.2h0M516.4 169.5h0M523.7 168.4h0M512.3 167.5h0M514.2 166.8h0M514.1 175.4h0M526.9 175.1h0M529.3 180.3h0M536.9 179.8h0M539.8 174.2h0M560.5 174.7h0M559.4 175.3h0M456.0 192.4h0M461.3 185.5h0M470.7 183.4h0M492.3 194.2h0M495.5 192.9h0M481.0 196.3h0M483.3 189.9h0M492.3 185.4h0M519.6 195.4h0M519.6 192.3h0M535.9 191.7h0M526.4 183.4h0M460.8 201.1h0M486.7 209.3h0M487.4 206.9h0M482.8 210.7h0" stroke="#80ff80" stroke-width="1.56" stroke-linecap="round"/><path d="M480.7 47.4h0M489.2 41.1h0M484.3 48.3h0M495.4 42.3h0M495.2 42.8h0M494.8 45.4h0M500.8 37.8h0M505.1 32.4h0M520.3 34.4h0M514.4 39.0h0M525.6 38.0h0M529.9 37.4h0M536.8 37.6h0M472.3 54.8h0M494.4 56.9h0M489.3 56.2h0M494.5 46.1h0M494.7 51.5h0M489.2 57.2h0M496.2 57.9h0M486.3 52.9h0M495.3 59.5h0M482.2 60.5h0M483.7 55.5h0M490.9 59.4h0M508.5 54.0h0M496.2 50.6h0M505.8 52.7h0M509.3 53.9h0M500.8 50.9h0M501.4 59.6h0M507.0 53.3h0M505.4 55.3h0M508.9 47.8h0M501.9 55.8h0M509.9 57.6h0M504.3 56.2h0M501.4 57.7h0M509.3 51.1h0M493.1 59.1h0M516.8 59.4h0M509.1 59.4h0M516.0 53.6h0M510.4 56.7h0M517.6 51.0h0M513.9 48.3h0M528.7 50.5h0M515.0 53.8h0M515.2 60.6h0M524.8 45.9h0M535.5 54.3h0M531.5 54.4h0M529.4 59.6h0M545.8 56.4h0M438.0 74.3h0M442.5 76.6h0M442.9 75.6h0M445.1 71.2h0M452.0 75.0h0M455.0 68.8h0M460.2 77.8h0M465.4 63.9h0M457.9 66.4h0M456.3 65.2h0M456.9 73.3h0M473.8 73.3h0M468.5 72.3h0M480.2 64.7h0M481.9 79.7h0M477.9 71.9h0M463.7 77.3h0M470.4 73.5h0M468.3 69.7h0M478.1 78.1h0M476.8 70.8h0M491.8 74.8h0M490.9 72.8h0M491.4 73.4h0M491.8 66.9h0M480.2 72.8h0M491.3 70.0h0M491.1 74.1h0M486.2 72.9h0M489.6 63.0h0M497.9 62.1h0M506.8 68.3h0M510.5 73.5h0M504.6 63.8h0M500.6 71.0h0M501.1 69.1h0M510.6 70.4h0M504.0 65.7h0M498.9 66.4h0M507.5 76.3h0M510.7 66.7h0M499.6 75.0h0M494.6 65.1h0M500.6 66.4h0M500.2 68.8h0M506.6 59.5h0M519.9 64.4h0M519.8 67.4h0M514.7 69.2h0M518.6 67.4h0M519.3 75.7h0M523.1 75.5h0M510.7 67.4h0M522.4 67.0h0M521.2 62.9h0M522.4 70.3h0M537.2 71.7h0M537.3 69.4h0M534.6 75.5h0M550.3 68.4h0M557.6 74.3h0M555.3 70.7h0M431.1 79.1h0M437.2 90.7h0M438.2 85.5h0M444.8 90.0h0M443.4 90.9h0M441.3 78.2h0M444.7 87.3h0M447.8 81.7h0M434.2 91.4h0M437.7 92.8h0M440.4 87.6h0M436.7 89.4h0M449.5 92.1h0M440.6 86.8h0M459.5 94.3h0M457.2 79.8h0M456.6 79.4h0M466.3 87.2h0M453.1 82.2h0M453.3 82.3h0M473.2 82.8h0M467.9 77.7h0M470.1 82.3h0M477.0 90.7h0M479.1 91.3h0M473.5 88.4h0M472.3 80.6h0M475.4 91.8h0M467.4 82.9h0M489.5 83.0h0M483.2 90.3h0M490.9 82.1h0M489.6 77.9h0M486.1 82.1h0M494.5 79.8h0M491.2 75.7h0M489.0 76.4h0M511.6 80.4h0M499.2 84.1h0M507.4 87.7h0M502.6 88.6h0M504.6 85.8h0M501.2 79.2h0M505.8 78.7h0M493.2 85.7h0M500.4 82.7h0M500.6 83.0h0M499.4 82.2h0M502.0 81.1h0M520.0 92.5h0M512.3 80.1h0M518.9 76.6h0M522.3 93.5h0M511.9 88.4h0M516.3 86.9h0M521.3 78.9h0M512.4 90.7h0M522.0 79.6h0M516.0 87.1h0M539.3 84.3h0M535.5 83.7h0M534.3 79.9h0M541.9 79.3h0M530.6 92.5h0M527.0 88.2h0M530.5 88.4h0M530.6 88.0h0M537.9 84.4h0M527.3 82.7h0M537.2 89.9h0M533.3 85.6h0M539.3 85.9h0M533.5 77.9h0M532.1 86.8h0M528.4 89.0h0M524.6 90.4h0M539.7 90.7h0M530.5 88.0h0M525.2 91.1h0M541.6 79.4h0M552.4 87.2h0M559.1 92.1h0M561.0 96.3h0M565.0 89.4h0M559.8 80.0h0M443.0 99.3h0M442.4 91.9h0M449.2 105.6h0M449.6 95.7h0M438.5 96.6h0M444.9 95.2h0M461.5 101.8h0M454.8 96.6h0M465.7 99.9h0M453.0 106.7h0M450.1 106.5h0M451.4 100.0h0M458.8 98.6h0M462.7 98.6h0M466.3 105.8h0M462.5 97.1h0M458.4 98.8h0M455.1 100.6h0M453.4 103.2h0M456.7 106.2h0M467.8 102.1h0M475.2 107.9h0M478.3 93.4h0M472.7 104.8h0M470.5 96.1h0M477.0 94.2h0M477.1 96.9h0M470.7 94.0h0M476.8 105.1h0M492.2 93.7h0M478.2 95.0h0M492.7 90.5h0M493.5 102.6h0M495.3 94.7h0M485.2 103.7h0M482.8 102.2h0M493.8 102.3h0M484.7 100.7h0M481.8 103.0h0M484.1 100.6h0M483.7 96.8h0M512.1 97.1h0M510.4 107.8h0M496.9 103.6h0M503.2 94.5h0M498.6 90.2h0M503.8 102.6h0M511.6 104.3h0M503.1 93.0h0M497.7 92.2h0M504.9 96.4h0M503.7 97.0h0M504.9 100.7h0M496.8 95.1h0M503.8 98.0h0M498.3 96.4h0M497.7 91.2h0M497.9 96.9h0M503.0 104.3h0M525.8 108.4h0M511.3 104.0h0M515.8 104.3h0M518.8 96.0h0M509.5 95.0h0M510.8 100.5h0M525.6 101.2h0M516.7 105.2h0M526.7 98.2h0M531.7 93.4h0M536.9 104.3h0M534.4 102.6h0M528.6 102.0h0M534.0 103.5h0M529.6 97.4h0M528.4 103.3h0M534.6 104.0h0M536.4 96.4h0M537.7 89.2h0M535.1 99.3h0M539.3 99.4h0M529.9 106.8h0M530.2 105.5h0M527.8 104.2h0M538.5 93.0h0M547.5 97.6h0M541.5 95.6h0M548.9 95.4h0M560.2 106.2h0M399.6 107.9h0M407.6 106.4h0M416.4 120.4h0M415.7 116.2h0M413.0 113.4h0M434.7 116.2h0M426.6 117.3h0M420.4 115.9h0M435.5 118.7h0M423.3 108.8h0M425.1 108.8h0M422.8 117.3h0M424.6 113.8h0M445.4 124.3h0M441.0 115.1h0M447.1 117.3h0M439.2 111.8h0M445.7 115.4h0M435.9 117.4h0M441.5 110.0h0M439.6 114.3h0M435.8 112.9h0M441.3 110.0h0M461.3 112.6h0M457.3 112.7h0M456.1 114.8h0M454.1 111.1h0M460.8 115.7h0M452.6 111.7h0M457.0 109.6h0M458.8 119.6h0M455.9 111.4h0M458.6 119.0h0M452.6 111.1h0M468.9 119.3h0M478.7 114.0h0M478.8 116.6h0M470.0 108.8h0M467.2 108.1h0M466.9 120.5h0M475.3 118.8h0M476.5 110.1h0M487.1 110.9h0M490.4 119.3h0M488.9 116.6h0M485.2 109.8h0M491.4 120.2h0M491.4 116.6h0M489.2 116.8h0M484.6 120.9h0M488.7 116.8h0M490.0 120.3h0M481.6 112.3h0M508.2 116.1h0M507.5 119.4h0M494.7 109.0h0M497.9 111.5h0M506.1 117.1h0M498.2 116.9h0M497.5 119.3h0M502.8 118.6h0M508.7 122.5h0M520.2 119.7h0M521.2 113.4h0M513.8 107.6h0M511.9 111.4h0M515.1 116.8h0M521.4 119.6h0M517.8 119.2h0M519.1 120.3h0M522.8 113.6h0M516.0 118.1h0M518.6 115.1h0M513.3 106.9h0M511.3 113.4h0M520.8 114.0h0M516.4 120.4h0M524.6 114.3h0M541.5 106.6h0M543.3 116.1h0M525.8 107.5h0M534.7 114.7h0M534.4 105.0h0M529.0 113.9h0M535.1 111.3h0M539.6 110.5h0M525.6 118.1h0M531.4 113.6h0M523.9 118.4h0M525.9 121.7h0M543.4 120.5h0M552.3 109.5h0M425.7 123.6h0M429.0 134.4h0M440.7 133.9h0M442.2 126.1h0M439.1 132.1h0M450.8 131.5h0M444.5 135.4h0M446.3 127.4h0M438.8 131.6h0M462.7 135.7h0M450.0 131.5h0M460.2 133.0h0M453.1 123.9h0M464.6 128.9h0M457.3 127.6h0M479.7 131.6h0M464.6 132.3h0M467.8 129.5h0M476.3 134.3h0M470.4 137.9h0M488.3 123.9h0M484.5 131.3h0M485.0 126.6h0M487.5 125.3h0M486.7 137.0h0M491.5 133.7h0M491.3 127.5h0M503.3 125.3h0M509.5 127.8h0M506.1 131.0h0M508.8 123.9h0M504.0 129.2h0M520.1 133.5h0M522.7 122.1h0M513.9 123.9h0M517.8 137.6h0M520.9 124.2h0M512.4 135.7h0M522.5 127.7h0M515.9 124.5h0M521.6 134.0h0M537.2 130.7h0M527.2 122.5h0M537.9 125.1h0M533.3 121.1h0M529.7 122.9h0M526.8 135.4h0M537.6 135.1h0M541.0 132.7h0M539.5 127.7h0M542.5 126.6h0M532.8 136.3h0M556.1 127.2h0M418.5 141.4h0M434.1 147.5h0M427.5 142.4h0M434.9 148.7h0M431.9 148.1h0M430.9 147.4h0M431.3 142.2h0M428.2 141.5h0M420.9 148.7h0M429.3 151.4h0M420.8 146.3h0M424.0 136.8h0M433.4 149.9h0M444.9 143.2h0M450.1 142.8h0M451.3 145.9h0M437.9 142.0h0M440.0 152.8h0M456.2 142.6h0M469.6 144.0h0M450.2 148.4h0M453.2 138.6h0M458.0 139.8h0M451.5 148.1h0M451.0 148.3h0M479.9 145.2h0M470.1 149.8h0M469.0 143.6h0M469.2 148.9h0M470.6 145.1h0M468.0 142.6h0M471.0 148.2h0M486.8 144.6h0M480.9 147.4h0M485.9 143.4h0M484.8 139.3h0M485.9 152.9h0M484.8 139.7h0M499.9 140.5h0M511.5 150.8h0M496.2 145.4h0M497.8 146.9h0M506.2 147.2h0M498.6 148.7h0M505.2 150.0h0M509.6 146.0h0M509.8 144.4h0M509.7 144.3h0M498.3 152.3h0M508.5 140.6h0M494.6 139.9h0M499.2 138.2h0M510.8 148.5h0M502.8 147.4h0M499.9 140.1h0M527.8 145.0h0M510.8 147.1h0M519.6 143.0h0M517.0 138.9h0M516.2 149.9h0M521.6 136.7h0M521.2 142.7h0M525.3 145.2h0M512.9 140.0h0M516.3 141.8h0M530.8 139.9h0M543.7 146.4h0M567.9 139.9h0M430.8 163.3h0M427.4 155.7h0M449.3 156.9h0M439.7 160.4h0M444.4 155.1h0M438.9 162.9h0M436.6 158.0h0M462.0 156.7h0M452.0 163.7h0M461.0 154.8h0M464.3 153.4h0M449.2 155.3h0M463.2 155.8h0M463.2 154.2h0M465.2 157.9h0M477.1 156.3h0M466.2 159.8h0M478.0 160.1h0M469.4 164.5h0M465.4 165.9h0M477.1 155.8h0M486.4 169.1h0M486.5 164.4h0M480.7 160.2h0M483.8 158.7h0M490.4 151.5h0M494.0 161.4h0M488.1 156.8h0M494.6 164.5h0M498.8 161.5h0M505.5 163.2h0M509.3 163.9h0M507.3 161.7h0M503.2 156.5h0M498.6 163.3h0M520.7 157.0h0M537.1 155.6h0M536.6 158.2h0M538.3 162.8h0M530.6 161.8h0M434.0 171.9h0M446.4 170.6h0M436.8 168.3h0M445.6 176.1h0M442.3 170.4h0M441.0 169.7h0M452.0 174.7h0M467.1 180.6h0M461.8 171.9h0M463.1 171.2h0M449.9 171.1h0M478.9 176.6h0M474.4 168.3h0M464.0 177.5h0M476.1 170.9h0M479.1 168.6h0M470.7 169.7h0M476.2 174.3h0M469.3 169.7h0M479.2 169.7h0M466.8 176.6h0M488.8 177.8h0M491.1 172.6h0M497.6 167.4h0M497.6 177.1h0M508.0 174.3h0M507.6 169.9h0M499.3 167.1h0M518.8 171.2h0M511.9 170.5h0M518.6 173.9h0M524.0 175.6h0M516.3 178.1h0M531.3 177.1h0M537.8 176.5h0M539.5 174.6h0M530.0 178.2h0M537.2 179.9h0M528.8 166.7h0M523.9 175.5h0M539.5 171.7h0M550.3 177.5h0M541.6 174.8h0M449.9 191.3h0M448.9 193.6h0M454.4 191.8h0M451.7 187.9h0M452.4 195.1h0M460.3 190.6h0M451.9 184.7h0M464.9 190.1h0M473.9 191.9h0M477.5 192.7h0M468.9 183.2h0M463.9 188.2h0M473.3 185.1h0M472.5 194.5h0M468.7 183.3h0M486.3 185.6h0M485.0 183.4h0M483.1 192.3h0M494.6 193.6h0M494.3 186.1h0M484.7 184.2h0M493.9 191.5h0M494.3 193.9h0M483.0 193.8h0M485.9 191.5h0M490.4 192.3h0M491.4 180.6h0M496.7 188.2h0M513.5 194.7h0M522.4 183.8h0M518.5 194.0h0M531.6 192.4h0M528.5 185.8h0M531.5 193.2h0M537.9 184.3h0M534.3 188.7h0M547.2 191.9h0M465.0 210.5h0M460.3 195.1h0M455.3 204.7h0M459.5 208.3h0M451.0 197.8h0M474.1 208.6h0M475.6 198.6h0M468.1 203.1h0M496.0 203.4h0M485.1 206.6h0M477.0 199.5h0M484.2 204.0h0M493.0 206.5h0M482.0 210.4h0M493.7 208.0h0M505.1 200.2h0M510.8 197.2h0M512.1 203.6h0" stroke="#f2e600" stroke-width="1.16" stroke-linecap="round"/><path d="M511.3 71.7h0M511.5 77.1h0M507.8 72.5h0M509.2 77.5h0M508.0 74.8h0M522.9 90.2h0M525.6 92.0h0M527.1 90.5h0M529.4 90.9h0M527.3 87.3h0M528.1 86.4h0M528.2 91.3h0M534.5 102.0h0M538.4 100.4h0M536.6 99.0h0M534.4 99.2h0M529.0 97.3h0M536.5 102.7h0M519.1 105.0h0M528.3 110.1h0M527.1 113.7h0M529.8 108.5h0M515.1 111.0h0M518.0 115.6h0M516.6 112.7h0M504.4 103.1h0M501.3 99.8h0M507.6 98.1h0M494.6 79.8h0M496.9 116.8h0M472.1 62.2h0M472.7 65.6h0M504.5 45.2h0M499.3 39.5h0M508.0 42.5h0M507.7 40.6h0M512.0 50.2h0M504.2 51.2h0M509.3 57.7h0M502.4 54.4h0M472.0 101.4h0M468.6 93.7h0M466.1 94.1h0M450.1 112.9h0M444.5 114.5h0M444.5 113.8h0M450.1 118.3h0M453.0 112.6h0M440.0 115.6h0M438.8 117.1h0M433.2 141.5h0M426.8 149.4h0M417.9 141.5h0M430.7 140.6h0M429.4 138.1h0M464.5 159.2h0M455.4 167.4h0M465.1 167.4h0M457.8 160.8h0M468.7 178.3h0M468.9 170.8h0M468.5 173.1h0M473.3 174.4h0M519.8 139.5h0M509.2 139.6h0M520.1 118.9h0M517.8 117.7h0M515.9 117.8h0M496.4 211.4h0M484.8 208.3h0M494.5 205.1h0M484.5 211.0h0M534.7 186.1h0M540.7 180.9h0M539.9 183.7h0M537.8 177.7h0M538.0 180.9h0M464.1 118.8h0M460.8 119.6h0M458.6 117.8h0M482.4 199.8h0M483.4 176.6h0M481.7 198.0h0M481.1 206.0h0M480.2 195.7h0M481.0 205.6h0M479.9 197.2h0" stroke="#f2e600" stroke-width="1.30" stroke-linecap="round"/><path d="M504.8 33.9h0M498.7 44.9h0M518.7 39.3h0M517.5 38.5h0M508.1 44.9h0M475.0 52.6h0M492.8 54.6h0M486.5 60.3h0M505.4 48.9h0M508.3 55.2h0M510.4 52.3h0M498.7 50.2h0M507.0 55.4h0M528.3 63.8h0M516.8 55.8h0M513.6 51.9h0M437.7 71.6h0M442.4 69.1h0M463.7 77.6h0M459.3 69.9h0M494.0 68.6h0M490.0 75.5h0M498.0 64.3h0M501.2 62.5h0M499.3 66.9h0M512.9 74.2h0M525.8 79.0h0M520.5 68.4h0M513.8 69.0h0M518.2 64.1h0M511.5 68.2h0M513.6 65.6h0M522.7 69.1h0M556.9 75.7h0M556.4 70.9h0M440.7 82.6h0M444.3 78.6h0M458.8 78.0h0M466.3 84.9h0M490.3 86.6h0M493.6 88.8h0M498.6 85.4h0M495.7 91.2h0M508.0 87.4h0M514.9 91.7h0M525.6 80.1h0M534.5 82.6h0M526.2 82.9h0M543.5 83.8h0M545.9 85.7h0M544.2 79.4h0M426.0 101.8h0M438.0 92.6h0M439.8 101.7h0M456.0 90.8h0M455.8 97.2h0M463.3 104.7h0M466.5 105.1h0M489.2 100.9h0M484.2 92.0h0M505.0 96.5h0M510.8 105.6h0M503.2 95.5h0M521.6 102.9h0M518.5 92.0h0M513.0 99.6h0M513.4 94.1h0M514.0 106.0h0M533.1 95.0h0M531.5 99.3h0M529.7 95.5h0M534.1 108.1h0M533.5 97.6h0M530.5 96.1h0M525.7 102.4h0M547.6 101.7h0M424.4 111.2h0M450.1 118.3h0M463.9 111.3h0M461.1 111.4h0M454.0 123.2h0M481.6 114.5h0M462.9 109.9h0M473.0 112.2h0M479.0 126.9h0M472.9 121.1h0M477.6 114.3h0M480.7 109.5h0M481.0 109.4h0M497.5 107.6h0M489.4 109.5h0M503.4 114.3h0M510.7 109.7h0M519.1 113.4h0M516.7 114.8h0M529.4 113.3h0M529.5 119.4h0M552.5 110.7h0M424.7 128.7h0M424.9 136.6h0M427.9 131.3h0M446.0 133.2h0M442.3 137.7h0M477.6 126.8h0M512.8 125.6h0M501.0 135.1h0M505.0 124.8h0M514.6 120.6h0M531.9 123.5h0M531.0 132.9h0M535.3 124.3h0M536.9 141.1h0M423.0 147.0h0M423.5 146.2h0M435.6 139.2h0M436.2 148.7h0M450.4 142.1h0M442.1 151.3h0M454.9 148.5h0M460.8 152.8h0M479.2 143.2h0M489.6 146.8h0M484.0 149.9h0M486.6 154.2h0M520.7 150.0h0M509.9 146.9h0M530.3 142.9h0M540.4 144.1h0M433.1 154.8h0M432.5 156.7h0M446.3 171.4h0M436.5 160.5h0M462.9 158.8h0M456.9 154.7h0M455.6 164.5h0M467.8 157.7h0M477.1 161.9h0M482.8 159.4h0M486.7 167.9h0M479.5 152.5h0M519.2 160.2h0M434.7 172.0h0M433.6 170.8h0M463.6 170.9h0M474.7 172.2h0M469.4 168.5h0M488.9 172.2h0M504.9 167.8h0M495.4 180.7h0M504.1 172.5h0M503.2 183.7h0M526.7 174.6h0M536.4 183.1h0M446.8 186.2h0M455.2 194.4h0M517.6 189.1h0M541.2 192.3h0M529.9 196.1h0M525.0 183.5h0M530.1 191.2h0M528.9 191.0h0M550.7 189.9h0M471.8 203.2h0M484.0 211.5h0" stroke="#f2e600" stroke-width="1.56" stroke-linecap="round"/><path d="M515.4 75.3h0M530.4 89.0h0M524.4 86.5h0M528.1 111.2h0M520.2 106.3h0M498.9 99.4h0M505.5 96.1h0M503.6 98.1h0M506.4 101.1h0M476.8 61.0h0M509.4 42.9h0M466.3 103.5h0M442.6 114.7h0M464.0 173.3h0M498.9 146.6h0M499.1 141.3h0M485.4 205.9h0" stroke="#f2e600" stroke-width="1.70" stroke-linecap="round"/><path d="M488.7 42.6h0M489.0 51.2h0M489.6 46.9h0M486.4 44.4h0M494.9 39.4h0M507.0 45.5h0M509.8 36.7h0M507.7 43.6h0M501.4 35.6h0M499.1 39.8h0M508.9 43.1h0M509.2 41.0h0M514.3 34.7h0M524.5 47.7h0M521.3 41.9h0M474.1 54.8h0M476.1 55.2h0M470.2 54.8h0M479.0 55.2h0M474.9 50.7h0M482.8 53.2h0M486.3 60.2h0M491.4 49.4h0M495.7 52.9h0M500.9 54.0h0M508.3 56.7h0M495.0 53.4h0M507.1 57.7h0M497.0 54.7h0M516.2 53.2h0M519.2 58.8h0M523.1 55.2h0M513.0 58.1h0M518.2 59.9h0M429.7 77.9h0M444.4 71.7h0M435.8 75.7h0M436.0 77.4h0M464.8 66.6h0M478.6 64.8h0M467.4 76.0h0M476.7 77.2h0M477.6 66.1h0M482.4 67.2h0M505.1 72.1h0M500.2 77.8h0M509.8 71.1h0M499.0 62.7h0M516.9 63.9h0M515.7 70.0h0M518.2 76.2h0M519.1 73.3h0M519.4 74.3h0M516.6 71.1h0M515.6 61.1h0M514.4 70.9h0M524.7 66.6h0M538.6 75.5h0M533.0 70.5h0M528.3 62.0h0M535.4 69.6h0M557.5 76.3h0M434.1 81.3h0M443.8 86.8h0M449.6 79.0h0M450.9 92.1h0M463.9 88.2h0M467.2 80.5h0M457.1 93.2h0M459.1 82.5h0M456.0 90.1h0M474.1 84.2h0M466.2 81.6h0M476.0 90.6h0M471.1 79.4h0M467.2 85.9h0M488.7 82.1h0M488.9 88.3h0M494.6 84.1h0M488.3 74.6h0M481.7 86.2h0M484.3 84.4h0M484.9 80.4h0M477.1 86.5h0M493.9 91.0h0M492.8 81.7h0M489.3 85.6h0M489.5 92.8h0M490.5 89.6h0M489.1 91.9h0M488.9 86.2h0M483.4 81.2h0M487.4 94.4h0M482.4 80.6h0M488.7 84.4h0M499.8 85.1h0M506.0 93.3h0M511.5 88.8h0M498.7 86.9h0M506.8 90.7h0M499.7 84.0h0M506.8 85.5h0M505.8 88.5h0M500.6 91.5h0M508.2 87.7h0M498.4 85.1h0M503.6 89.9h0M510.0 82.4h0M498.8 89.8h0M503.4 91.5h0M504.6 86.6h0M510.1 90.1h0M512.0 79.8h0M500.6 91.0h0M514.3 88.7h0M516.9 89.3h0M516.6 89.4h0M523.5 84.0h0M523.6 80.3h0M523.5 91.3h0M518.2 80.6h0M510.9 90.2h0M525.7 89.2h0M510.4 79.2h0M510.7 77.0h0M514.6 93.5h0M518.3 78.4h0M515.5 85.4h0M523.2 79.7h0M523.8 78.8h0M513.1 83.3h0M517.5 81.7h0M521.4 86.6h0M533.2 82.3h0M540.5 83.9h0M529.4 80.4h0M527.2 81.4h0M537.1 83.1h0M527.5 82.3h0M539.1 91.9h0M539.0 88.7h0M535.1 80.8h0M535.6 88.8h0M537.7 77.2h0M532.2 78.5h0M534.6 92.0h0M530.6 87.4h0M536.8 86.5h0M539.4 82.3h0M526.2 78.5h0M525.1 86.4h0M547.6 84.3h0M410.3 95.7h0M411.9 94.8h0M421.7 99.2h0M436.3 97.5h0M463.1 108.9h0M462.7 98.4h0M459.4 99.3h0M456.6 103.8h0M457.3 94.4h0M459.7 99.2h0M464.7 104.7h0M459.0 101.9h0M461.8 101.5h0M455.8 103.7h0M463.5 105.5h0M465.0 99.5h0M461.6 92.5h0M471.9 96.1h0M471.1 105.3h0M470.0 108.3h0M470.4 91.2h0M481.3 107.7h0M489.2 106.1h0M490.5 102.1h0M486.8 99.4h0M482.7 98.9h0M484.2 97.6h0M486.1 103.7h0M488.0 103.0h0M484.2 106.3h0M496.9 101.2h0M500.4 97.9h0M504.4 98.4h0M502.7 93.6h0M496.6 108.8h0M502.1 96.9h0M495.5 102.8h0M501.5 101.9h0M507.7 100.2h0M500.7 93.4h0M525.6 90.2h0M511.4 106.2h0M524.7 96.8h0M523.5 94.9h0M511.7 106.8h0M517.3 107.3h0M514.6 95.3h0M518.6 99.4h0M523.6 95.9h0M524.3 99.8h0M523.4 104.6h0M515.4 102.1h0M525.1 92.8h0M516.8 103.3h0M523.0 98.4h0M521.5 100.7h0M516.0 99.3h0M519.9 108.9h0M512.6 99.1h0M531.5 108.5h0M527.2 96.2h0M532.6 107.0h0M524.5 105.7h0M533.6 97.7h0M542.0 99.4h0M533.4 104.1h0M536.1 97.5h0M530.6 100.3h0M532.3 93.9h0M527.8 97.3h0M538.2 95.6h0M529.1 95.3h0M537.9 98.6h0M529.2 107.7h0M539.1 96.7h0M528.3 92.5h0M532.8 102.1h0M525.2 105.3h0M535.6 102.2h0M551.8 98.0h0M554.7 107.8h0M416.4 122.4h0M422.3 117.9h0M421.1 125.4h0M428.0 119.3h0M422.8 116.5h0M422.5 107.3h0M429.6 113.6h0M438.3 106.4h0M439.4 118.5h0M440.6 112.5h0M440.9 111.9h0M453.9 111.8h0M456.7 109.2h0M459.8 117.4h0M458.0 119.3h0M459.2 124.4h0M458.3 115.4h0M466.7 117.2h0M466.1 111.1h0M479.3 114.4h0M473.7 111.8h0M478.6 108.5h0M467.9 117.1h0M468.0 113.6h0M488.7 117.7h0M492.8 121.4h0M480.3 119.4h0M483.0 111.6h0M489.3 112.1h0M484.5 109.7h0M487.8 118.3h0M483.0 108.6h0M503.3 107.2h0M503.6 110.9h0M497.1 117.7h0M501.5 113.6h0M508.7 119.8h0M512.0 124.1h0M501.5 112.5h0M512.9 119.9h0M496.2 117.2h0M501.9 107.2h0M507.5 108.8h0M496.1 111.7h0M512.0 107.6h0M522.8 112.9h0M514.8 116.0h0M517.4 115.2h0M516.5 118.3h0M510.2 114.5h0M525.1 112.6h0M517.5 111.1h0M529.0 107.0h0M523.9 111.6h0M520.1 121.5h0M514.3 115.8h0M511.9 122.8h0M522.0 124.7h0M517.2 121.2h0M512.4 120.1h0M521.5 121.1h0M517.8 107.2h0M524.0 111.0h0M522.0 121.7h0M532.0 109.1h0M531.2 119.0h0M531.1 115.8h0M535.2 124.5h0M530.9 113.1h0M527.4 114.8h0M538.1 110.1h0M534.3 115.8h0M540.5 109.2h0M537.1 123.8h0M525.5 114.8h0M540.0 117.5h0M527.3 124.5h0M540.9 114.4h0M543.1 111.2h0M541.8 117.0h0M414.7 129.9h0M424.7 123.8h0M447.7 128.1h0M460.0 122.1h0M472.5 131.5h0M485.0 130.7h0M486.5 127.4h0M482.9 129.0h0M510.1 133.3h0M505.3 136.2h0M497.9 133.6h0M501.1 132.4h0M498.7 123.6h0M506.8 130.1h0M519.3 126.2h0M515.3 126.2h0M514.2 127.0h0M520.8 129.4h0M534.7 134.2h0M418.9 136.6h0M425.0 142.1h0M423.5 144.4h0M424.4 148.5h0M424.6 150.2h0M433.8 154.1h0M434.3 148.3h0M447.0 138.6h0M457.2 149.0h0M453.8 144.4h0M452.1 138.0h0M460.7 139.2h0M477.4 144.2h0M469.9 153.4h0M474.3 146.9h0M474.7 136.6h0M488.6 143.4h0M489.2 137.0h0M492.7 149.6h0M485.0 150.2h0M497.8 140.0h0M506.8 149.8h0M506.9 147.2h0M499.8 149.7h0M503.5 144.3h0M497.4 143.2h0M501.9 134.3h0M513.9 138.4h0M520.9 143.8h0M530.5 151.1h0M428.1 157.4h0M435.5 160.2h0M432.6 162.7h0M439.1 161.9h0M447.5 171.2h0M443.9 158.3h0M452.0 156.4h0M451.8 158.1h0M453.3 165.6h0M450.8 156.6h0M454.0 152.8h0M463.7 168.4h0M460.5 166.3h0M466.6 160.8h0M476.1 156.1h0M480.7 160.5h0M473.5 158.9h0M484.7 156.7h0M497.0 167.7h0M541.8 154.3h0M564.0 154.4h0M436.9 165.6h0M437.1 171.2h0M448.0 173.1h0M443.2 177.7h0M462.2 169.9h0M451.9 178.1h0M451.5 173.3h0M457.7 167.1h0M453.1 176.6h0M462.2 177.5h0M469.1 177.7h0M473.2 175.4h0M475.2 182.1h0M475.8 172.8h0M479.7 167.2h0M489.8 174.1h0M486.4 171.8h0M498.5 170.5h0M512.1 181.0h0M508.7 172.6h0M523.5 172.6h0M514.3 181.0h0M518.5 173.2h0M540.4 174.1h0M543.0 173.2h0M446.8 186.2h0M452.6 184.1h0M476.5 190.3h0M469.4 185.3h0M471.3 183.6h0M482.5 182.4h0M490.2 183.1h0M520.7 188.0h0M519.8 185.9h0M527.4 187.6h0M534.5 189.2h0M540.6 191.3h0M526.7 189.6h0M529.8 191.2h0M529.5 184.9h0M543.9 194.0h0M564.3 184.1h0M470.7 202.1h0M490.8 210.5h0M490.2 200.6h0M495.3 201.1h0" stroke="#ff8a00" stroke-width="1.16" stroke-linecap="round"/><path d="M513.5 71.8h0M514.5 72.5h0M502.1 75.1h0M507.1 72.8h0M513.3 73.9h0M505.5 76.9h0M512.6 71.8h0M510.9 79.2h0M503.7 72.4h0M504.8 75.1h0M504.9 76.0h0M522.7 89.0h0M526.1 87.4h0M524.9 89.9h0M528.1 87.6h0M524.7 91.8h0M528.6 88.3h0M526.9 88.4h0M527.8 89.8h0M528.2 99.7h0M538.0 99.2h0M537.9 97.1h0M537.3 101.5h0M530.4 102.4h0M535.0 96.3h0M521.7 115.5h0M529.2 114.4h0M519.8 111.0h0M522.0 117.9h0M525.3 117.2h0M528.2 113.9h0M524.1 107.1h0M521.5 109.4h0M523.5 116.9h0M519.9 107.5h0M519.4 112.9h0M523.3 111.6h0M523.0 114.0h0M522.8 104.2h0M525.0 115.7h0M528.3 110.3h0M521.6 104.3h0M521.3 109.1h0M523.4 114.5h0M519.1 108.3h0M516.2 110.4h0M524.6 114.5h0M520.0 108.3h0M501.4 98.1h0M510.3 96.7h0M506.7 94.8h0M501.2 95.6h0M499.2 99.1h0M497.1 79.5h0M495.8 79.3h0M491.6 78.7h0M493.3 80.8h0M493.8 118.6h0M499.3 122.4h0M497.4 120.7h0M493.7 118.3h0M494.9 121.6h0M468.5 63.9h0M466.3 62.6h0M466.6 59.4h0M471.9 63.8h0M473.0 58.5h0M468.1 58.7h0M474.5 62.0h0M509.4 41.8h0M497.1 41.5h0M504.2 46.6h0M507.4 44.9h0M500.2 45.1h0M500.4 42.3h0M509.2 42.3h0M511.3 61.5h0M507.4 59.6h0M510.9 49.8h0M510.6 61.8h0M508.3 49.4h0M515.1 57.9h0M461.7 98.7h0M468.6 96.5h0M464.9 94.4h0M469.6 105.3h0M453.7 116.7h0M453.3 111.3h0M447.6 116.3h0M452.4 113.7h0M443.0 119.5h0M443.3 114.9h0M443.9 119.4h0M429.0 140.4h0M428.8 140.7h0M430.2 142.2h0M425.3 138.9h0M418.5 137.9h0M457.9 166.1h0M453.9 164.6h0M457.6 167.3h0M465.1 166.1h0M466.5 164.8h0M453.1 164.4h0M462.0 168.9h0M461.8 169.0h0M456.2 166.3h0M454.4 166.1h0M472.3 177.2h0M467.6 170.7h0M468.4 173.7h0M464.0 172.1h0M467.0 176.0h0M459.7 172.8h0M497.8 143.0h0M491.7 136.9h0M499.5 145.7h0M493.9 142.7h0M502.5 140.3h0M519.7 120.5h0M515.2 123.7h0M515.8 121.6h0M515.0 120.3h0M519.9 120.2h0M519.0 126.9h0M491.6 209.6h0M490.8 201.4h0M485.8 208.1h0M490.2 208.1h0M496.1 208.8h0M497.9 206.5h0M496.3 203.2h0M490.6 203.4h0M498.0 207.0h0M495.7 210.2h0M526.5 183.5h0M533.0 177.6h0M527.7 186.8h0M533.6 182.5h0M539.6 178.6h0M536.1 183.2h0M461.5 116.8h0M481.7 195.0h0M481.3 199.2h0M479.7 199.7h0M481.1 174.8h0M483.9 181.9h0M482.7 184.3h0M484.0 202.8h0M481.6 186.1h0M483.5 176.5h0M479.5 175.4h0M483.8 202.2h0M480.9 173.4h0M483.1 196.2h0M480.3 182.5h0" stroke="#ff8a00" stroke-width="1.30" stroke-linecap="round"/><path d="M491.3 48.3h0M521.9 35.8h0M485.1 49.7h0M515.4 56.2h0M518.4 49.5h0M476.6 69.7h0M471.7 72.2h0M485.9 74.7h0M486.7 71.5h0M490.4 64.4h0M508.7 76.8h0M531.5 74.9h0M446.1 75.3h0M441.9 91.2h0M452.9 83.1h0M456.9 87.5h0M489.5 79.1h0M481.8 78.8h0M491.1 91.0h0M491.9 85.2h0M484.8 90.1h0M486.0 86.4h0M505.9 88.0h0M505.9 89.3h0M496.6 81.7h0M497.1 90.2h0M508.4 88.9h0M506.7 83.3h0M498.6 79.9h0M502.1 78.1h0M502.4 84.7h0M521.3 86.0h0M524.4 81.9h0M523.0 81.6h0M534.8 79.8h0M526.6 86.2h0M533.9 85.3h0M529.4 84.9h0M445.8 102.7h0M463.7 100.8h0M472.8 94.3h0M480.9 101.5h0M477.9 96.9h0M474.5 94.7h0M486.9 96.4h0M487.4 105.2h0M499.8 104.0h0M510.8 99.6h0M509.4 98.8h0M509.5 105.1h0M497.6 95.7h0M520.1 101.3h0M516.1 96.5h0M517.8 104.4h0M539.0 102.6h0M525.4 93.4h0M536.7 97.8h0M528.1 109.6h0M541.9 102.0h0M527.6 94.5h0M528.8 95.2h0M448.3 107.9h0M441.8 115.3h0M449.4 121.6h0M444.7 109.0h0M457.8 113.6h0M457.1 110.5h0M469.3 116.7h0M498.4 116.1h0M485.5 117.6h0M500.7 118.5h0M501.8 109.9h0M500.8 117.2h0M509.3 114.2h0M516.9 117.4h0M511.7 110.6h0M512.7 119.3h0M508.6 119.4h0M536.7 122.7h0M529.4 111.6h0M534.7 114.1h0M537.1 110.2h0M535.7 117.0h0M551.7 111.8h0M486.7 126.8h0M476.5 131.9h0M527.8 133.4h0M533.6 135.4h0M525.1 136.3h0M464.9 142.8h0M461.0 136.2h0M464.3 138.4h0M499.6 140.2h0M507.4 150.7h0M505.0 141.0h0M515.9 134.5h0M514.5 147.3h0M522.0 142.6h0M556.6 139.1h0M448.9 160.9h0M485.9 164.3h0M492.7 163.6h0M526.2 168.6h0M534.0 153.6h0M529.4 159.0h0M454.3 168.4h0M522.8 180.5h0M513.9 180.8h0M539.2 167.4h0M456.5 188.8h0M522.5 184.6h0M547.3 190.7h0M457.5 205.4h0M455.1 208.0h0M456.2 201.2h0" stroke="#ff8a00" stroke-width="1.56" stroke-linecap="round"/><path d="M505.4 78.1h0M508.3 75.0h0M512.6 76.4h0M523.5 93.1h0M538.4 101.1h0M527.8 99.7h0M529.6 101.1h0M540.1 99.0h0M518.5 112.3h0M523.0 107.7h0M526.7 112.2h0M509.7 98.0h0M499.1 99.9h0M502.9 102.7h0M491.1 79.9h0M499.8 120.5h0M508.6 45.6h0M513.5 41.8h0M507.4 41.7h0M501.5 43.9h0M508.9 58.9h0M465.6 103.4h0M470.0 93.8h0M467.6 104.4h0M469.1 107.1h0M461.6 101.9h0M449.6 112.6h0M437.2 119.9h0M431.2 138.7h0M430.6 137.8h0M461.2 157.3h0M513.2 136.1h0M502.8 142.7h0M494.8 140.5h0M491.0 137.3h0M489.9 211.2h0M538.2 181.5h0M538.5 179.2h0M533.4 190.2h0" stroke="#ff8a00" stroke-width="1.70" stroke-linecap="round"/><path d="M489.4 43.5h0M500.8 40.5h0M506.9 41.4h0M496.4 42.4h0M508.1 37.9h0M517.9 32.6h0M511.2 36.8h0M454.7 61.3h0M466.7 62.5h0M469.2 57.2h0M472.1 52.0h0M469.4 61.5h0M484.0 59.9h0M489.4 46.3h0M484.1 55.8h0M485.4 55.9h0M495.1 51.7h0M485.9 49.2h0M490.2 64.8h0M486.0 52.3h0M487.1 49.9h0M497.7 53.3h0M511.8 58.2h0M504.1 60.3h0M498.5 50.1h0M521.6 55.9h0M517.2 60.3h0M528.5 61.6h0M516.6 59.6h0M516.6 52.4h0M517.4 55.9h0M513.9 50.8h0M525.9 53.6h0M525.1 49.3h0M520.4 50.8h0M441.8 70.5h0M446.5 72.5h0M444.5 75.3h0M456.9 69.3h0M458.9 73.4h0M450.7 71.2h0M449.1 66.1h0M451.3 65.1h0M464.5 68.3h0M466.5 63.9h0M471.9 70.2h0M476.3 61.2h0M475.8 69.4h0M494.4 71.5h0M493.0 63.3h0M488.9 73.0h0M483.3 63.5h0M495.3 67.4h0M506.0 69.4h0M507.8 77.0h0M510.7 65.0h0M507.8 70.7h0M500.8 69.2h0M522.3 67.0h0M514.9 68.3h0M510.4 66.0h0M526.8 77.4h0M513.2 70.2h0M511.5 71.8h0M527.9 69.2h0M540.0 68.8h0M538.0 61.0h0M537.1 65.1h0M525.8 70.7h0M555.0 71.4h0M437.2 81.6h0M444.0 85.3h0M442.1 89.8h0M437.9 93.0h0M449.2 92.4h0M435.3 92.0h0M442.9 92.1h0M445.2 82.0h0M439.2 77.3h0M442.1 83.0h0M436.2 82.7h0M459.6 85.7h0M451.8 88.3h0M459.1 89.6h0M462.8 89.0h0M459.1 82.7h0M455.1 83.5h0M460.1 92.0h0M456.8 77.1h0M454.9 86.3h0M472.0 75.3h0M470.5 89.3h0M470.5 85.4h0M485.6 84.1h0M487.3 78.4h0M491.4 93.1h0M483.0 79.7h0M481.6 83.6h0M486.6 85.3h0M483.3 80.0h0M482.3 76.3h0M489.7 85.5h0M482.3 80.6h0M492.7 82.8h0M483.5 85.5h0M492.0 92.4h0M481.1 82.9h0M483.2 92.9h0M488.7 84.4h0M491.9 86.4h0M483.6 89.2h0M478.6 89.1h0M489.8 87.1h0M487.9 76.4h0M485.9 76.7h0M506.9 84.4h0M500.7 85.2h0M506.2 88.5h0M497.4 84.6h0M502.2 90.2h0M505.4 80.7h0M505.9 84.8h0M498.2 90.1h0M503.8 91.1h0M506.8 84.7h0M497.9 82.8h0M500.3 88.9h0M504.5 75.6h0M500.0 84.1h0M508.1 91.3h0M508.1 89.6h0M502.4 79.0h0M506.3 88.2h0M513.8 79.7h0M512.0 92.0h0M524.6 91.0h0M525.3 90.6h0M515.3 91.3h0M517.6 82.3h0M513.9 87.8h0M524.1 80.5h0M520.8 86.2h0M514.5 75.9h0M520.6 78.8h0M518.1 82.3h0M518.1 85.5h0M516.1 85.8h0M521.4 88.5h0M514.3 92.1h0M522.7 75.5h0M526.3 93.0h0M523.3 92.0h0M518.9 74.8h0M520.5 90.2h0M517.3 81.0h0M513.4 89.1h0M515.6 86.2h0M520.9 88.5h0M513.0 87.8h0M508.5 87.1h0M517.1 83.2h0M519.2 77.1h0M507.4 80.6h0M518.4 89.8h0M516.1 78.5h0M511.1 87.4h0M523.7 79.4h0M520.6 82.9h0M532.7 78.3h0M527.3 90.9h0M538.3 85.7h0M539.4 84.9h0M538.2 88.2h0M530.5 80.7h0M532.1 86.8h0M534.1 82.8h0M535.2 91.8h0M527.9 77.6h0M527.5 81.4h0M526.6 86.9h0M531.9 80.8h0M535.5 81.3h0M532.2 81.8h0M529.2 89.2h0M541.7 85.2h0M539.6 81.5h0M537.7 93.8h0M540.2 77.4h0M530.3 80.2h0M537.6 87.0h0M537.1 88.4h0M534.5 90.4h0M528.5 76.8h0M536.1 78.4h0M537.9 86.3h0M537.2 89.6h0M538.9 93.1h0M538.7 85.0h0M529.6 85.8h0M533.2 93.2h0M551.7 88.8h0M544.5 91.1h0M425.0 100.7h0M441.3 101.0h0M438.9 96.5h0M446.4 105.0h0M440.3 102.6h0M459.7 97.3h0M453.6 96.0h0M454.3 104.5h0M450.9 99.5h0M453.3 109.7h0M448.7 102.8h0M454.8 105.0h0M460.2 95.5h0M452.0 107.0h0M464.0 99.3h0M453.2 97.5h0M469.6 95.7h0M467.6 104.5h0M473.2 95.4h0M474.3 97.9h0M472.6 106.4h0M480.1 104.0h0M482.9 103.7h0M480.1 105.2h0M479.9 108.1h0M483.9 93.9h0M489.4 104.0h0M490.4 102.8h0M480.4 94.0h0M494.3 95.4h0M487.5 99.6h0M492.0 102.4h0M498.0 102.5h0M485.9 106.0h0M489.8 101.4h0M482.8 105.7h0M495.2 88.3h0M492.2 101.5h0M489.9 91.9h0M510.7 105.4h0M506.0 97.3h0M506.8 101.6h0M503.6 104.5h0M502.8 100.6h0M502.3 106.1h0M506.4 105.3h0M492.0 106.0h0M504.2 99.2h0M509.9 105.9h0M493.8 107.0h0M502.7 97.1h0M509.8 103.3h0M498.8 90.8h0M501.8 103.5h0M490.8 107.3h0M506.2 102.1h0M497.8 104.5h0M498.7 103.2h0M498.7 102.3h0M498.6 103.0h0M501.9 98.5h0M514.3 105.1h0M510.0 92.8h0M508.6 91.1h0M500.8 96.2h0M505.1 97.8h0M512.0 99.4h0M499.0 95.0h0M511.6 109.2h0M497.0 106.3h0M505.3 99.6h0M519.6 98.4h0M510.8 95.6h0M519.6 97.0h0M516.9 102.2h0M511.8 98.1h0M520.1 104.5h0M511.6 104.3h0M510.8 95.8h0M519.9 98.5h0M517.3 99.8h0M517.6 98.7h0M517.7 102.5h0M519.0 100.1h0M513.9 96.2h0M524.6 100.0h0M510.8 99.2h0M513.6 106.8h0M515.6 94.1h0M511.4 99.7h0M526.9 94.7h0M525.7 96.0h0M518.9 103.2h0M522.4 103.3h0M517.9 96.5h0M523.1 94.5h0M513.8 103.5h0M516.5 94.3h0M527.4 98.7h0M524.6 92.0h0M522.3 101.4h0M521.7 92.7h0M517.2 98.0h0M510.6 105.2h0M522.1 93.9h0M524.0 95.6h0M524.2 99.4h0M526.4 92.1h0M513.5 93.7h0M509.3 96.0h0M512.0 106.1h0M514.0 95.0h0M512.6 103.5h0M516.8 89.1h0M516.2 95.0h0M513.2 95.8h0M525.8 98.3h0M529.1 97.3h0M539.2 93.1h0M538.8 100.9h0M526.7 95.5h0M537.2 94.1h0M524.7 107.9h0M537.3 106.1h0M526.4 94.5h0M532.9 97.3h0M539.9 93.7h0M537.3 99.5h0M533.6 94.1h0M534.1 96.2h0M537.0 102.4h0M534.7 95.9h0M527.1 93.4h0M528.5 94.4h0M535.1 96.5h0M525.8 104.7h0M528.3 107.6h0M528.4 101.7h0M525.2 98.9h0M527.0 98.9h0M536.4 100.7h0M539.5 99.6h0M536.0 105.9h0M528.0 91.7h0M543.8 104.6h0M551.8 104.8h0M552.6 97.8h0M550.0 102.8h0M568.6 96.5h0M412.9 113.2h0M420.9 105.8h0M440.2 112.3h0M441.0 117.6h0M436.1 114.2h0M443.2 108.3h0M449.3 119.2h0M437.7 122.3h0M437.4 116.1h0M446.9 120.2h0M449.1 116.2h0M449.1 119.8h0M451.5 105.6h0M448.0 114.7h0M460.3 113.0h0M457.2 110.1h0M462.8 121.7h0M453.0 107.6h0M453.4 119.5h0M480.3 113.3h0M472.8 110.0h0M478.3 119.8h0M478.1 114.1h0M476.0 114.1h0M487.0 112.4h0M489.6 111.5h0M485.5 106.1h0M483.7 124.7h0M501.3 113.2h0M500.8 120.1h0M505.5 116.3h0M501.0 106.8h0M507.6 113.0h0M498.5 113.4h0M505.2 119.0h0M502.5 111.4h0M495.4 118.2h0M499.3 123.2h0M503.3 110.7h0M509.9 112.7h0M501.1 120.5h0M501.7 117.8h0M499.5 110.1h0M507.9 113.9h0M499.6 115.4h0M503.9 115.6h0M510.1 107.6h0M509.8 119.4h0M504.1 117.0h0M511.0 112.5h0M514.0 117.7h0M510.1 115.0h0M517.7 116.0h0M516.7 107.2h0M521.9 123.3h0M523.9 119.3h0M519.0 116.3h0M519.0 111.6h0M524.6 117.7h0M520.5 124.0h0M521.0 111.9h0M527.5 114.6h0M518.3 117.8h0M515.4 105.7h0M513.6 120.0h0M514.6 122.0h0M512.9 117.1h0M521.3 117.6h0M515.7 110.9h0M515.0 107.0h0M517.1 108.7h0M516.7 109.4h0M516.2 114.4h0M520.2 116.0h0M518.5 117.8h0M522.9 120.8h0M517.6 102.7h0M510.6 115.7h0M518.1 120.4h0M511.1 114.2h0M518.5 121.6h0M523.0 123.8h0M510.2 115.1h0M518.5 114.9h0M515.8 118.5h0M520.2 106.1h0M522.6 110.9h0M523.6 116.3h0M542.2 117.0h0M527.5 109.4h0M537.8 114.5h0M539.3 114.3h0M527.3 115.1h0M525.0 126.4h0M535.4 111.0h0M539.4 112.3h0M543.4 118.8h0M535.9 115.9h0M527.0 109.1h0M543.3 107.4h0M526.2 112.3h0M527.1 112.7h0M529.7 117.2h0M536.4 117.0h0M534.6 122.0h0M522.9 106.7h0M531.1 113.3h0M538.9 112.8h0M531.2 108.6h0M541.4 111.6h0M535.9 107.1h0M541.3 106.1h0M418.4 127.8h0M420.8 133.7h0M426.6 124.2h0M433.1 133.5h0M447.9 136.4h0M450.9 128.3h0M456.7 130.3h0M467.8 135.1h0M486.4 133.5h0M493.4 131.1h0M492.3 124.2h0M508.8 138.6h0M506.0 126.2h0M497.4 124.6h0M506.9 136.2h0M522.9 126.8h0M518.5 129.5h0M523.2 138.8h0M518.7 130.3h0M516.2 126.7h0M513.8 125.5h0M525.6 126.0h0M516.3 131.0h0M524.1 134.4h0M531.4 131.4h0M525.0 133.8h0M527.1 124.6h0M537.8 131.6h0M427.6 142.9h0M437.7 137.5h0M427.0 141.6h0M432.4 144.6h0M431.7 141.7h0M429.1 155.4h0M451.0 149.7h0M442.5 148.9h0M448.4 137.9h0M449.5 140.1h0M461.9 144.2h0M456.5 139.1h0M454.3 145.7h0M458.7 145.5h0M469.6 149.6h0M478.6 148.7h0M474.6 139.6h0M474.2 141.1h0M496.5 142.1h0M496.4 143.0h0M492.6 147.7h0M486.8 141.7h0M494.8 143.7h0M500.9 138.6h0M502.1 151.3h0M502.9 138.7h0M497.7 141.7h0M519.2 151.5h0M519.4 148.8h0M523.8 148.7h0M516.7 151.4h0M531.9 145.7h0M439.6 157.8h0M436.9 155.3h0M447.5 159.2h0M444.6 153.1h0M465.4 164.2h0M465.7 158.9h0M454.2 158.5h0M464.7 155.7h0M493.9 164.7h0M495.0 160.1h0M483.0 157.4h0M488.2 161.9h0M481.5 167.6h0M508.2 162.6h0M500.3 155.7h0M525.5 155.6h0M527.7 162.7h0M550.5 156.2h0M434.9 168.6h0M451.2 176.2h0M435.3 170.9h0M437.4 171.8h0M441.4 181.4h0M461.3 173.3h0M454.6 180.1h0M465.6 176.9h0M466.5 169.8h0M453.1 182.3h0M453.2 173.0h0M466.5 178.6h0M482.1 171.6h0M470.6 179.1h0M469.5 169.9h0M492.8 180.3h0M509.9 181.1h0M518.3 173.9h0M519.4 179.9h0M515.0 170.4h0M518.5 175.4h0M522.7 176.5h0M519.5 183.6h0M526.6 169.9h0M535.1 175.4h0M533.5 185.0h0M525.7 181.5h0M524.5 178.0h0M548.6 172.2h0M550.3 175.1h0M559.9 176.4h0M476.6 193.9h0M478.6 186.1h0M479.6 187.3h0M483.8 194.6h0M490.2 197.7h0M518.9 194.8h0M520.3 186.6h0M511.0 179.4h0M532.2 196.6h0M533.2 193.9h0M534.3 182.4h0M540.2 195.0h0M557.5 183.4h0M451.7 201.8h0M452.1 202.0h0M479.4 204.5h0M497.3 198.6h0M482.5 199.4h0M480.4 201.3h0M479.8 203.0h0" stroke="#e81500" stroke-width="1.16" stroke-linecap="round"/><path d="M503.7 73.5h0M504.3 72.9h0M502.9 76.1h0M507.8 72.6h0M511.5 74.7h0M503.7 72.5h0M504.1 76.4h0M511.3 76.2h0M513.9 78.2h0M509.9 77.1h0M510.2 73.8h0M504.0 77.9h0M514.8 74.6h0M505.9 75.3h0M512.3 72.8h0M508.7 71.8h0M503.9 77.4h0M514.5 72.7h0M507.2 71.2h0M509.0 79.2h0M510.0 71.4h0M510.6 73.7h0M504.0 77.1h0M505.6 73.9h0M524.0 88.2h0M525.6 88.8h0M521.7 89.7h0M529.5 89.2h0M524.1 86.8h0M527.2 87.0h0M530.5 88.9h0M529.0 91.4h0M527.3 88.2h0M528.8 90.7h0M529.0 91.7h0M532.0 103.5h0M533.1 103.5h0M537.7 97.9h0M531.7 96.3h0M534.1 103.4h0M530.5 96.7h0M532.6 99.3h0M532.2 98.4h0M535.7 98.1h0M533.4 100.8h0M535.6 98.0h0M535.8 97.5h0M531.0 101.8h0M524.0 110.0h0M528.3 107.5h0M530.0 111.1h0M527.1 113.2h0M520.8 104.5h0M517.4 110.8h0M526.2 108.2h0M517.0 109.4h0M522.1 112.4h0M526.4 109.2h0M528.5 114.6h0M525.2 108.2h0M520.9 104.8h0M523.8 108.0h0M527.7 115.8h0M529.8 111.4h0M519.2 108.9h0M524.3 105.9h0M526.0 113.3h0M522.9 113.0h0M526.5 110.5h0M524.5 115.9h0M525.1 110.6h0M518.0 112.4h0M519.0 111.2h0M521.8 104.9h0M521.2 108.5h0M526.9 112.3h0M503.1 102.2h0M507.9 94.5h0M505.6 102.5h0M508.7 98.0h0M505.3 94.7h0M501.5 95.0h0M502.5 99.1h0M509.3 102.8h0M504.6 95.2h0M504.5 101.7h0M503.9 102.2h0M503.5 95.5h0M505.3 99.4h0M502.1 102.7h0M501.5 95.7h0M507.7 95.9h0M502.2 95.4h0M495.2 82.1h0M495.9 81.0h0M495.2 79.9h0M492.5 79.8h0M495.2 117.3h0M495.2 123.2h0M499.5 120.0h0M500.8 120.2h0M495.2 119.3h0M494.8 119.7h0M500.2 121.2h0M498.1 120.0h0M499.5 123.1h0M499.3 122.6h0M473.1 64.6h0M473.1 60.9h0M470.1 63.0h0M471.2 65.3h0M469.6 62.3h0M467.1 60.5h0M468.4 60.4h0M476.5 61.8h0M471.8 59.2h0M470.6 62.9h0M467.9 60.9h0M507.8 37.6h0M506.4 42.3h0M508.8 47.3h0M503.6 45.2h0M499.0 42.4h0M497.6 41.8h0M501.7 45.2h0M498.2 40.8h0M498.3 41.8h0M509.0 40.6h0M503.7 50.9h0M507.3 57.6h0M504.2 56.0h0M516.6 53.9h0M506.1 51.5h0M502.4 53.3h0M504.7 58.5h0M502.6 57.0h0M505.2 52.2h0M508.5 54.8h0M508.6 55.2h0M504.3 56.5h0M505.0 57.7h0M462.6 99.1h0M471.1 104.9h0M467.3 104.7h0M462.6 106.8h0M468.6 101.3h0M466.7 99.2h0M465.4 95.3h0M462.8 107.0h0M468.4 99.9h0M461.6 100.8h0M470.3 99.2h0M465.5 105.7h0M468.3 93.6h0M471.9 104.9h0M462.7 99.9h0M450.6 113.1h0M451.1 114.6h0M447.0 114.9h0M449.9 108.4h0M449.0 116.0h0M446.6 113.1h0M450.9 117.1h0M449.0 107.7h0M448.0 107.7h0M440.6 118.8h0M442.3 120.0h0M442.0 121.6h0M439.8 121.9h0M440.8 121.5h0M439.5 116.9h0M438.0 119.9h0M442.3 119.7h0M430.4 147.3h0M417.9 137.8h0M422.3 138.0h0M460.9 165.1h0M468.3 165.5h0M458.0 163.8h0M461.2 160.8h0M460.7 166.9h0M460.9 163.8h0M459.7 158.6h0M467.0 164.0h0M453.5 165.9h0M467.3 162.3h0M459.6 176.9h0M474.4 173.1h0M469.6 173.7h0M469.5 180.4h0M464.8 180.1h0M469.2 177.6h0M462.9 173.9h0M468.0 180.8h0M469.7 173.7h0M471.0 170.3h0M470.4 173.5h0M513.2 140.9h0M521.6 144.3h0M516.9 146.8h0M519.8 139.2h0M519.6 142.7h0M512.8 136.7h0M506.6 141.5h0M517.4 138.1h0M497.7 139.3h0M510.3 143.1h0M500.3 141.6h0M505.0 144.5h0M509.3 134.0h0M513.1 141.0h0M513.4 136.1h0M517.9 146.8h0M520.7 143.0h0M496.4 135.9h0M516.1 140.9h0M520.9 124.6h0M519.8 124.8h0M523.6 121.9h0M524.6 122.4h0M521.6 120.8h0M520.0 122.0h0M519.1 123.2h0M519.6 126.0h0M521.1 121.7h0M517.9 119.9h0M521.8 126.7h0M519.9 122.6h0M518.6 116.4h0M491.5 204.5h0M494.7 202.4h0M489.1 210.2h0M494.9 211.7h0M495.3 208.5h0M492.3 205.4h0M484.9 206.5h0M493.1 204.8h0M486.2 202.8h0M491.8 200.9h0M493.4 206.8h0M535.4 189.8h0M539.6 178.8h0M529.0 181.2h0M532.2 185.1h0M534.1 187.9h0M531.7 189.6h0M529.4 187.6h0M532.1 188.3h0M535.5 187.7h0M531.9 188.7h0M532.8 179.6h0M462.1 118.8h0M459.7 118.6h0M459.0 119.7h0M462.3 116.3h0M461.4 119.0h0M479.9 192.9h0M480.4 197.2h0M480.4 183.1h0M482.8 203.8h0M480.9 189.7h0M483.6 170.9h0M484.4 179.4h0M483.2 198.6h0M483.2 172.4h0" stroke="#e81500" stroke-width="1.30" stroke-linecap="round"/><path d="M491.0 45.4h0M487.2 45.7h0M502.4 42.1h0M477.4 50.9h0M491.3 59.9h0M498.2 55.7h0M441.3 70.1h0M462.0 75.5h0M467.3 71.4h0M468.7 64.5h0M502.3 70.4h0M503.2 67.1h0M514.6 62.4h0M559.0 75.7h0M449.6 91.9h0M453.7 94.2h0M452.6 88.7h0M456.7 85.7h0M448.9 94.2h0M455.1 78.3h0M474.8 82.4h0M479.2 84.9h0M485.6 84.3h0M487.1 78.7h0M481.3 91.7h0M494.4 87.8h0M483.5 81.4h0M507.0 90.6h0M497.7 81.6h0M507.7 90.1h0M509.5 83.0h0M512.3 87.6h0M498.6 81.1h0M519.3 79.9h0M514.7 89.3h0M517.1 78.7h0M526.6 74.2h0M526.7 86.8h0M514.3 82.4h0M537.4 81.9h0M535.0 86.3h0M531.7 86.9h0M537.9 87.2h0M539.6 80.8h0M534.6 87.9h0M440.3 96.2h0M441.0 94.5h0M448.2 99.3h0M458.7 93.1h0M458.4 105.0h0M463.2 98.1h0M463.5 93.3h0M468.1 94.9h0M487.8 99.9h0M489.7 99.5h0M487.4 101.4h0M509.8 106.7h0M504.4 95.3h0M497.7 98.4h0M498.2 96.6h0M505.9 101.2h0M511.0 106.3h0M498.8 99.9h0M509.0 108.4h0M504.0 95.5h0M518.9 93.8h0M517.8 94.4h0M523.7 97.3h0M519.0 98.6h0M523.3 100.8h0M521.0 103.8h0M522.3 103.2h0M528.1 111.4h0M540.3 95.4h0M529.3 95.1h0M528.8 103.9h0M557.2 102.4h0M442.6 105.9h0M443.7 115.0h0M445.8 113.9h0M443.9 107.8h0M464.3 107.6h0M456.3 109.4h0M463.4 112.1h0M473.5 110.6h0M476.2 115.6h0M482.9 122.4h0M503.0 119.6h0M499.5 116.6h0M500.2 117.8h0M507.5 119.5h0M498.1 118.3h0M497.1 110.1h0M515.5 120.1h0M511.7 118.9h0M523.0 109.2h0M512.4 123.9h0M517.5 123.0h0M526.1 124.4h0M539.2 116.2h0M529.9 111.5h0M532.5 119.6h0M530.8 115.2h0M530.6 124.6h0M528.0 117.8h0M552.2 117.7h0M422.9 136.7h0M441.9 126.0h0M443.1 127.6h0M470.5 137.9h0M508.6 128.9h0M529.4 129.9h0M435.7 145.2h0M450.1 138.9h0M451.5 143.2h0M457.7 148.2h0M473.5 147.1h0M504.1 145.8h0M519.2 143.2h0M536.5 139.2h0M439.3 153.9h0M460.1 158.5h0M460.6 155.0h0M456.1 166.0h0M452.7 167.4h0M472.4 168.3h0M475.4 157.8h0M492.8 157.5h0M491.5 165.0h0M471.3 177.3h0M533.1 174.8h0M451.8 195.9h0M523.2 200.2h0M539.4 184.1h0M538.0 196.5h0M530.2 185.5h0M542.9 194.1h0M550.8 189.3h0M472.0 209.8h0M497.5 199.0h0" stroke="#e81500" stroke-width="1.56" stroke-linecap="round"/><path d="M512.3 78.3h0M507.1 72.0h0M504.3 73.2h0M506.1 76.0h0M509.8 71.3h0M523.2 86.4h0M524.3 93.0h0M525.0 89.7h0M527.2 90.6h0M522.1 90.0h0M534.0 98.5h0M531.9 102.6h0M539.0 100.5h0M519.8 105.0h0M526.0 105.6h0M517.9 116.3h0M527.0 106.0h0M530.0 110.1h0M527.7 109.5h0M528.3 111.5h0M525.7 106.2h0M526.1 114.6h0M520.9 117.1h0M523.9 109.4h0M525.4 105.9h0M502.2 97.6h0M504.2 102.4h0M491.9 78.6h0M496.5 116.9h0M500.2 118.0h0M469.2 58.9h0M468.4 62.3h0M467.6 59.8h0M468.3 61.8h0M503.9 51.9h0M461.5 99.5h0M470.1 94.5h0M446.4 117.7h0M451.0 112.7h0M445.5 109.5h0M437.2 120.1h0M422.4 148.0h0M419.2 144.7h0M459.7 157.3h0M457.5 170.2h0M470.2 172.9h0M466.0 170.4h0M468.8 169.4h0M498.2 141.8h0M505.1 138.1h0M523.4 118.9h0M519.4 123.5h0M517.7 116.9h0M520.3 118.9h0M517.0 125.3h0M520.3 119.5h0M518.9 115.6h0M518.1 123.9h0M491.1 201.3h0M492.6 202.1h0M483.8 210.4h0M490.1 205.3h0M496.6 210.0h0M463.0 118.8h0M463.8 117.9h0" stroke="#e81500" stroke-width="1.70" stroke-linecap="round"/><path d="M508.2 43.6h0M494.1 42.2h0M526.0 43.2h0M522.8 34.1h0M463.5 56.8h0M488.9 54.1h0M489.1 58.7h0M489.7 52.9h0M509.4 56.4h0M510.1 59.6h0M504.8 47.8h0M506.2 54.9h0M525.4 53.1h0M524.2 62.9h0M469.7 66.8h0M482.1 74.8h0M492.0 72.7h0M504.3 62.2h0M505.6 67.5h0M521.6 67.6h0M523.0 69.8h0M540.3 66.0h0M433.0 80.4h0M434.3 84.7h0M462.5 89.5h0M462.4 78.2h0M472.9 87.6h0M465.1 79.2h0M469.0 82.7h0M479.8 76.6h0M488.1 78.9h0M484.5 77.8h0M491.2 83.3h0M495.1 83.0h0M487.1 81.5h0M484.7 88.4h0M487.9 90.8h0M490.1 91.1h0M485.2 86.8h0M486.5 94.3h0M494.3 88.6h0M480.2 78.5h0M489.1 84.1h0M483.8 79.1h0M505.4 84.3h0M507.5 80.9h0M510.9 76.7h0M501.0 83.1h0M497.1 81.1h0M497.1 77.7h0M500.4 83.1h0M500.6 88.6h0M505.3 86.1h0M508.0 87.0h0M513.8 85.0h0M499.8 85.0h0M499.2 85.4h0M506.3 76.4h0M493.0 77.5h0M507.3 88.8h0M498.0 89.9h0M494.3 77.2h0M498.9 92.8h0M508.5 92.2h0M500.0 89.3h0M508.2 80.8h0M511.3 94.0h0M497.0 75.7h0M517.7 79.5h0M519.2 76.8h0M524.8 80.0h0M518.9 90.3h0M520.6 79.5h0M509.7 89.9h0M521.4 89.6h0M525.6 83.2h0M513.6 91.2h0M514.3 81.1h0M517.1 88.7h0M511.7 85.9h0M515.9 84.2h0M523.5 91.8h0M514.8 81.4h0M519.9 84.1h0M521.5 88.5h0M513.7 80.4h0M515.3 81.8h0M514.2 89.0h0M526.8 80.1h0M537.5 89.0h0M531.8 92.6h0M525.1 80.0h0M523.2 82.0h0M530.2 86.5h0M527.9 82.1h0M529.2 95.6h0M528.6 80.9h0M539.8 80.0h0M537.0 79.0h0M540.5 88.2h0M532.1 90.9h0M534.6 82.4h0M532.9 76.3h0M534.2 84.1h0M541.3 88.4h0M536.4 87.2h0M528.0 83.4h0M535.1 85.4h0M528.6 79.5h0M528.4 82.7h0M532.2 91.1h0M541.5 92.1h0M440.3 95.2h0M436.7 98.2h0M436.7 97.0h0M449.5 93.5h0M446.7 97.2h0M445.4 103.8h0M455.6 103.5h0M459.7 103.6h0M481.1 96.3h0M487.7 94.4h0M488.8 105.1h0M491.5 99.8h0M483.7 102.6h0M480.4 93.3h0M484.4 94.1h0M488.6 105.0h0M497.8 104.4h0M497.6 95.5h0M495.5 103.9h0M502.8 101.7h0M500.7 96.7h0M503.8 98.8h0M502.5 101.3h0M496.3 95.2h0M504.9 103.5h0M497.2 93.6h0M501.5 94.3h0M504.0 92.4h0M511.4 96.3h0M501.3 103.1h0M501.7 101.4h0M503.8 96.3h0M498.6 97.9h0M506.7 99.2h0M524.5 105.5h0M522.8 97.9h0M518.2 95.6h0M515.3 91.3h0M521.2 95.1h0M513.0 93.6h0M517.6 93.6h0M515.8 106.1h0M522.9 105.6h0M522.9 95.5h0M521.7 95.4h0M524.0 95.7h0M512.6 103.1h0M513.4 103.5h0M509.1 94.8h0M525.2 97.7h0M533.5 109.5h0M529.6 99.8h0M538.9 104.6h0M533.2 101.3h0M534.7 97.8h0M530.0 104.8h0M529.4 93.8h0M524.8 106.8h0M538.5 104.3h0M533.1 93.9h0M538.1 109.0h0M534.6 103.0h0M538.0 100.9h0M532.0 96.3h0M539.4 99.9h0M536.4 96.3h0M531.8 105.9h0M525.4 100.7h0M537.8 100.9h0M421.8 122.9h0M443.8 116.0h0M446.2 115.1h0M456.8 110.7h0M452.5 121.8h0M457.7 119.4h0M482.9 116.2h0M474.0 109.2h0M497.2 110.5h0M495.3 116.5h0M490.6 121.0h0M481.2 123.5h0M485.7 111.7h0M490.6 117.3h0M497.9 115.7h0M503.4 118.6h0M508.9 118.6h0M502.9 114.4h0M502.4 112.3h0M501.6 114.0h0M495.7 115.4h0M495.3 115.6h0M503.3 110.1h0M506.6 118.5h0M507.1 117.4h0M515.6 116.4h0M510.0 110.1h0M526.0 118.0h0M520.0 119.0h0M522.8 116.8h0M524.7 115.6h0M514.9 112.4h0M508.4 123.0h0M519.3 123.1h0M517.9 116.9h0M516.7 116.1h0M517.4 113.6h0M511.8 116.6h0M526.5 122.4h0M516.2 119.4h0M526.1 109.6h0M509.6 112.0h0M516.0 123.5h0M518.4 111.5h0M520.8 114.2h0M519.4 110.9h0M520.1 107.0h0M523.4 112.9h0M520.1 110.1h0M522.9 112.0h0M512.5 107.5h0M533.2 112.1h0M529.1 120.1h0M530.0 112.0h0M535.7 115.6h0M532.4 118.9h0M532.3 116.7h0M539.1 112.8h0M533.5 115.9h0M530.5 115.1h0M542.5 120.6h0M536.6 118.6h0M529.9 115.6h0M539.2 112.2h0M534.1 113.4h0M530.3 109.6h0M533.0 111.0h0M530.8 119.3h0M529.7 109.1h0M529.4 121.6h0M528.2 115.1h0M435.6 124.0h0M473.8 128.6h0M494.7 128.6h0M522.0 123.4h0M510.2 130.6h0M518.4 137.9h0M541.5 130.0h0M534.9 135.8h0M535.2 135.9h0M436.8 152.9h0M439.2 150.9h0M444.6 146.7h0M457.3 138.6h0M456.0 144.1h0M458.5 142.5h0M476.6 149.6h0M463.3 140.5h0M500.6 143.4h0M506.7 144.8h0M507.3 143.4h0M556.3 141.4h0M436.6 162.0h0M469.4 158.1h0M468.1 169.1h0M514.6 162.7h0M546.9 162.5h0M458.0 165.0h0M463.5 171.4h0M462.8 172.2h0M491.2 173.8h0M505.8 173.5h0M511.7 168.9h0M523.8 174.1h0M538.6 173.4h0M459.9 188.6h0M474.7 184.2h0M473.8 200.1h0M467.8 188.0h0M492.8 188.9h0M532.4 196.8h0M480.6 209.4h0" stroke="#a50000" stroke-width="1.16" stroke-linecap="round"/><path d="M512.8 76.2h0M512.4 72.6h0M508.7 76.2h0M510.7 73.4h0M509.3 79.0h0M507.3 75.5h0M504.1 76.3h0M510.1 77.3h0M513.8 74.1h0M505.1 72.6h0M508.4 75.6h0M509.0 78.3h0M511.5 71.4h0M511.4 72.0h0M511.2 78.8h0M506.1 75.5h0M526.0 93.0h0M526.3 87.8h0M525.0 91.4h0M525.9 88.2h0M525.3 86.0h0M525.8 90.3h0M527.9 90.3h0M528.9 92.3h0M529.7 88.3h0M529.4 97.6h0M530.9 101.5h0M533.8 100.4h0M528.4 102.0h0M532.2 100.9h0M530.1 102.2h0M536.1 96.6h0M527.9 100.8h0M539.3 98.1h0M538.1 100.5h0M527.7 98.8h0M527.5 99.5h0M535.5 100.5h0M534.2 97.4h0M535.1 102.2h0M528.1 111.9h0M525.9 113.0h0M520.8 111.7h0M521.1 105.9h0M527.1 113.3h0M516.8 114.9h0M523.6 115.8h0M523.3 111.0h0M518.9 107.7h0M522.6 111.1h0M521.2 111.8h0M523.3 107.6h0M516.2 110.1h0M529.6 108.6h0M516.9 114.3h0M527.3 115.4h0M515.4 111.6h0M529.1 113.0h0M528.9 114.6h0M525.4 112.1h0M507.4 95.7h0M511.3 99.9h0M501.0 98.7h0M510.8 99.1h0M505.8 103.8h0M505.1 97.3h0M508.8 97.1h0M507.2 101.3h0M506.9 100.4h0M496.5 82.7h0M492.9 82.7h0M496.5 80.1h0M494.4 77.6h0M495.8 79.2h0M494.7 118.6h0M492.6 120.4h0M500.4 123.2h0M500.4 122.1h0M498.1 123.3h0M498.2 122.4h0M493.9 117.3h0M471.9 60.0h0M466.1 61.6h0M468.2 60.4h0M474.1 64.0h0M472.8 65.0h0M475.1 62.8h0M497.0 40.8h0M499.9 38.3h0M513.5 61.0h0M507.4 54.4h0M515.9 56.3h0M507.4 58.8h0M465.9 106.2h0M466.0 99.4h0M464.3 95.7h0M470.7 103.4h0M471.8 102.9h0M470.9 105.5h0M469.9 107.6h0M450.4 117.2h0M445.5 112.5h0M442.0 121.3h0M443.7 117.6h0M438.1 117.9h0M445.8 120.4h0M440.2 118.6h0M443.6 116.6h0M444.6 120.4h0M446.1 117.8h0M442.0 116.5h0M440.8 116.5h0M429.6 144.9h0M468.7 164.0h0M468.5 163.7h0M458.2 171.6h0M463.3 160.9h0M461.8 160.6h0M461.4 157.6h0M455.9 166.2h0M459.8 170.4h0M470.4 170.2h0M460.3 177.6h0M463.4 180.2h0M503.6 139.0h0M502.2 143.6h0M502.7 149.5h0M508.1 146.6h0M506.8 149.7h0M509.1 132.3h0M500.5 149.5h0M495.3 140.1h0M507.9 133.1h0M494.4 144.9h0M498.8 137.2h0M506.0 149.1h0M517.5 143.1h0M513.4 145.3h0M514.7 123.0h0M520.8 117.6h0M517.8 124.4h0M519.4 117.3h0M519.3 115.4h0M519.6 118.9h0M517.3 115.8h0M515.2 120.2h0M518.8 125.9h0M521.1 116.7h0M517.8 120.6h0M485.8 204.9h0M493.7 208.5h0M489.6 206.2h0M486.8 201.8h0M534.0 190.2h0M540.1 182.3h0M461.1 116.5h0M462.3 120.5h0M461.4 116.2h0M482.2 186.4h0M480.6 178.1h0M480.9 171.4h0M483.0 192.9h0M483.3 189.6h0" stroke="#a50000" stroke-width="1.30" stroke-linecap="round"/><path d="M466.1 62.2h0M483.4 56.4h0M484.5 50.5h0M493.8 47.7h0M487.3 63.9h0M513.9 55.7h0M450.4 75.2h0M451.5 78.3h0M451.2 69.4h0M469.2 65.4h0M490.7 68.3h0M450.2 77.8h0M445.3 78.3h0M467.0 72.4h0M480.5 88.0h0M493.7 86.1h0M482.9 86.7h0M486.6 81.2h0M498.5 87.2h0M506.0 86.3h0M495.9 88.3h0M502.0 79.9h0M501.0 75.9h0M506.9 90.3h0M511.8 91.1h0M523.8 88.2h0M519.9 87.9h0M517.2 79.9h0M533.5 82.4h0M539.7 85.1h0M536.0 87.9h0M529.2 91.3h0M446.8 109.4h0M482.9 95.3h0M492.4 93.2h0M483.8 105.3h0M497.5 94.9h0M489.7 104.5h0M510.6 99.5h0M504.9 100.1h0M499.4 99.3h0M493.7 92.9h0M522.8 98.3h0M520.7 103.5h0M520.5 100.6h0M511.9 96.4h0M513.9 105.7h0M510.2 96.1h0M531.6 91.8h0M530.3 106.8h0M529.1 101.7h0M527.1 98.1h0M543.1 97.7h0M473.2 121.0h0M495.5 109.6h0M493.3 121.5h0M504.0 108.8h0M497.1 106.4h0M493.8 119.1h0M492.9 116.9h0M503.7 116.1h0M507.7 113.7h0M519.3 111.3h0M513.7 114.4h0M520.5 110.1h0M522.3 117.9h0M512.6 115.2h0M515.2 116.0h0M512.6 117.0h0M517.0 115.9h0M515.5 112.7h0M522.4 108.3h0M530.7 123.8h0M532.7 112.1h0M532.0 115.0h0M544.4 122.3h0M533.5 123.7h0M535.4 116.0h0M433.5 127.9h0M529.5 132.7h0M531.2 135.4h0M444.6 147.1h0M497.6 148.7h0M488.9 169.8h0M500.3 173.4h0M523.7 182.3h0" stroke="#a50000" stroke-width="1.56" stroke-linecap="round"/><path d="M509.5 72.5h0M508.5 70.6h0M528.8 89.4h0M522.7 90.0h0M531.8 100.3h0M538.9 102.4h0M532.4 97.3h0M537.2 100.5h0M532.7 98.3h0M529.6 113.2h0M519.7 104.8h0M516.5 108.0h0M519.6 115.8h0M518.7 113.6h0M526.7 109.6h0M525.6 116.1h0M524.8 107.5h0M514.6 111.4h0M515.8 113.0h0M501.8 97.0h0M501.9 101.8h0M493.1 79.7h0M494.3 83.3h0M495.7 120.9h0M469.3 58.9h0M474.2 61.4h0M510.5 41.3h0M511.8 45.7h0M503.2 56.7h0M467.5 95.7h0M470.4 103.8h0M462.5 103.0h0M463.7 97.9h0M461.9 102.5h0M451.1 116.6h0M451.1 116.5h0M448.7 117.7h0M437.6 120.1h0M428.1 145.3h0M463.2 169.8h0M465.5 170.9h0M465.9 172.2h0M466.2 170.0h0M502.5 142.5h0M492.8 145.4h0M492.4 144.2h0M518.0 141.3h0M518.5 120.0h0M515.8 124.5h0M525.0 119.6h0M520.2 125.0h0M489.0 208.6h0M531.5 189.6h0M529.7 184.2h0M535.4 181.0h0M461.8 118.8h0M479.8 192.3h0M482.1 203.3h0" stroke="#a50000" stroke-width="1.70" stroke-linecap="round"/><line x1="480.8" y1="32.5" x2="480.8" y2="212.5" stroke="#80208f" stroke-width="1.6"/><line x1="390.5" y1="131.6" x2="571.5" y2="131.6" stroke="#80208f" stroke-width="1.6"/></g><g clip-path="url(#c363d)"><path d="M616.1 47.7h0M622.7 38.3h0M628.2 35.6h0M615.7 53.0h0M611.7 52.9h0M609.8 54.0h0M612.5 61.5h0M614.0 55.6h0M610.9 57.3h0M623.9 49.1h0M628.1 57.2h0M623.8 49.5h0M638.0 52.8h0M634.8 57.6h0M633.9 52.9h0M642.3 50.6h0M651.2 51.2h0M601.8 70.9h0M611.5 74.3h0M619.9 71.3h0M616.7 70.8h0M620.1 74.5h0M623.2 68.7h0M623.8 72.8h0M634.6 69.4h0M633.5 71.2h0M635.0 70.9h0M647.2 72.2h0M642.7 76.2h0M610.2 78.0h0M616.8 83.9h0M628.1 80.6h0M620.1 90.8h0M628.9 84.7h0M621.3 88.4h0M622.7 79.7h0M629.7 85.4h0M634.0 76.9h0M633.3 86.0h0M638.7 82.4h0M639.4 84.9h0M616.3 106.0h0M618.6 100.3h0M613.5 103.3h0M622.8 94.1h0M626.7 108.2h0M624.8 97.0h0M625.7 98.0h0M628.8 92.3h0M649.0 101.2h0M641.1 104.0h0M641.4 103.2h0M616.9 109.5h0M609.9 114.3h0M625.0 117.3h0M621.4 120.0h0M620.6 115.6h0M622.1 121.5h0M634.3 110.6h0M635.1 118.0h0M635.2 115.5h0M643.0 121.7h0M613.9 122.0h0M613.7 130.7h0M632.6 124.5h0M633.7 128.3h0M632.8 126.7h0M639.0 134.0h0M641.1 128.6h0M643.7 130.2h0M644.6 128.9h0M628.7 136.0h0M634.1 141.1h0M645.3 145.1h0M640.8 145.0h0M648.9 150.1h0M650.1 148.6h0M643.9 153.6h0M620.6 163.1h0M629.6 163.4h0M635.2 160.4h0M631.2 155.5h0M637.0 160.5h0M636.2 160.7h0M639.5 164.3h0M648.1 166.2h0M639.0 154.7h0M642.7 168.1h0M648.9 159.4h0M643.2 154.4h0M641.9 160.7h0M649.5 156.2h0M656.8 156.2h0M650.4 155.6h0M604.8 171.9h0M629.1 176.2h0M625.9 167.6h0M626.0 178.4h0M635.3 171.0h0M636.3 179.3h0M631.6 177.6h0M648.1 176.7h0M657.4 170.7h0M608.0 191.9h0M613.8 193.6h0M611.1 197.4h0M614.3 191.4h0M628.2 194.7h0M624.8 199.1h0M629.9 188.8h0M626.0 183.8h0M636.6 189.1h0M634.4 183.6h0M638.8 181.6h0M616.1 211.1h0M615.6 212.4h0M614.9 207.1h0M628.7 205.1h0M623.9 208.7h0M638.3 199.1h0M635.7 209.8h0M631.6 201.9h0M631.0 201.3h0M641.2 196.0h0" stroke="#55ffc8" stroke-width="1.16" stroke-linecap="round"/><path d="M624.4 51.4h0M639.5 50.1h0M628.1 54.4h0M636.6 41.1h0M635.6 48.1h0M637.3 46.2h0M635.8 52.1h0M625.4 47.1h0M624.0 49.6h0M636.7 54.2h0M632.7 54.0h0M638.3 58.1h0M628.7 44.0h0M631.6 54.7h0M637.8 43.1h0M636.5 48.3h0M645.0 75.8h0M645.6 87.2h0M649.9 79.6h0M648.8 83.0h0M647.7 78.4h0M640.1 77.3h0M646.3 80.9h0M636.1 180.0h0M645.3 169.2h0M649.8 172.9h0M634.2 169.1h0M647.5 175.0h0M647.0 168.6h0M649.3 171.1h0M644.8 178.2h0M650.5 168.7h0M638.4 128.2h0M633.4 126.4h0M638.9 132.9h0M634.2 132.0h0M637.0 131.2h0M636.4 122.6h0M630.0 124.6h0M638.3 130.5h0M642.9 127.4h0" stroke="#55ffc8" stroke-width="1.30" stroke-linecap="round"/><path d="M612.6 45.6h0M635.0 42.5h0M603.5 55.0h0M624.4 58.4h0M629.8 59.0h0M636.2 55.3h0M645.8 51.0h0M615.5 68.7h0M611.3 62.4h0M610.8 71.5h0M642.5 77.7h0M619.9 88.6h0M623.0 92.6h0M629.5 94.9h0M615.1 119.3h0M614.1 108.5h0M630.5 118.5h0M645.6 115.3h0M649.4 107.5h0M611.3 131.1h0M635.3 136.5h0M644.7 126.8h0M643.8 141.6h0M621.4 155.9h0M637.6 153.2h0M649.0 157.9h0M612.3 180.7h0M619.7 171.1h0M634.2 178.9h0M636.1 190.8h0M646.4 204.4h0" stroke="#55ffc8" stroke-width="1.56" stroke-linecap="round"/><path d="M627.7 43.2h0M645.2 53.6h0M638.9 87.9h0M646.7 89.3h0M641.2 89.5h0M641.0 84.4h0M646.2 163.6h0M643.0 158.6h0M640.3 169.3h0" stroke="#55ffc8" stroke-width="1.70" stroke-linecap="round"/><path d="M604.6 39.3h0M603.5 49.4h0M631.2 45.1h0M630.2 44.5h0M641.8 37.0h0M640.6 34.3h0M641.0 44.0h0M605.3 53.7h0M605.6 55.9h0M602.8 55.2h0M604.2 53.6h0M612.2 48.7h0M629.7 53.5h0M623.7 47.7h0M621.9 60.7h0M628.2 52.3h0M635.6 49.5h0M630.2 59.6h0M636.0 62.5h0M634.5 45.2h0M642.3 50.7h0M641.2 58.1h0M647.0 51.5h0M645.3 56.8h0M643.7 54.1h0M645.6 60.1h0M639.2 59.7h0M642.5 49.0h0M642.0 59.8h0M603.7 65.1h0M613.9 71.2h0M614.8 70.3h0M627.3 61.4h0M620.2 62.1h0M625.5 75.0h0M623.7 64.3h0M625.2 70.8h0M638.1 62.0h0M630.7 65.7h0M633.7 75.0h0M633.9 73.3h0M632.3 64.3h0M636.2 76.3h0M648.4 75.1h0M644.7 66.3h0M648.1 63.5h0M643.1 70.3h0M652.3 78.1h0M602.0 81.7h0M603.6 76.3h0M610.7 93.2h0M612.6 78.7h0M620.0 88.2h0M616.1 87.0h0M627.7 83.1h0M623.7 89.8h0M641.9 88.2h0M634.0 88.7h0M632.8 75.3h0M632.0 81.4h0M630.6 86.2h0M647.1 87.7h0M642.2 81.2h0M641.5 84.3h0M643.2 79.1h0M646.5 91.4h0M647.0 83.3h0M615.1 94.2h0M610.6 95.8h0M623.9 94.3h0M631.4 106.8h0M621.1 101.4h0M627.4 102.4h0M630.4 94.6h0M638.3 98.0h0M639.5 106.1h0M630.2 109.5h0M637.6 103.8h0M630.5 104.6h0M631.8 93.5h0M637.1 101.1h0M635.0 89.9h0M632.2 95.5h0M634.7 103.3h0M644.8 101.1h0M639.8 94.1h0M649.0 99.8h0M643.9 97.1h0M639.9 95.2h0M611.4 120.2h0M622.1 112.1h0M620.0 119.4h0M632.2 119.0h0M632.1 107.8h0M633.6 112.6h0M630.7 116.4h0M632.9 118.7h0M633.6 108.1h0M636.5 113.8h0M633.3 120.4h0M639.3 109.8h0M643.1 108.3h0M600.6 126.1h0M618.5 136.8h0M618.9 124.2h0M626.6 130.8h0M628.1 123.9h0M635.7 131.9h0M631.9 139.5h0M629.9 134.2h0M635.7 140.1h0M647.0 132.0h0M648.2 129.7h0M646.1 124.1h0M642.5 130.4h0M642.1 134.7h0M652.6 130.1h0M621.6 150.9h0M635.3 149.2h0M637.1 139.2h0M632.8 143.2h0M632.9 140.3h0M633.0 152.0h0M629.9 140.4h0M641.2 144.9h0M645.5 150.0h0M616.8 166.1h0M634.7 162.8h0M633.6 155.0h0M644.4 160.6h0M602.6 175.9h0M613.4 176.7h0M617.4 179.1h0M611.7 176.1h0M627.0 168.8h0M638.0 173.2h0M632.5 177.2h0M635.5 171.8h0M638.7 179.8h0M632.6 175.1h0M635.0 173.3h0M643.6 168.1h0M642.5 181.5h0M640.7 172.3h0M648.0 180.2h0M650.6 175.6h0M606.7 188.5h0M611.7 194.2h0M611.6 191.7h0M629.9 193.4h0M632.6 191.8h0M628.9 189.0h0M636.3 184.0h0M637.6 194.4h0M632.9 193.4h0M635.4 194.9h0M638.4 191.9h0M646.3 188.4h0M649.3 189.6h0M641.8 185.7h0M604.6 203.5h0M624.0 196.1h0M627.9 198.0h0M627.2 208.4h0M633.1 200.3h0M639.6 205.4h0M634.8 211.8h0M631.1 209.2h0" stroke="#80ff80" stroke-width="1.16" stroke-linecap="round"/><path d="M621.3 53.6h0M631.6 76.9h0M629.8 106.6h0M643.6 102.5h0M635.9 108.6h0M635.3 103.1h0M637.8 109.5h0M618.5 88.5h0M615.6 91.6h0M615.3 92.2h0M626.9 55.0h0M640.8 51.1h0M629.6 54.0h0M633.2 56.6h0M638.4 44.4h0M633.1 42.6h0M626.0 48.2h0M625.6 52.6h0M631.4 53.7h0M631.0 48.9h0M640.6 56.5h0M629.6 53.1h0M629.8 54.4h0M637.2 44.0h0M636.1 47.0h0M623.9 49.7h0M638.6 79.7h0M644.8 77.0h0M650.8 81.0h0M643.8 79.9h0M648.6 85.4h0M650.7 85.1h0M633.4 138.4h0M634.8 176.9h0M644.7 176.6h0M638.1 180.6h0M647.3 177.6h0M641.8 160.1h0M636.6 175.2h0M636.9 162.4h0M644.3 163.6h0M640.5 171.0h0M642.9 171.2h0M637.9 171.6h0M640.9 176.8h0M640.9 158.8h0M647.2 168.7h0M638.0 179.0h0M634.4 164.4h0M635.4 123.9h0M631.3 122.8h0M641.0 124.7h0M640.5 123.8h0" stroke="#80ff80" stroke-width="1.30" stroke-linecap="round"/><path d="M608.6 53.9h0M636.7 54.5h0M646.1 57.0h0M635.3 85.3h0M616.6 95.8h0M623.9 95.7h0M632.1 95.0h0M638.7 100.7h0M630.7 104.0h0M650.7 101.1h0M637.3 110.5h0M637.9 120.6h0M642.1 118.1h0M621.3 122.7h0M619.6 152.3h0M636.0 140.1h0M632.7 153.5h0M648.5 140.6h0M631.5 156.9h0M650.5 157.5h0M601.4 175.5h0M616.3 171.3h0M635.5 180.5h0M637.7 179.6h0M641.8 179.9h0M645.0 171.0h0M644.7 172.9h0M617.7 183.7h0M628.0 189.6h0M634.1 184.8h0M629.0 188.4h0M636.6 186.4h0M650.1 197.2h0M605.3 213.1h0M611.6 207.6h0M611.5 209.6h0M609.9 210.0h0M633.9 198.2h0M632.7 204.1h0M649.5 207.1h0" stroke="#80ff80" stroke-width="1.56" stroke-linecap="round"/><path d="M625.8 63.7h0M632.7 54.8h0M635.2 45.7h0M635.6 42.4h0M640.1 78.9h0M641.9 80.8h0M642.4 168.1h0M649.5 174.3h0M649.9 172.5h0M643.2 132.7h0M642.1 130.1h0" stroke="#80ff80" stroke-width="1.70" stroke-linecap="round"/><path d="M620.7 38.8h0M623.0 43.8h0M635.6 45.0h0M606.6 52.9h0M619.0 62.8h0M612.5 62.2h0M612.0 60.4h0M613.9 51.8h0M618.8 51.5h0M609.4 56.9h0M625.9 52.7h0M623.7 50.1h0M619.7 60.8h0M631.4 54.5h0M632.6 53.4h0M637.4 57.9h0M642.6 57.6h0M644.4 54.5h0M652.6 55.8h0M607.7 69.6h0M610.7 79.1h0M618.0 75.2h0M618.2 67.8h0M617.9 77.7h0M621.1 67.0h0M627.0 64.6h0M623.5 71.2h0M628.6 67.0h0M641.2 77.0h0M646.9 64.7h0M610.8 89.3h0M620.2 82.6h0M625.7 81.8h0M622.5 89.2h0M628.4 93.0h0M633.9 91.1h0M636.2 80.8h0M636.5 85.6h0M630.2 80.1h0M638.7 84.6h0M629.3 81.4h0M648.7 81.6h0M647.9 83.5h0M645.8 91.5h0M641.4 79.6h0M644.3 90.0h0M655.7 81.6h0M604.3 103.0h0M619.7 99.9h0M612.4 97.4h0M612.9 104.3h0M626.9 104.3h0M619.2 100.6h0M621.3 91.9h0M632.0 104.4h0M638.3 93.1h0M638.8 97.5h0M631.5 92.8h0M629.9 102.0h0M629.7 97.1h0M637.1 99.4h0M647.9 101.1h0M647.8 99.6h0M644.8 105.9h0M644.2 96.6h0M620.2 109.4h0M625.2 115.2h0M629.8 107.7h0M631.2 119.8h0M638.4 108.6h0M633.8 116.5h0M648.4 120.9h0M644.7 122.5h0M647.5 113.9h0M618.4 131.6h0M617.9 121.2h0M624.3 127.8h0M627.1 132.2h0M637.0 124.3h0M637.3 130.5h0M645.8 132.7h0M648.0 138.6h0M643.3 137.1h0M626.2 145.8h0M636.7 144.5h0M633.8 145.1h0M599.0 169.3h0M613.2 164.3h0M615.5 159.2h0M637.7 163.3h0M643.8 152.5h0M651.9 156.2h0M606.5 167.3h0M614.0 178.2h0M615.4 174.3h0M611.6 179.9h0M623.8 174.3h0M634.4 171.3h0M633.4 171.2h0M638.9 169.7h0M644.1 178.3h0M651.0 168.6h0M641.9 178.8h0M639.5 170.2h0M659.1 180.2h0M612.2 180.5h0M612.0 193.2h0M630.2 182.0h0M627.0 185.6h0M630.2 192.3h0M644.4 182.6h0M649.8 183.0h0M640.6 181.8h0M609.1 195.2h0M605.6 209.6h0M605.6 210.6h0M607.5 210.5h0M614.6 203.4h0M619.1 212.1h0M625.0 200.5h0M628.1 207.2h0M630.3 208.1h0M632.8 207.6h0M646.6 206.7h0M648.9 214.9h0" stroke="#f2e600" stroke-width="1.16" stroke-linecap="round"/><path d="M630.2 78.5h0M629.1 79.6h0M640.9 61.2h0M641.1 98.0h0M635.1 107.8h0M626.9 102.7h0M639.5 99.6h0M642.9 105.0h0M634.8 99.8h0M631.0 109.7h0M620.2 88.9h0M618.6 84.9h0M616.9 86.7h0M620.1 84.8h0M618.0 107.1h0M615.3 110.4h0M615.0 108.1h0M631.7 42.2h0M640.7 50.8h0M639.7 49.7h0M625.6 44.9h0M627.4 49.6h0M636.9 56.0h0M631.2 46.8h0M636.1 54.0h0M643.7 88.4h0M648.3 85.8h0M641.9 88.3h0M609.9 53.5h0M610.6 56.7h0M630.6 137.1h0M630.4 145.1h0M637.9 174.4h0M645.7 165.2h0M643.6 173.7h0M644.0 167.5h0M642.9 171.5h0M635.6 174.3h0M636.2 191.8h0M635.7 193.0h0M636.7 198.9h0M638.9 191.3h0M635.9 194.1h0M608.2 167.6h0M611.0 163.0h0M616.0 165.6h0M609.3 174.8h0M609.8 160.5h0M611.8 163.4h0M614.2 172.9h0M638.4 119.9h0M640.8 132.1h0M637.6 122.6h0M647.9 126.0h0M641.8 120.3h0M633.8 132.9h0M616.9 125.8h0M612.9 124.0h0M614.2 125.8h0M622.4 121.6h0M620.6 124.3h0M611.6 124.5h0M611.2 124.8h0" stroke="#f2e600" stroke-width="1.30" stroke-linecap="round"/><path d="M604.6 48.6h0M601.3 74.0h0M619.5 90.6h0M636.1 78.4h0M615.5 95.5h0M624.1 102.2h0M646.5 102.3h0M630.3 132.3h0M639.9 131.8h0M600.4 162.6h0M638.5 157.3h0M637.2 164.5h0M637.0 174.5h0M646.1 178.7h0M608.5 191.3h0M625.3 193.9h0M624.5 194.3h0M631.4 192.0h0M601.2 207.3h0M603.8 213.7h0" stroke="#f2e600" stroke-width="1.56" stroke-linecap="round"/><path d="M624.2 63.8h0M644.1 64.2h0M638.5 102.1h0M640.6 99.0h0M614.5 115.4h0M629.3 54.8h0M631.6 43.0h0M631.2 50.2h0M649.7 174.9h0M640.0 180.0h0M643.3 168.4h0M642.3 168.0h0M641.3 157.8h0M643.8 171.4h0M634.7 171.8h0M635.7 192.6h0M633.4 189.0h0M635.3 126.7h0M637.3 128.2h0M620.3 120.3h0" stroke="#f2e600" stroke-width="1.70" stroke-linecap="round"/><path d="M616.8 31.3h0M614.8 50.7h0M624.2 59.3h0M630.0 59.8h0M631.3 61.9h0M631.7 61.5h0M641.3 61.2h0M643.6 48.5h0M615.5 71.6h0M627.8 65.8h0M631.2 67.0h0M632.5 68.2h0M640.7 63.5h0M639.8 70.1h0M641.9 75.3h0M609.4 81.3h0M612.7 76.9h0M615.0 84.3h0M617.9 86.1h0M630.5 87.9h0M620.6 77.3h0M624.8 82.0h0M626.7 81.1h0M639.6 98.2h0M637.8 105.5h0M638.2 109.7h0M642.3 103.5h0M648.4 96.5h0M603.6 123.4h0M613.8 111.2h0M621.9 113.3h0M624.8 109.5h0M642.2 120.8h0M614.2 123.6h0M639.4 121.3h0M644.1 129.0h0M642.2 141.6h0M652.3 145.3h0M613.5 164.0h0M633.4 160.9h0M631.9 152.5h0M640.6 156.4h0M641.7 158.4h0M622.1 178.7h0M624.4 168.4h0M632.4 175.6h0M643.9 171.7h0M601.8 190.9h0M606.0 184.9h0M616.4 196.1h0M634.1 188.8h0M642.1 190.1h0M617.1 210.1h0M620.7 201.1h0M620.9 211.2h0M620.4 203.8h0M631.9 200.3h0" stroke="#ff8a00" stroke-width="1.16" stroke-linecap="round"/><path d="M622.4 62.4h0M628.2 58.6h0M628.2 57.2h0M630.3 76.4h0M627.6 78.0h0M632.4 74.2h0M627.8 81.6h0M627.4 78.7h0M630.8 78.1h0M629.0 75.4h0M644.4 60.6h0M630.4 102.7h0M629.1 107.7h0M630.4 97.2h0M632.5 93.6h0M632.2 106.2h0M642.2 105.6h0M629.5 100.5h0M630.8 99.4h0M635.3 108.7h0M643.3 101.0h0M638.7 107.9h0M638.1 105.6h0M616.4 88.1h0M613.5 88.2h0M620.2 89.7h0M618.1 85.3h0M617.6 87.4h0M613.6 107.3h0M615.2 106.7h0M620.2 110.4h0M616.6 105.7h0M615.7 115.0h0M634.1 54.2h0M633.3 58.8h0M639.1 57.1h0M637.8 53.8h0M633.0 44.6h0M639.4 82.6h0M650.9 82.2h0M640.7 82.7h0M645.4 88.8h0M646.2 77.8h0M642.0 89.8h0M610.4 52.9h0M612.2 60.0h0M610.5 52.9h0M612.2 52.9h0M631.0 140.4h0M633.5 139.4h0M631.9 137.5h0M630.4 143.6h0M633.2 136.6h0M628.9 135.9h0M633.6 162.7h0M636.2 159.3h0M644.3 176.3h0M640.6 178.1h0M641.5 170.0h0M641.6 165.0h0M633.6 162.3h0M632.1 165.0h0M638.7 167.7h0M640.8 165.1h0M644.5 175.2h0M642.2 174.4h0M639.2 177.2h0M642.3 177.8h0M641.8 177.5h0M635.5 189.0h0M632.9 193.8h0M635.3 191.1h0M635.6 194.2h0M612.2 167.3h0M603.1 210.0h0M637.1 129.2h0" stroke="#ff8a00" stroke-width="1.30" stroke-linecap="round"/><path d="M637.7 32.8h0M603.9 63.2h0M647.2 69.2h0M638.6 82.5h0M623.0 105.6h0M636.0 107.3h0M615.6 113.0h0M631.3 111.0h0M647.7 156.7h0M626.7 183.3h0M639.8 189.0h0M648.3 184.7h0M614.5 208.5h0M619.5 198.4h0M634.7 211.0h0" stroke="#ff8a00" stroke-width="1.56" stroke-linecap="round"/><path d="M620.6 61.1h0M625.8 54.9h0M647.3 62.3h0M635.9 95.8h0M641.2 96.0h0M635.9 109.2h0M614.7 86.4h0M639.3 80.2h0M645.6 78.5h0M634.1 167.4h0M647.9 161.0h0M629.8 190.4h0M636.3 199.7h0M641.9 122.1h0" stroke="#ff8a00" stroke-width="1.70" stroke-linecap="round"/><path d="M626.0 44.7h0M631.5 44.7h0M642.2 42.4h0M600.3 48.7h0M618.6 58.4h0M613.1 47.2h0M623.5 56.0h0M606.3 69.0h0M605.1 66.1h0M634.1 66.8h0M637.6 66.6h0M599.6 81.4h0M610.2 91.7h0M630.1 90.6h0M627.3 86.4h0M629.0 97.5h0M633.1 92.3h0M643.1 95.8h0M640.7 105.2h0M622.4 117.1h0M639.0 116.5h0M641.8 109.6h0M618.8 130.1h0M638.1 137.0h0M635.6 130.0h0M633.5 132.3h0M643.2 131.0h0M627.0 149.7h0M641.5 146.8h0M624.5 155.2h0M636.6 156.3h0M634.3 157.0h0M637.0 165.3h0M647.4 161.5h0M619.5 172.7h0M637.5 176.0h0M632.9 177.6h0M648.6 181.3h0M643.3 171.4h0M642.6 183.7h0M643.5 174.5h0M629.8 197.7h0M634.8 194.6h0M618.5 197.5h0M627.3 211.3h0M638.8 208.7h0" stroke="#e81500" stroke-width="1.16" stroke-linecap="round"/><path d="M622.8 59.7h0M624.9 53.4h0M624.8 64.4h0M626.4 52.9h0M622.5 60.8h0M626.0 53.0h0M622.2 55.3h0M627.8 55.7h0M620.1 58.5h0M622.4 53.9h0M626.1 55.8h0M630.2 77.8h0M631.6 75.2h0M630.0 77.7h0M632.1 75.5h0M630.8 80.1h0M642.0 61.1h0M641.0 65.0h0M646.7 60.8h0M639.4 61.6h0M628.7 99.5h0M626.3 101.4h0M632.5 96.7h0M634.9 108.7h0M636.9 94.4h0M638.3 101.7h0M643.0 104.1h0M633.8 102.8h0M642.0 97.7h0M633.7 104.7h0M631.3 97.5h0M635.0 97.2h0M634.7 94.8h0M637.6 98.0h0M639.9 105.0h0M627.7 99.0h0M637.1 98.9h0M627.5 107.0h0M631.5 110.4h0M637.2 105.2h0M640.9 105.5h0M630.7 106.6h0M635.7 106.1h0M642.8 97.9h0M631.3 108.8h0M640.7 104.2h0M613.9 86.9h0M612.7 114.8h0M617.2 106.9h0M617.9 118.6h0M612.8 108.5h0M616.2 105.5h0M619.0 111.4h0M617.5 119.6h0M616.9 111.7h0M613.7 110.7h0M614.9 111.8h0M612.2 110.2h0M627.7 49.2h0M644.6 49.5h0M636.5 43.2h0M638.6 52.3h0M638.1 51.5h0M639.3 82.9h0M649.2 87.9h0M649.1 78.9h0M646.2 86.1h0M648.4 77.8h0M610.7 55.7h0M606.1 59.9h0M612.1 56.5h0M607.6 51.1h0M606.3 57.6h0M612.3 64.9h0M631.9 144.0h0M629.8 145.0h0M630.4 140.3h0M630.7 142.1h0M630.6 139.1h0M629.3 134.4h0M630.3 137.9h0M638.8 158.8h0M639.3 168.7h0M638.8 161.8h0M638.2 162.6h0M644.0 165.5h0M642.1 179.0h0M640.9 170.0h0M635.5 179.5h0M637.8 167.0h0M634.2 170.0h0M639.8 177.0h0M645.3 169.5h0M636.7 166.1h0M639.3 175.1h0M636.0 168.1h0M644.2 165.5h0M630.9 193.6h0M630.5 198.4h0M638.8 193.7h0M632.2 196.3h0M632.8 188.8h0M631.9 195.3h0M635.1 199.7h0M630.4 188.6h0M636.6 190.0h0M638.6 192.2h0M629.7 197.0h0M607.3 164.8h0M612.4 171.7h0M615.4 167.6h0M602.2 208.9h0M601.5 206.0h0M602.3 206.4h0M600.6 207.0h0M632.8 132.6h0M643.0 120.7h0M648.0 126.2h0M617.1 124.5h0M617.4 122.5h0" stroke="#e81500" stroke-width="1.30" stroke-linecap="round"/><path d="M600.6 55.3h0M633.0 54.5h0M605.9 74.5h0M655.4 67.0h0M604.3 81.0h0M623.8 106.3h0M642.2 101.3h0M612.6 120.9h0M638.3 152.6h0M641.3 152.4h0M613.2 176.8h0M634.1 178.4h0M649.1 170.9h0M637.3 193.0h0" stroke="#e81500" stroke-width="1.56" stroke-linecap="round"/><path d="M625.3 63.6h0M626.0 54.8h0M620.9 58.1h0M633.2 77.0h0M644.6 65.4h0M645.3 63.4h0M627.2 98.9h0M641.4 102.7h0M620.0 84.8h0M618.1 112.2h0M627.5 44.9h0M635.4 41.9h0M631.6 144.2h0M634.0 138.8h0M632.8 142.8h0M636.6 176.9h0M643.8 172.7h0M643.5 165.0h0M638.5 159.6h0M633.2 175.0h0M645.7 176.1h0M637.9 170.8h0M640.6 172.7h0M638.8 176.7h0M643.1 172.0h0M633.6 191.0h0M613.2 172.0h0M633.8 132.2h0M640.7 130.9h0" stroke="#e81500" stroke-width="1.70" stroke-linecap="round"/><path d="M620.8 43.0h0M633.1 37.7h0M625.9 51.0h0M634.6 50.1h0M628.3 80.6h0M634.2 89.5h0M646.1 89.9h0M620.7 102.1h0M629.6 101.4h0M650.0 104.3h0M613.2 114.3h0M609.5 108.2h0M630.6 108.9h0M620.0 128.9h0M642.8 137.4h0M611.9 149.5h0M648.3 167.0h0M639.6 154.4h0M644.7 163.7h0M628.6 180.3h0M643.0 177.5h0M633.3 195.3h0M635.7 207.9h0" stroke="#a50000" stroke-width="1.16" stroke-linecap="round"/><path d="M620.1 55.3h0M623.0 54.7h0M624.3 61.7h0M623.8 56.1h0M627.4 54.8h0M627.0 60.5h0M630.9 72.7h0M629.1 73.5h0M627.9 75.4h0M631.9 75.8h0M630.9 82.3h0M628.6 72.0h0M641.2 62.5h0M646.9 63.3h0M640.8 64.4h0M643.9 61.2h0M640.3 63.8h0M636.5 96.7h0M632.6 99.9h0M628.6 103.8h0M628.3 105.1h0M639.8 108.8h0M638.4 103.5h0M641.7 101.2h0M633.8 110.3h0M628.2 96.9h0M638.9 104.1h0M630.6 95.9h0M633.5 94.8h0M640.8 102.1h0M642.6 103.1h0M636.2 99.1h0M632.6 104.1h0M638.8 98.6h0M642.3 100.9h0M628.7 108.4h0M628.1 105.3h0M616.2 89.7h0M617.3 90.9h0M618.8 92.4h0M619.6 115.6h0M611.7 64.3h0M609.9 53.5h0M630.3 139.4h0M629.7 137.4h0M638.4 178.7h0M634.0 163.0h0M632.8 167.8h0M641.2 168.0h0M638.5 169.8h0M641.7 170.1h0M640.4 177.4h0M637.6 171.6h0M636.6 195.1h0M602.4 206.4h0M602.2 209.0h0" stroke="#a50000" stroke-width="1.30" stroke-linecap="round"/><path d="M610.9 90.5h0M644.1 89.1h0M623.4 103.7h0M643.5 99.9h0M638.3 119.4h0M644.9 158.9h0M645.1 176.1h0" stroke="#a50000" stroke-width="1.56" stroke-linecap="round"/><path d="M641.8 62.9h0M640.4 107.5h0M630.4 94.4h0M630.9 96.3h0M630.4 138.5h0M642.2 159.0h0M642.2 162.5h0M640.5 175.3h0M633.5 173.3h0M641.3 164.6h0M634.5 197.7h0M632.6 196.1h0M600.3 206.8h0" stroke="#a50000" stroke-width="1.70" stroke-linecap="round"/><polyline points="620.3,32.0 620.7,60.0 621.0,88.0 620.2,106.0 618.9,125.0 618.5,137.0 618.6,145.5 619.2,151.5 620.4,158.3 621.4,167.0 622.4,176.3 623.4,185.0 624.2,194.2 624.9,203.0 625.5,213.0" fill="none" stroke="#111" stroke-width="1.6" stroke-linejoin="round"/></g><g clip-path="url(#c363z)"><path d="M421.9 254.3h0M438.5 268.8h0M408.7 292.4h0M420.8 291.0h0" stroke="#55ffc8" stroke-width="1.16" stroke-linecap="round"/><path d="M432.6 260.2h0M474.8 281.9h0M472.1 282.6h0M479.4 276.3h0M480.2 282.9h0M476.4 282.7h0M442.1 298.5h0M444.9 298.8h0M456.1 286.2h0M457.4 289.4h0M446.4 292.2h0M425.4 293.8h0M441.9 289.9h0M452.2 295.6h0M456.5 296.0h0M510.7 272.4h0M539.8 253.9h0M530.0 264.5h0M528.8 266.7h0M518.3 268.4h0M538.7 255.5h0M517.2 273.8h0M519.3 272.2h0M523.3 269.5h0M504.4 282.0h0M505.0 288.2h0M516.5 282.5h0M506.6 282.0h0M517.1 280.4h0M523.9 286.1h0M485.1 276.9h0M496.4 280.5h0M480.7 283.5h0M476.9 281.6h0M497.2 288.0h0M543.3 277.5h0M523.1 281.7h0M525.5 284.5h0M541.5 284.7h0M524.2 268.8h0M544.6 282.2h0M479.7 276.3h0M521.7 289.3h0M492.8 287.2h0M518.5 281.1h0M521.4 279.0h0M537.0 256.9h0M545.3 275.1h0M538.1 273.7h0M484.0 283.1h0M488.9 286.2h0M482.7 288.1h0M483.1 285.3h0" stroke="#55ffc8" stroke-width="1.30" stroke-linecap="round"/><path d="M469.8 282.3h0M474.6 279.1h0M447.9 289.3h0M437.6 285.5h0M440.7 284.8h0M521.5 266.0h0M510.9 264.1h0M485.6 278.8h0M509.4 273.8h0M484.1 280.8h0" stroke="#55ffc8" stroke-width="1.70" stroke-linecap="round"/><path d="M435.4 247.3h0M403.7 256.7h0M429.4 253.4h0M438.2 267.0h0M412.8 310.7h0M412.0 314.7h0M438.5 266.6h0M411.2 290.1h0M416.7 288.2h0" stroke="#80ff80" stroke-width="1.16" stroke-linecap="round"/><path d="M427.1 259.7h0M423.2 259.9h0M419.1 257.4h0M436.4 260.1h0M420.1 258.4h0M433.4 257.0h0M433.0 263.1h0M419.4 262.5h0M464.4 276.9h0M460.6 275.7h0M457.1 277.7h0M464.9 276.7h0M468.1 282.1h0M470.8 284.3h0M470.4 283.4h0M477.7 275.2h0M465.8 282.6h0M432.5 286.4h0M460.5 288.6h0M450.3 292.9h0M447.5 285.8h0M431.2 295.7h0M447.9 294.1h0M447.8 293.6h0M425.0 292.1h0M444.1 298.7h0M529.4 258.3h0M499.7 271.3h0M522.6 253.2h0M528.0 261.5h0M506.5 272.3h0M525.1 266.0h0M524.2 263.9h0M519.0 270.0h0M538.5 257.9h0M511.0 272.4h0M531.8 242.3h0M541.3 244.6h0M533.0 239.8h0M531.5 239.9h0M530.7 241.7h0M530.2 239.6h0M494.6 257.7h0M489.0 261.2h0M536.6 285.5h0M503.9 273.5h0M490.8 272.4h0M545.3 283.4h0M500.8 282.9h0M512.6 276.5h0M497.0 278.3h0M499.4 269.0h0M515.1 287.3h0M504.8 279.9h0M521.4 283.0h0M497.4 270.3h0M481.4 284.8h0M514.3 270.3h0M491.3 284.6h0M526.8 280.7h0M499.1 272.7h0M482.0 276.6h0M506.1 273.9h0M497.6 283.8h0M525.3 274.9h0M521.9 269.4h0M511.2 271.4h0M528.2 287.4h0M512.5 286.3h0M542.4 256.0h0M547.9 259.4h0M541.0 263.7h0M541.5 262.4h0M552.9 261.9h0M545.8 264.9h0M533.5 264.7h0M544.3 271.4h0M539.0 274.3h0M537.9 262.8h0M486.7 287.9h0M485.3 279.9h0M483.1 279.1h0M478.6 284.4h0M487.8 280.9h0" stroke="#80ff80" stroke-width="1.30" stroke-linecap="round"/><path d="M456.4 275.6h0M463.1 280.0h0M467.5 282.6h0M446.1 294.7h0M446.8 288.7h0M461.6 294.8h0M442.2 289.3h0M537.9 250.1h0M527.6 256.8h0M510.7 270.2h0M527.4 244.0h0M527.3 285.5h0M501.1 288.1h0M479.5 280.2h0M542.3 283.8h0M518.6 281.8h0M531.7 281.7h0M542.0 282.7h0M518.7 287.0h0M535.8 277.4h0M482.2 273.0h0M506.2 289.1h0M520.9 274.9h0M544.0 259.4h0M549.8 259.7h0" stroke="#80ff80" stroke-width="1.70" stroke-linecap="round"/><path d="M436.0 253.4h0M421.8 291.5h0" stroke="#f2e600" stroke-width="1.16" stroke-linecap="round"/><path d="M421.9 246.9h0M426.0 248.3h0M427.7 247.8h0M435.1 249.0h0M431.2 249.0h0M428.5 259.9h0M419.8 259.4h0M425.4 264.0h0M436.2 259.3h0M432.6 262.6h0M435.0 258.8h0M421.9 260.5h0M432.6 258.0h0M434.4 258.9h0M424.9 255.5h0M436.2 258.6h0M436.1 257.4h0M429.9 256.6h0M445.4 281.2h0M440.1 283.8h0M441.9 284.3h0M447.9 281.7h0M449.0 279.3h0M457.2 275.7h0M458.5 282.0h0M462.7 278.0h0M460.0 283.3h0M455.0 275.2h0M461.8 277.1h0M462.8 281.8h0M456.3 278.4h0M458.2 282.7h0M463.2 280.0h0M472.6 278.5h0M476.1 281.9h0M466.1 286.0h0M472.6 279.5h0M478.9 276.3h0M440.8 297.2h0M455.9 292.3h0M447.2 296.2h0M427.7 292.6h0M443.5 286.7h0M512.0 264.0h0M510.8 262.4h0M529.0 251.5h0M517.0 268.7h0M521.2 264.9h0M507.1 266.9h0M501.0 270.5h0M507.9 264.5h0M512.0 270.4h0M504.0 268.3h0M522.0 267.2h0M532.4 244.1h0M527.8 240.3h0M531.9 241.6h0M535.1 241.0h0M542.1 240.3h0M489.2 258.2h0M488.1 264.7h0M493.2 259.2h0M491.9 254.7h0M492.5 260.3h0M496.1 258.3h0M488.0 260.3h0M493.9 254.4h0M500.4 289.4h0M498.3 284.9h0M543.2 280.3h0M492.1 275.3h0M494.3 273.1h0M506.3 271.4h0M483.7 282.9h0M520.0 288.3h0M491.5 275.0h0M488.5 278.5h0M526.4 273.6h0M506.6 286.0h0M534.3 274.8h0M524.8 271.7h0M512.4 287.9h0M514.0 286.6h0M487.4 277.4h0M549.1 271.1h0M535.4 261.2h0M544.1 267.9h0" stroke="#f2e600" stroke-width="1.30" stroke-linecap="round"/><path d="M424.7 248.3h0M422.8 246.7h0M433.9 250.0h0M433.0 260.0h0M443.3 282.3h0M446.0 281.9h0M460.7 280.9h0M462.2 278.5h0M457.8 278.6h0M479.2 283.6h0M475.7 282.6h0M474.4 281.2h0M477.7 278.7h0M434.3 295.4h0M517.4 273.4h0M541.0 245.2h0M490.6 262.0h0M484.2 260.5h0M488.0 257.8h0M490.0 272.0h0M507.5 273.2h0M517.1 274.3h0M516.1 281.7h0M532.3 280.1h0M485.9 282.1h0M493.0 280.4h0" stroke="#f2e600" stroke-width="1.70" stroke-linecap="round"/><path d="M438.7 250.1h0M436.8 252.9h0M408.8 306.7h0M415.2 317.1h0M414.2 289.7h0M419.3 289.2h0M424.8 292.4h0M410.2 292.5h0" stroke="#ff8a00" stroke-width="1.16" stroke-linecap="round"/><path d="M423.0 246.4h0M421.1 246.8h0M426.6 248.4h0M429.0 249.9h0M432.4 248.4h0M429.1 247.4h0M429.2 248.5h0M418.3 259.5h0M432.6 258.3h0M427.0 264.7h0M434.1 262.8h0M418.5 258.7h0M425.0 257.2h0M426.9 260.3h0M428.2 259.0h0M427.2 258.2h0M453.2 280.9h0M446.7 281.1h0M444.2 283.2h0M434.9 284.6h0M435.2 284.5h0M436.4 284.6h0M436.5 285.0h0M436.8 283.7h0M444.9 280.3h0M451.1 282.3h0M434.2 286.2h0M456.4 280.7h0M453.6 279.1h0M461.5 275.7h0M461.8 278.1h0M462.7 282.8h0M454.2 277.3h0M461.4 282.4h0M457.6 276.4h0M454.8 279.3h0M461.1 282.7h0M459.6 274.1h0M466.3 277.2h0M470.1 278.2h0M474.0 278.1h0M505.8 268.7h0M527.6 266.3h0M501.9 270.0h0M540.4 255.1h0M519.6 271.9h0M534.0 262.1h0M518.2 258.6h0M517.0 268.9h0M502.6 268.3h0M535.7 252.5h0M523.1 269.4h0M535.9 259.8h0M530.6 253.1h0M515.5 267.5h0M513.4 264.3h0M524.0 255.0h0M533.0 263.6h0M501.9 270.4h0M542.4 253.2h0M528.5 259.2h0M530.2 254.4h0M520.4 254.4h0M530.5 257.5h0M526.9 259.0h0M532.0 257.5h0M539.5 243.0h0M530.9 242.5h0M500.4 270.2h0M502.0 276.4h0M494.9 273.2h0M502.6 268.5h0M485.5 260.7h0M490.4 262.6h0M491.8 257.0h0M490.4 254.2h0M485.9 263.6h0M489.5 259.6h0M496.1 259.6h0M482.4 276.1h0M507.2 275.8h0M533.9 275.6h0M509.0 277.0h0M531.6 272.8h0M543.9 281.0h0M499.4 283.6h0M502.6 286.3h0M504.8 280.0h0M517.9 284.1h0M545.1 283.7h0M538.1 270.2h0M543.2 259.4h0" stroke="#ff8a00" stroke-width="1.30" stroke-linecap="round"/><path d="M431.3 248.3h0M423.1 256.4h0M425.9 256.2h0M436.3 281.9h0M434.3 285.1h0M446.1 281.2h0M461.7 280.2h0M468.0 284.9h0M473.6 280.7h0M475.5 278.1h0M513.9 267.9h0M534.5 264.3h0M528.2 252.5h0M529.6 262.1h0M497.2 271.7h0M505.7 269.4h0M496.7 273.4h0M484.6 261.9h0M494.7 258.5h0M488.6 257.0h0M528.7 285.0h0" stroke="#ff8a00" stroke-width="1.70" stroke-linecap="round"/><path d="M442.9 262.7h0M412.0 309.9h0M446.5 268.2h0" stroke="#e81500" stroke-width="1.16" stroke-linecap="round"/><path d="M419.6 247.6h0M423.9 249.7h0M424.9 248.0h0M427.6 246.1h0M420.2 246.3h0M420.2 247.7h0M426.4 248.7h0M422.4 247.4h0M425.1 246.8h0M421.9 247.6h0M429.8 246.4h0M424.7 261.1h0M423.1 256.9h0M431.2 255.5h0M435.7 262.4h0M423.9 258.5h0M421.1 258.0h0M428.8 261.0h0M422.4 261.4h0M435.1 258.9h0M428.8 260.5h0M431.0 257.4h0M444.7 280.7h0M442.7 282.4h0M442.4 281.3h0M436.0 283.6h0M451.7 281.3h0M443.2 282.7h0M455.2 279.5h0M453.8 281.5h0M461.0 280.3h0M455.3 280.2h0M452.9 277.8h0M455.4 281.9h0M464.3 278.8h0M455.2 282.1h0M458.4 283.8h0M454.1 278.4h0M444.9 296.1h0M449.4 286.6h0M531.6 252.5h0M517.5 266.1h0M504.3 275.9h0M520.6 264.9h0M541.1 255.7h0M508.2 276.5h0M510.9 260.8h0M532.0 266.2h0M504.6 274.3h0M503.5 269.5h0M510.9 273.8h0M540.6 250.2h0M523.7 264.2h0M514.8 258.7h0M538.0 258.2h0M525.0 253.3h0M514.6 267.5h0M540.7 251.8h0M527.9 266.7h0M530.2 266.0h0M508.6 272.6h0M512.7 270.7h0M513.3 258.3h0M519.1 268.4h0M519.0 258.0h0M531.5 251.4h0M516.5 257.1h0M515.4 260.5h0M505.2 264.2h0M534.7 257.4h0M501.4 275.1h0M500.1 270.2h0M517.8 271.5h0M517.1 272.5h0M530.4 262.4h0M521.4 264.5h0M517.6 269.0h0M521.8 263.9h0M519.2 254.2h0M522.7 269.5h0M518.4 260.3h0M528.2 263.2h0M506.4 270.0h0M527.0 257.9h0M502.8 275.3h0M529.3 257.9h0M522.4 259.8h0M519.4 254.0h0M523.8 263.2h0M526.3 260.0h0M522.1 255.6h0M525.9 254.2h0M522.3 257.0h0M522.6 256.3h0M524.4 259.1h0M518.7 259.9h0M520.9 257.6h0M522.8 259.2h0M524.4 261.7h0M524.5 259.1h0M527.4 253.6h0M516.1 262.2h0M504.3 268.3h0M502.3 270.6h0M502.5 269.5h0M496.3 273.2h0M497.4 273.9h0M494.1 271.1h0M495.5 271.7h0M496.5 271.1h0M489.8 263.3h0M492.4 260.5h0M487.2 255.0h0M487.4 255.5h0M490.8 259.8h0M491.9 265.3h0M512.9 271.9h0M489.8 277.2h0M480.1 280.5h0M506.5 278.8h0M510.3 281.6h0M511.6 289.6h0M491.0 281.0h0M519.2 285.4h0M541.1 285.9h0M522.6 277.1h0M500.6 282.2h0" stroke="#e81500" stroke-width="1.30" stroke-linecap="round"/><path d="M421.5 247.6h0M433.5 248.5h0M432.2 262.9h0M421.3 261.0h0M430.4 259.3h0M433.0 285.5h0M441.7 284.6h0M454.6 274.7h0M505.6 266.9h0M532.5 264.4h0M536.8 252.3h0M512.7 272.3h0M523.0 263.1h0M518.5 261.0h0M518.6 261.6h0M528.6 259.2h0M531.4 254.1h0M516.0 260.4h0M527.5 254.1h0M522.9 262.3h0M491.7 274.7h0M498.1 269.4h0M514.0 270.1h0M520.6 280.3h0M506.8 284.8h0" stroke="#e81500" stroke-width="1.70" stroke-linecap="round"/><path d="M411.2 257.6h0M423.3 263.2h0M446.6 268.3h0M408.8 297.9h0M440.0 297.5h0M443.0 298.5h0M446.5 299.5h0" stroke="#a50000" stroke-width="1.16" stroke-linecap="round"/><path d="M421.1 247.8h0M422.4 246.7h0M422.3 247.7h0M434.7 259.4h0M427.2 259.1h0M442.6 284.2h0M446.2 281.7h0M460.4 282.5h0M460.6 276.8h0M455.4 280.5h0M465.9 276.9h0M426.3 291.0h0M436.1 294.5h0M517.0 259.5h0M527.4 267.4h0M516.9 268.0h0M508.8 272.0h0M526.1 267.9h0M521.3 257.6h0M514.7 264.9h0M520.9 256.8h0M509.2 261.4h0M539.4 251.9h0M517.7 257.8h0M536.8 259.4h0M533.6 259.8h0M505.5 276.6h0M534.9 261.5h0M511.6 265.3h0M532.4 255.5h0M513.3 265.7h0M528.0 257.0h0M527.7 255.0h0M522.6 258.2h0M525.2 261.2h0M522.4 256.4h0M530.6 256.1h0M525.8 254.6h0M518.6 255.5h0M528.5 261.1h0M525.6 260.1h0M530.4 260.6h0M517.7 260.8h0M527.9 256.6h0M519.2 262.7h0M523.3 254.0h0M521.0 264.3h0M532.3 256.4h0M519.8 256.6h0M531.6 255.3h0M527.3 252.4h0M522.9 254.0h0M527.5 256.0h0M518.3 260.3h0M519.6 253.9h0M490.7 272.2h0M506.4 271.9h0M502.9 268.1h0M491.7 270.9h0M492.5 273.8h0M496.1 273.7h0M505.8 268.5h0M504.3 268.2h0M493.4 274.8h0M493.7 273.9h0M495.7 258.3h0M503.4 269.5h0M497.9 277.2h0M497.6 271.1h0M506.2 275.1h0M513.6 281.3h0M502.2 273.2h0M494.3 275.7h0" stroke="#a50000" stroke-width="1.30" stroke-linecap="round"/><path d="M435.6 283.5h0M456.9 279.3h0M538.8 255.9h0M501.6 270.2h0M526.6 262.2h0M509.3 262.0h0M506.1 273.5h0M540.2 256.4h0M526.8 255.6h0M520.2 255.6h0M530.4 255.4h0M519.4 257.9h0M491.9 269.1h0M498.4 271.8h0M490.3 270.7h0M509.3 275.6h0" stroke="#a50000" stroke-width="1.70" stroke-linecap="round"/><polyline points="390.0,292.2 433.0,277.0 444.7,273.2 451.7,270.2 457.0,267.6 462.2,265.2 468.0,262.9 479.7,260.2 492.5,257.6 505.7,254.9 518.0,251.2 526.5,248.8 534.0,247.2 541.7,246.1 553.0,245.2 572.0,244.5" fill="none" stroke="#111" stroke-width="1.6" stroke-linejoin="round"/></g><rect x="390.5" y="32.5" width="181.0" height="180.0" fill="none" stroke="#ababab"/><rect x="589.5" y="32.5" width="91.0" height="180.0" fill="none" stroke="#ababab"/><rect x="390.5" y="231.5" width="181.0" height="90.0" fill="none" stroke="#ababab"/><path d="M435.5,212.5v-2M435.5,32.5v2M435.5,321.5v-2M435.5,231.5v2M480.5,212.5v-2M480.5,32.5v2M480.5,321.5v-2M480.5,231.5v2M526.5,212.5v-2M526.5,32.5v2M526.5,321.5v-2M526.5,231.5v2M390.5,194.5h2M571.5,194.5h-2M589.5,194.5h2M680.5,194.5h-2M390.5,176.5h2M571.5,176.5h-2M589.5,176.5h2M680.5,176.5h-2M390.5,158.5h2M571.5,158.5h-2M589.5,158.5h2M680.5,158.5h-2M390.5,140.5h2M571.5,140.5h-2M589.5,140.5h2M680.5,140.5h-2M390.5,122.5h2M571.5,122.5h-2M589.5,122.5h2M680.5,122.5h-2M390.5,104.5h2M571.5,104.5h-2M589.5,104.5h2M680.5,104.5h-2M390.5,86.5h2M571.5,86.5h-2M589.5,86.5h2M680.5,86.5h-2M390.5,68.5h2M571.5,68.5h-2M589.5,68.5h2M680.5,68.5h-2M390.5,50.5h2M571.5,50.5h-2M589.5,50.5h2M680.5,50.5h-2M607.5,212.5v-2M607.5,32.5v2M390.5,249.5h2M571.5,249.5h-2M625.5,212.5v-2M625.5,32.5v2M390.5,267.5h2M571.5,267.5h-2M644.5,212.5v-2M644.5,32.5v2M390.5,285.5h2M571.5,285.5h-2M662.5,212.5v-2M662.5,32.5v2M390.5,303.5h2M571.5,303.5h-2" stroke="#8a8a8a" stroke-width="1" fill="none"/><text x="387.50" y="215.40" font-size="8" text-anchor="end" >30</text><text x="387.50" y="197.40" font-size="8" text-anchor="end" >40</text><text x="387.50" y="179.40" font-size="8" text-anchor="end" >50</text><text x="387.50" y="161.40" font-size="8" text-anchor="end" >60</text><text x="387.50" y="143.40" font-size="8" text-anchor="end" >70</text><text x="387.50" y="125.40" font-size="8" text-anchor="end" >80</text><text x="387.50" y="107.40" font-size="8" text-anchor="end" >90</text><text x="387.50" y="89.40" font-size="8" text-anchor="end" >100</text><text x="387.50" y="71.40" font-size="8" text-anchor="end" >110</text><text x="387.50" y="53.40" font-size="8" text-anchor="end" >120</text><text x="387.50" y="35.40" font-size="8" text-anchor="end" >130</text><text x="390.40" y="223.00" font-size="8" text-anchor="middle" >&#8722;50</text><text x="390.40" y="332.00" font-size="8" text-anchor="middle" >&#8722;50</text><text x="435.60" y="223.00" font-size="8" text-anchor="middle" >&#8722;25</text><text x="435.60" y="332.00" font-size="8" text-anchor="middle" >&#8722;25</text><text x="480.80" y="223.00" font-size="8" text-anchor="middle" >0</text><text x="480.80" y="332.00" font-size="8" text-anchor="middle" >0</text><text x="526.00" y="223.00" font-size="8" text-anchor="middle" >25</text><text x="526.00" y="332.00" font-size="8" text-anchor="middle" >25</text><text x="571.20" y="223.00" font-size="8" text-anchor="middle" >50</text><text x="571.20" y="332.00" font-size="8" text-anchor="middle" >50</text><text x="589.60" y="223.00" font-size="8" text-anchor="middle" >0</text><text x="387.50" y="234.40" font-size="8" text-anchor="end" >0</text><text x="607.78" y="223.00" font-size="8" text-anchor="middle" >10</text><text x="387.50" y="252.40" font-size="8" text-anchor="end" >10</text><text x="625.96" y="223.00" font-size="8" text-anchor="middle" >20</text><text x="387.50" y="270.40" font-size="8" text-anchor="end" >20</text><text x="644.14" y="223.00" font-size="8" text-anchor="middle" >30</text><text x="387.50" y="288.40" font-size="8" text-anchor="end" >30</text><text x="662.32" y="223.00" font-size="8" text-anchor="middle" >40</text><text x="387.50" y="306.40" font-size="8" text-anchor="end" >40</text><text x="680.50" y="223.00" font-size="8" text-anchor="middle" >50</text><text x="387.50" y="324.40" font-size="8" text-anchor="end" >50</text><text transform="translate(370.7,122.7) rotate(-90)" font-size="9" text-anchor="middle">Y (km)</text><text transform="translate(375.8,276.6) rotate(-90)" font-size="9" text-anchor="middle">Depth (km)</text><text x="481.00" y="341.00" font-size="9" text-anchor="middle" >X (km)</text><text x="635.20" y="232.60" font-size="9" text-anchor="middle" >Depth (km)</text><text x="374.5" y="18" font-size="21" style="stroke:#fff;stroke-width:0.35px">(b)</text><text x="603.80" y="266.00" font-size="8.4" text-anchor="middle" >M=0</text><text x="620.80" y="266.00" font-size="8.4" text-anchor="middle" >1</text><text x="638.60" y="266.00" font-size="8.4" text-anchor="middle" >2</text><text x="656.80" y="266.00" font-size="8.4" text-anchor="middle" >3</text><text x="674.90" y="266.00" font-size="8.4" text-anchor="middle" >4</text><circle cx="603.8" cy="258.6" r="0.3" fill="#222"/><circle cx="620.8" cy="258.6" r="0.45" fill="#222"/><circle cx="638.6" cy="258.6" r="0.55" fill="#222"/><circle cx="656.8" cy="258.6" r="0.65" fill="#222"/><circle cx="674.9" cy="258.6" r="0.75" fill="#222"/><text x="635.00" y="288.90" font-size="7.3" text-anchor="middle" >Days</text><rect x="598.8" y="292.4" width="72.4" height="10.9" fill="url(#jet)"/><text x="608.30" y="312.10" font-size="7.3" text-anchor="middle" >&#8722;100</text><text x="629.70" y="312.10" font-size="7.3" text-anchor="middle" >0</text><text x="651.00" y="312.10" font-size="7.3" text-anchor="middle" >100</text>
</svg></body></html>
